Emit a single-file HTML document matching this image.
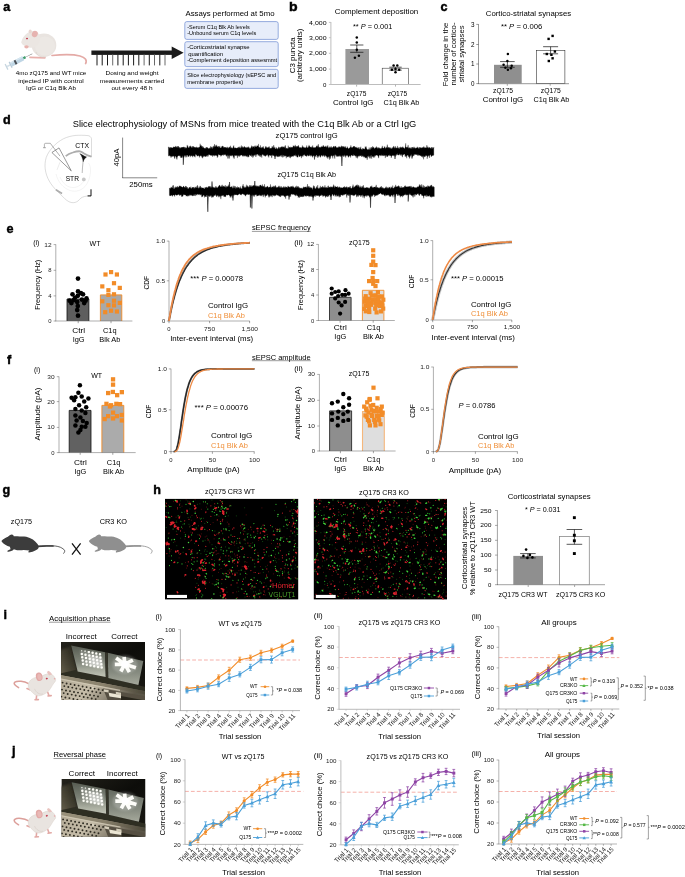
<!DOCTYPE html>
<html lang="en"><head><meta charset="utf-8"><title>Figure</title>
<style>html,body{margin:0;padding:0;background:#fff}svg{display:block}text{font-family:"Liberation Sans",sans-serif}</style></head>
<body>
<svg width="685" height="877" viewBox="0 0 685 877">
<rect width="685" height="877" fill="#fff"/>
<text x="3.3" y="10.5" font-size="12.6" font-weight="bold" fill="#000" stroke="#000" stroke-width="0.45">a</text>
<g>
<path d="M52 55.5 C62 54.5 72 54 80 56 C85 57.5 87.5 60 85.6 63.6" fill="none" stroke="#e4aaa6" stroke-width="1.7" stroke-linecap="round"/>
<path d="M30 57.3 L45 57.8" stroke="#e8b0ac" stroke-width="1.7" stroke-linecap="round"/>
<ellipse cx="44" cy="45.2" rx="12.3" ry="11.8" fill="#e9e4e0"/>
<ellipse cx="45" cy="46" rx="10" ry="9.5" fill="#ece8e4"/>
<path d="M21.2 42.6 C22 38 26 32.5 31 31.2 C36 30 40 33 40 39 C40 45 34 49 29 47.5 C25 46.5 22 45 21.2 42.6Z" fill="#ebe6e2"/>
<ellipse cx="34.8" cy="34" rx="2.9" ry="3.3" fill="#e6b3b0" transform="rotate(25 34.8 34)"/>
<ellipse cx="30.2" cy="31.4" rx="1.6" ry="2" fill="#e9d8d2"/>
<ellipse cx="27" cy="38.6" rx="1" ry="0.8" fill="#c0394b"/>
<ellipse cx="26.5" cy="46.8" rx="2.2" ry="1.6" fill="#e8b3ae"/>
<path d="M36 52 C37 56 41 57.5 46 57" fill="none" stroke="#d9d0ca" stroke-width="0.7"/>
<g transform="rotate(-27 17 61.5)">
<rect x="4.6" y="58.4" width="1.3" height="6.2" fill="#c6d5df"/>
<rect x="5.9" y="60.7" width="3.6" height="1.6" fill="#d3e0e8"/>
<rect x="9.2" y="58.3" width="1.3" height="6.4" fill="#b7cad8"/>
<rect x="10.5" y="59.3" width="13.6" height="4.4" fill="#bfd6e5" rx="0.6"/>
<rect x="10.5" y="59.3" width="13.6" height="1.3" fill="#d6e6f0" rx="0.6"/>
<rect x="14.4" y="59.3" width="1.9" height="4.4" fill="#4a4f55"/>
<rect x="24.1" y="60.3" width="2.5" height="2.4" fill="#3f9e6c"/>
<rect x="26.6" y="61.25" width="7.6" height="0.5" fill="#777"/>
</g>
</g>
<text x="51.0" y="75.1" font-size="5.6" text-anchor="middle" textLength="70.5" lengthAdjust="spacingAndGlyphs">4mo zQ175 and WT mice</text>
<text x="51.0" y="82.7" font-size="5.6" text-anchor="middle" textLength="65.5" lengthAdjust="spacingAndGlyphs">injected IP with control</text>
<text x="51.0" y="89.9" font-size="5.6" text-anchor="middle" textLength="50.0" lengthAdjust="spacingAndGlyphs">IgG or C1q Blk Ab</text>
<rect x="91.4" y="50.5" width="82.0" height="4.4" fill="#1a1a1a" />
<path d="M171.7 46.6 L183.6 52.8 L171.7 59.0Z" fill="#1a1a1a"/>
<rect x="96.5" y="54.5" width="1.0" height="10.9" fill="#1a1a1a" />
<rect x="101.7" y="54.5" width="1.0" height="10.9" fill="#1a1a1a" />
<rect x="107.0" y="54.5" width="1.0" height="10.9" fill="#1a1a1a" />
<rect x="112.2" y="54.5" width="1.0" height="10.9" fill="#6a6a6a" />
<rect x="117.4" y="54.5" width="1.0" height="10.9" fill="#1a1a1a" />
<rect x="122.7" y="54.5" width="1.0" height="10.9" fill="#1a1a1a" />
<rect x="127.9" y="54.5" width="1.0" height="10.9" fill="#1a1a1a" />
<rect x="133.1" y="54.5" width="1.0" height="10.9" fill="#1a1a1a" />
<rect x="138.3" y="54.5" width="1.0" height="10.9" fill="#1a1a1a" />
<rect x="143.6" y="54.5" width="1.0" height="10.9" fill="#6a6a6a" />
<rect x="148.8" y="54.5" width="1.0" height="10.9" fill="#1a1a1a" />
<rect x="154.0" y="54.5" width="1.0" height="10.9" fill="#6a6a6a" />
<rect x="159.3" y="54.5" width="1.0" height="10.9" fill="#1a1a1a" />
<rect x="164.5" y="54.5" width="1.0" height="10.9" fill="#6a6a6a" />
<text x="132.0" y="75.1" font-size="5.6" text-anchor="middle" textLength="53.0" lengthAdjust="spacingAndGlyphs">Dosing and weight</text>
<text x="132.0" y="82.7" font-size="5.6" text-anchor="middle" textLength="64.5" lengthAdjust="spacingAndGlyphs">measurements carried</text>
<text x="132.0" y="89.9" font-size="5.6" text-anchor="middle" textLength="41.0" lengthAdjust="spacingAndGlyphs">out every 48 h</text>
<text x="185.5" y="16.0" font-size="7.2" textLength="89.0" lengthAdjust="spacingAndGlyphs">Assays performed at 5mo</text>
<rect x="184.8" y="21.6" width="93.4" height="17.8" fill="#e7edfa" stroke="#7591d3" stroke-width="0.75" rx="2" />
<rect x="184.8" y="41.7" width="93.4" height="24.9" fill="#e7edfa" stroke="#7591d3" stroke-width="0.75" rx="2" />
<rect x="184.8" y="69.3" width="93.4" height="19.1" fill="#e7edfa" stroke="#7591d3" stroke-width="0.75" rx="2" />
<text x="187.2" y="28.5" font-size="4.6" textLength="62.5" lengthAdjust="spacingAndGlyphs">-Serum C1q Blk Ab levels</text>
<text x="187.2" y="35.0" font-size="4.6" textLength="69.0" lengthAdjust="spacingAndGlyphs">-Unbound serum C1q levels</text>
<text x="187.2" y="49.1" font-size="4.6" textLength="62.5" lengthAdjust="spacingAndGlyphs">-Corticostriatal synapse</text>
<text x="188.2" y="55.6" font-size="4.6" textLength="35.0" lengthAdjust="spacingAndGlyphs">quantification</text>
<text x="187.2" y="62.4" font-size="4.6" textLength="90.0" lengthAdjust="spacingAndGlyphs">-Complement deposition assesmmt</text>
<text x="187.2" y="77.0" font-size="4.6" textLength="89.0" lengthAdjust="spacingAndGlyphs">Slice electrophysiology (sEPSC and</text>
<text x="187.2" y="83.8" font-size="4.6" textLength="56.0" lengthAdjust="spacingAndGlyphs">membrane properties)</text>
<text x="289.0" y="10.5" font-size="12.6" font-weight="bold" fill="#000" stroke="#000" stroke-width="0.45" textLength="8.6" lengthAdjust="spacingAndGlyphs">b</text>
<text x="376.5" y="14.0" font-size="7" text-anchor="middle" textLength="83.5" lengthAdjust="spacingAndGlyphs">Complement deposition</text>
<text transform="translate(294.6 55.3) rotate(-90)" font-size="7" text-anchor="middle" textLength="36.0" lengthAdjust="spacingAndGlyphs">C3 puncta</text>
<text transform="translate(302.3 55.3) rotate(-90)" font-size="7" text-anchor="middle" textLength="53.5" lengthAdjust="spacingAndGlyphs">(arbitrary units)</text>
<rect x="345.4" y="49.0" width="23.6" height="35.6" fill="#9a9a9a" />
<rect x="382.2" y="68.2" width="26.1" height="16.4" fill="#fff" stroke="#333" stroke-width="0.55" />
<line x1="330.9" y1="22.0" x2="330.9" y2="85.0" stroke="#bdbdbd" stroke-width="1.0" />
<line x1="330.4" y1="84.5" x2="420.6" y2="84.5" stroke="#bdbdbd" stroke-width="1.0" />
<line x1="328.9" y1="22.4" x2="330.9" y2="22.4" stroke="#bdbdbd" stroke-width="0.9" />
<text x="326.5" y="24.5" font-size="6.1" text-anchor="end" textLength="17.4" lengthAdjust="spacingAndGlyphs">4,000</text>
<line x1="328.9" y1="37.7" x2="330.9" y2="37.7" stroke="#bdbdbd" stroke-width="0.9" />
<text x="326.5" y="39.8" font-size="6.1" text-anchor="end" textLength="17.4" lengthAdjust="spacingAndGlyphs">3,000</text>
<line x1="328.9" y1="53.3" x2="330.9" y2="53.3" stroke="#bdbdbd" stroke-width="0.9" />
<text x="326.5" y="55.4" font-size="6.1" text-anchor="end" textLength="17.4" lengthAdjust="spacingAndGlyphs">2,000</text>
<line x1="328.9" y1="69.1" x2="330.9" y2="69.1" stroke="#bdbdbd" stroke-width="0.9" />
<text x="326.5" y="71.2" font-size="6.1" text-anchor="end" textLength="17.4" lengthAdjust="spacingAndGlyphs">1,000</text>
<line x1="328.9" y1="84.5" x2="330.9" y2="84.5" stroke="#bdbdbd" stroke-width="0.9" />
<text x="326.5" y="86.6" font-size="6.1" text-anchor="end">0</text>
<line x1="356.6" y1="84.8" x2="356.6" y2="86.6" stroke="#666" stroke-width="0.5" />
<line x1="395.5" y1="84.8" x2="395.5" y2="86.6" stroke="#666" stroke-width="0.5" />
<line x1="356.8" y1="45.0" x2="356.8" y2="52.3" stroke="#111" stroke-width="0.7" />
<line x1="350.2" y1="45.0" x2="363.4" y2="45.0" stroke="#111" stroke-width="0.7" />
<line x1="350.2" y1="52.3" x2="363.4" y2="52.3" stroke="#111" stroke-width="0.7" />
<line x1="395.5" y1="67.2" x2="395.5" y2="70.2" stroke="#111" stroke-width="0.7" />
<line x1="389.3" y1="67.2" x2="401.7" y2="67.2" stroke="#111" stroke-width="0.7" />
<line x1="389.3" y1="70.2" x2="401.7" y2="70.2" stroke="#111" stroke-width="0.7" />
<circle cx="356.8" cy="37.6" r="1.25" fill="#000"/>
<circle cx="356.8" cy="42.4" r="1.25" fill="#000"/>
<circle cx="356.8" cy="49.7" r="1.25" fill="#000"/>
<circle cx="358.9" cy="55.8" r="1.25" fill="#000"/>
<circle cx="354.9" cy="57.7" r="1.25" fill="#000"/>
<circle cx="393.6" cy="65.5" r="1.25" fill="#000"/>
<circle cx="397.3" cy="65.5" r="1.25" fill="#000"/>
<circle cx="391.9" cy="69.7" r="1.25" fill="#000"/>
<circle cx="399.2" cy="69.7" r="1.25" fill="#000"/>
<circle cx="395.5" cy="69.1" r="1.25" fill="#000"/>
<circle cx="395.5" cy="72.3" r="1.25" fill="#000"/>
<text x="352.9" y="29.3" font-size="7" textLength="39.5" lengthAdjust="spacingAndGlyphs">** <tspan font-style="italic">P</tspan> = 0.001</text>
<text x="356.6" y="96.4" font-size="6.4" text-anchor="middle" textLength="19.5" lengthAdjust="spacingAndGlyphs">zQ175</text>
<text x="353.2" y="104.6" font-size="6.4" text-anchor="middle" textLength="40.6" lengthAdjust="spacingAndGlyphs">Control IgG</text>
<text x="397.4" y="96.4" font-size="6.4" text-anchor="middle" textLength="19.5" lengthAdjust="spacingAndGlyphs">zQ175</text>
<text x="401.4" y="104.6" font-size="6.4" text-anchor="middle" textLength="35.9" lengthAdjust="spacingAndGlyphs">C1q Blk Ab</text>
<text x="440.6" y="10.5" font-size="12.6" font-weight="bold" fill="#000" stroke="#000" stroke-width="0.45">c</text>
<text x="528.5" y="15.5" font-size="7" text-anchor="middle" textLength="85.5" lengthAdjust="spacingAndGlyphs">Cortico-striatal synapses</text>
<text transform="translate(447.6 54.6) rotate(-90)" font-size="6.6" text-anchor="middle" textLength="64.0" lengthAdjust="spacingAndGlyphs">Fold change in the</text>
<text transform="translate(456.1 54.0) rotate(-90)" font-size="6.6" text-anchor="middle" textLength="63.0" lengthAdjust="spacingAndGlyphs">number of cortico-</text>
<text transform="translate(464.2 54.0) rotate(-90)" font-size="6.6" text-anchor="middle" textLength="57.0" lengthAdjust="spacingAndGlyphs">striatal synapses</text>
<line x1="478.5" y1="24.2" x2="478.5" y2="83.9" stroke="#333" stroke-width="0.5" />
<line x1="478.3" y1="83.7" x2="569.0" y2="83.7" stroke="#333" stroke-width="0.5" />
<line x1="476.3" y1="24.4" x2="478.5" y2="24.4" stroke="#333" stroke-width="0.5" />
<text x="474.4" y="26.5" font-size="6.3" text-anchor="end">3</text>
<line x1="476.3" y1="44.5" x2="478.5" y2="44.5" stroke="#333" stroke-width="0.5" />
<text x="474.4" y="46.6" font-size="6.3" text-anchor="end">2</text>
<line x1="476.3" y1="64.0" x2="478.5" y2="64.0" stroke="#333" stroke-width="0.5" />
<text x="474.4" y="66.1" font-size="6.3" text-anchor="end">1</text>
<line x1="476.3" y1="83.6" x2="478.5" y2="83.6" stroke="#333" stroke-width="0.5" />
<text x="474.4" y="85.7" font-size="6.3" text-anchor="end">0</text>
<rect x="494.0" y="64.8" width="27.7" height="18.9" fill="#8f8f8f" />
<rect x="536.5" y="50.3" width="28.4" height="33.4" fill="#fff" stroke="#222" stroke-width="0.55" />
<line x1="507.3" y1="83.9" x2="507.3" y2="85.8" stroke="#555" stroke-width="0.5" />
<line x1="550.2" y1="83.9" x2="550.2" y2="85.8" stroke="#555" stroke-width="0.5" />
<line x1="507.4" y1="61.6" x2="507.4" y2="67.3" stroke="#111" stroke-width="0.7" />
<line x1="500.1" y1="61.6" x2="514.7" y2="61.6" stroke="#111" stroke-width="0.7" />
<line x1="500.1" y1="67.3" x2="514.7" y2="67.3" stroke="#111" stroke-width="0.7" />
<line x1="550.6" y1="46.7" x2="550.6" y2="53.8" stroke="#111" stroke-width="0.7" />
<line x1="543.1" y1="46.7" x2="558.1" y2="46.7" stroke="#111" stroke-width="0.7" />
<line x1="543.1" y1="53.8" x2="558.1" y2="53.8" stroke="#111" stroke-width="0.7" />
<circle cx="507.9" cy="54.0" r="1.25" fill="#000"/>
<circle cx="507.4" cy="61.0" r="1.25" fill="#000"/>
<circle cx="503.6" cy="64.8" r="1.25" fill="#000"/>
<circle cx="511.7" cy="65.8" r="1.25" fill="#000"/>
<circle cx="505.4" cy="67.8" r="1.25" fill="#000"/>
<circle cx="507.9" cy="69.8" r="1.25" fill="#000"/>
<circle cx="510.9" cy="68.3" r="1.25" fill="#000"/>
<rect x="551.4" y="34.7" width="2.4" height="2.4" fill="#000"/>
<rect x="547.4" y="37.7" width="2.4" height="2.4" fill="#000"/>
<rect x="553.7" y="50.3" width="2.4" height="2.4" fill="#000"/>
<rect x="545.6" y="52.8" width="2.4" height="2.4" fill="#000"/>
<rect x="550.2" y="53.6" width="2.4" height="2.4" fill="#000"/>
<rect x="551.4" y="57.1" width="2.4" height="2.4" fill="#000"/>
<rect x="547.6" y="59.8" width="2.4" height="2.4" fill="#000"/>
<text x="501.0" y="29.3" font-size="7" textLength="41.3" lengthAdjust="spacingAndGlyphs">** <tspan font-style="italic">P</tspan> = 0.006</text>
<text x="503.0" y="93.2" font-size="6.4" text-anchor="middle" textLength="20.0" lengthAdjust="spacingAndGlyphs">zQ175</text>
<text x="503.0" y="102.2" font-size="6.4" text-anchor="middle" textLength="40.5" lengthAdjust="spacingAndGlyphs">Control IgG</text>
<text x="550.8" y="93.2" font-size="6.4" text-anchor="middle" textLength="20.0" lengthAdjust="spacingAndGlyphs">zQ175</text>
<text x="551.4" y="102.2" font-size="6.4" text-anchor="middle" textLength="36.0" lengthAdjust="spacingAndGlyphs">C1q Blk Ab</text>
<text x="3.1" y="124.3" font-size="12.6" font-weight="bold" fill="#000" stroke="#000" stroke-width="0.45">d</text>
<text x="72.8" y="126.7" font-size="8.2" textLength="343.5" lengthAdjust="spacingAndGlyphs">Slice electrophysiology of MSNs from mice treated with the C1q Blk Ab or a Ctrl IgG</text>
<g fill="none" stroke="#a8a8a8" stroke-width="0.4">
<path d="M91.5 157 L91.5 138.7 C90.8 136.6 89.6 135.8 88 135.6 C84 135.2 79 135.2 75.9 135.4 C71.5 135.8 67 137 63.6 138.7 C59.5 140.8 56 143.5 53.4 146.4 C50 150 47.5 153.8 46.2 157.6 C45 161.5 44.8 165.2 45.2 168.9 C45.8 173.5 47.2 177.5 49.3 181.1 C51.5 185 54.5 188.5 57.5 191.4 C60 193.8 62.5 196.5 64.6 198.5 C66.8 200.6 69.2 202.2 71.8 202.6 C74.2 202.9 76.3 202.2 77.9 201.1 C79.2 200.1 79.8 198.8 81 198 C83 196.7 85.5 196.2 88.1 196 L91.5 196"/>
</g>
<g fill="none" stroke="#e4e4e4" stroke-width="0.4">
<path d="M60 162.2 L57 169.9" stroke="#cfcfcf"/>
<path d="M56 174 C58 182 63 188 70 190.5 C76 192.3 81 190.5 85 186.5 C88 183 90 178 90.5 172 C90.8 168 90 165 88.5 163"/>
<path d="M60 177 C63 184 68 188 74 187.5 C79 187 83 183.5 85 179"/>
</g>
<path d="M65.7 156.1 C68 154.2 70.4 153.2 72.8 152.5 C75.2 151.7 77.8 151.1 80 151.3 C81.8 151.6 82.8 152.8 84 153.5 C86.2 154.9 88.8 156 91.5 156.6" fill="none" stroke="#adadad" stroke-width="1.8"/>
<path d="M79.8 153.6 C82 154.6 84 156.3 86.6 156.9 C85 158 83.8 159.6 83.1 161.9 C82.8 159 81.8 155.8 79.8 153.6Z" fill="#111" stroke="#111" stroke-width="0.3"/>
<path d="M83.1 161.5 C82.6 165 82.4 169 82.2 173" fill="none" stroke="#555" stroke-width="0.4"/>
<path d="M91 189.3 L91 195.9 L87.6 195.9" fill="none" stroke="#111" stroke-width="1.0"/>
<circle cx="83.8" cy="179.4" r="1.9" fill="#c6c6c6"/>
<path d="M55.9 189.8 C58 191.2 60 192.4 62.1 193.4" fill="none" stroke="#adadad" stroke-width="1.7"/>
<path d="M51.9 152.5 L59 147.9 L71.3 170.9Z" fill="#fff" stroke="#333" stroke-width="0.5" stroke-linejoin="round"/>
<path d="M50.3 143.3 L60 156.1" fill="none" stroke="#333" stroke-width="0.4"/>
<path d="M50.3 143.3 L45.6 143.3 C44.8 143.3 44.4 143.7 44.4 144.5 L44.4 147.4" fill="none" stroke="#555" stroke-width="0.45"/>
<path d="M43.1 147.7 L45.8 147.7" fill="none" stroke="#777" stroke-width="0.7"/>
<text x="75.3" y="147.9" font-size="6.5" textLength="13.7" lengthAdjust="spacingAndGlyphs">CTX</text>
<text x="65.7" y="181.2" font-size="6.8" textLength="13.3" lengthAdjust="spacingAndGlyphs">STR</text>
<line x1="122.6" y1="137.6" x2="122.6" y2="178.0" stroke="#222" stroke-width="0.55" />
<line x1="122.4" y1="177.8" x2="157.2" y2="177.8" stroke="#222" stroke-width="0.55" />
<text transform="translate(118.8 157.6) rotate(-90)" font-size="6.6" text-anchor="middle" textLength="18.0" lengthAdjust="spacingAndGlyphs">40pA</text>
<text x="141.0" y="186.9" font-size="6.6" text-anchor="middle" textLength="23.5" lengthAdjust="spacingAndGlyphs">250ms</text>
<text x="275.6" y="138.1" font-size="6.6" textLength="62.0" lengthAdjust="spacingAndGlyphs">zQ175 control IgG</text>
<text x="277.4" y="176.9" font-size="6.6" textLength="58.6" lengthAdjust="spacingAndGlyphs">zQ175 C1q Blk Ab</text>
<path d="M168.4,147.1 168.7,146.8 169.1,148.3 169.4,148.3 169.7,147.2 170.1,147.7 170.4,148.4 170.7,147.0 171.0,148.2 171.4,147.3 171.7,148.2 172.0,147.8 172.4,148.1 172.7,147.8 173.0,147.5 173.4,147.2 173.7,146.7 174.0,146.9 174.3,146.9 174.7,147.0 175.0,147.8 175.3,147.1 175.7,145.9 176.0,146.9 176.3,147.5 176.7,146.9 177.0,146.3 177.3,148.2 177.6,146.2 178.0,147.5 178.3,146.1 178.6,146.5 179.0,147.9 179.3,148.6 179.6,147.1 180.0,147.9 180.3,147.6 180.6,148.1 180.9,148.4 181.3,147.1 181.6,147.6 181.9,148.1 182.3,147.0 182.6,148.1 182.9,147.1 183.3,147.6 183.6,146.8 183.9,147.3 184.2,147.3 184.6,147.2 184.9,148.7 185.2,147.0 185.6,148.8 185.9,148.1 186.2,148.2 186.6,147.9 186.9,147.1 187.2,144.9 187.5,147.2 187.9,145.8 188.2,147.4 188.5,147.8 188.9,147.8 189.2,147.4 189.5,146.9 189.9,145.9 190.2,147.0 190.5,145.7 190.8,146.4 191.2,148.1 191.5,147.7 191.8,146.6 192.2,148.3 192.5,146.1 192.8,147.3 193.2,146.8 193.5,146.2 193.8,147.6 194.1,147.3 194.5,147.2 194.8,147.2 195.1,147.9 195.5,147.1 195.8,148.0 196.1,147.5 196.5,146.7 196.8,148.1 197.1,147.9 197.4,147.4 197.8,147.6 198.1,148.3 198.4,148.0 198.8,147.0 199.1,147.6 199.4,147.0 199.8,147.3 200.1,143.7 200.4,146.1 200.7,146.1 201.1,145.0 201.4,147.0 201.7,146.0 202.1,147.5 202.4,147.7 202.7,146.0 203.1,147.2 203.4,147.0 203.7,147.9 204.1,148.3 204.4,147.9 204.7,148.2 205.0,148.9 205.4,148.2 205.7,148.0 206.0,147.6 206.4,147.1 206.7,147.8 207.0,148.8 207.4,147.3 207.7,148.0 208.0,148.1 208.3,148.7 208.7,148.8 209.0,148.0 209.3,147.8 209.7,148.7 210.0,148.6 210.3,148.2 210.7,146.2 211.0,148.9 211.3,146.8 211.6,148.5 212.0,147.1 212.3,148.7 212.6,148.5 213.0,146.3 213.3,146.1 213.6,147.3 214.0,147.5 214.3,145.4 214.6,144.1 214.9,147.3 215.3,147.1 215.6,145.5 215.9,145.8 216.3,146.6 216.6,144.8 216.9,146.6 217.3,146.4 217.6,146.9 217.9,146.7 218.2,146.5 218.6,146.0 218.9,147.9 219.2,147.2 219.6,147.1 219.9,145.9 220.2,147.5 220.6,147.9 220.9,147.9 221.2,147.6 221.5,147.4 221.9,146.2 222.2,146.5 222.5,145.8 222.9,146.6 223.2,146.3 223.5,147.4 223.9,147.4 224.2,147.0 224.5,147.2 224.8,147.8 225.2,147.0 225.5,147.7 225.8,147.4 226.2,148.2 226.5,147.6 226.8,148.0 227.2,146.7 227.5,148.2 227.8,148.3 228.1,147.3 228.5,148.4 228.8,148.1 229.1,147.5 229.5,147.2 229.8,147.0 230.1,147.2 230.5,145.7 230.8,148.4 231.1,147.8 231.4,148.5 231.8,147.6 232.1,147.6 232.4,148.6 232.8,148.2 233.1,147.8 233.4,146.2 233.8,145.5 234.1,148.1 234.4,148.6 234.8,147.6 235.1,148.2 235.4,147.7 235.7,148.1 236.1,148.0 236.4,148.1 236.7,148.6 237.1,148.0 237.4,148.2 237.7,147.5 238.1,148.4 238.4,147.2 238.7,148.0 239.0,146.7 239.4,148.0 239.7,148.2 240.0,146.5 240.4,148.5 240.7,148.0 241.0,147.8 241.4,145.4 241.7,147.4 242.0,147.4 242.3,147.8 242.7,146.3 243.0,147.6 243.3,147.1 243.7,147.8 244.0,147.7 244.3,146.2 244.7,147.1 245.0,147.3 245.3,148.1 245.6,147.4 246.0,147.2 246.3,147.9 246.6,148.1 247.0,146.8 247.3,147.1 247.6,148.0 248.0,147.7 248.3,147.0 248.6,146.6 248.9,148.1 249.3,147.6 249.6,148.5 249.9,148.6 250.3,148.4 250.6,147.9 250.9,147.4 251.3,146.9 251.6,145.6 251.9,147.4 252.2,146.2 252.6,147.3 252.9,148.0 253.2,146.3 253.6,146.8 253.9,147.0 254.2,147.9 254.6,145.7 254.9,147.1 255.2,146.7 255.5,147.3 255.9,145.5 256.2,147.0 256.5,146.9 256.9,146.2 257.2,145.6 257.5,146.3 257.9,145.8 258.2,147.0 258.5,143.9 258.8,147.3 259.2,147.4 259.5,147.0 259.8,147.4 260.2,147.9 260.5,145.3 260.8,148.1 261.2,148.2 261.5,147.9 261.8,147.2 262.1,147.8 262.5,147.2 262.8,147.7 263.1,146.2 263.5,147.6 263.8,148.3 264.1,148.9 264.5,148.7 264.8,148.7 265.1,148.1 265.4,146.3 265.8,147.3 266.1,147.7 266.4,146.6 266.8,148.1 267.1,148.0 267.4,147.4 267.8,147.8 268.1,148.0 268.4,147.2 268.8,147.0 269.1,146.4 269.4,147.0 269.7,148.8 270.1,148.0 270.4,148.1 270.7,149.0 271.1,148.5 271.4,148.0 271.7,148.2 272.1,146.1 272.4,147.2 272.7,147.6 273.0,147.5 273.4,148.0 273.7,145.1 274.0,146.3 274.4,147.7 274.7,147.6 275.0,148.4 275.4,148.9 275.7,148.9 276.0,147.2 276.3,147.8 276.7,148.8 277.0,148.4 277.3,148.5 277.7,149.5 278.0,148.4 278.3,148.3 278.7,146.7 279.0,147.6 279.3,149.2 279.6,147.2 280.0,148.7 280.3,147.3 280.6,147.7 281.0,147.1 281.3,146.5 281.6,147.1 282.0,147.6 282.3,147.3 282.6,146.9 282.9,146.3 283.3,146.9 283.6,147.0 283.9,147.6 284.3,147.7 284.6,146.4 284.9,147.5 285.3,145.2 285.6,146.9 285.9,148.8 286.2,148.3 286.6,147.9 286.9,148.4 287.2,148.7 287.6,148.2 287.9,148.3 288.2,145.6 288.6,148.7 288.9,148.1 289.2,147.1 289.5,147.9 289.9,147.0 290.2,146.8 290.5,147.7 290.9,147.8 291.2,147.8 291.5,147.2 291.9,147.0 292.2,146.9 292.5,147.6 292.8,147.7 293.2,145.5 293.5,145.9 293.8,146.6 294.2,145.9 294.5,147.4 294.8,146.6 295.2,144.8 295.5,147.4 295.8,146.1 296.1,147.4 296.5,146.3 296.8,146.8 297.1,146.3 297.5,147.0 297.8,145.9 298.1,145.6 298.5,145.6 298.8,146.4 299.1,148.0 299.4,147.4 299.8,147.5 300.1,147.9 300.4,147.3 300.8,148.0 301.1,147.4 301.4,148.6 301.8,147.5 302.1,146.9 302.4,145.4 302.8,147.2 303.1,147.5 303.4,146.7 303.7,147.9 304.1,146.9 304.4,147.9 304.7,147.9 305.1,147.7 305.4,148.3 305.7,147.7 306.1,147.0 306.4,147.9 306.7,145.4 307.0,147.4 307.4,147.5 307.7,148.1 308.0,147.8 308.4,146.3 308.7,147.9 309.0,144.9 309.4,147.0 309.7,146.1 310.0,147.1 310.3,147.3 310.7,147.3 311.0,146.8 311.3,146.8 311.7,147.7 312.0,147.6 312.3,147.5 312.7,145.4 313.0,146.9 313.3,148.0 313.6,147.6 314.0,148.1 314.3,147.2 314.6,148.1 315.0,147.8 315.3,147.5 315.6,147.4 316.0,147.0 316.3,146.8 316.6,145.8 316.9,145.9 317.3,147.0 317.6,145.5 317.9,147.8 318.3,144.1 318.6,146.4 318.9,147.8 319.3,147.2 319.6,147.2 319.9,147.3 320.2,147.4 320.6,147.4 320.9,146.8 321.2,146.9 321.6,147.3 321.9,145.9 322.2,146.4 322.6,147.1 322.9,147.0 323.2,145.1 323.5,146.2 323.9,146.5 324.2,147.1 324.5,147.0 324.9,146.5 325.2,146.8 325.5,146.9 325.9,145.7 326.2,146.6 326.5,147.4 326.8,147.3 327.2,146.2 327.5,147.5 327.8,145.2 328.2,147.3 328.5,148.5 328.8,147.4 329.2,147.7 329.5,147.8 329.8,146.5 330.1,147.4 330.5,147.6 330.8,147.5 331.1,146.2 331.5,147.6 331.8,147.7 332.1,147.9 332.5,147.1 332.8,148.4 333.1,147.1 333.4,146.4 333.8,146.1 334.1,147.6 334.4,147.3 334.8,146.3 335.1,146.3 335.4,146.4 335.8,145.9 336.1,148.1 336.4,147.5 336.8,147.4 337.1,147.4 337.4,148.0 337.7,147.5 338.1,147.5 338.4,146.5 338.7,147.7 339.1,146.9 339.4,146.4 339.7,147.3 340.1,147.2 340.4,147.6 340.7,147.2 341.0,146.3 341.4,145.7 341.7,146.7 342.0,147.5 342.4,147.0 342.7,146.0 343.0,147.3 343.4,146.3 343.7,146.7 344.0,147.6 344.3,147.6 344.7,146.4 345.0,147.8 345.3,147.8 345.7,146.3 346.0,148.0 346.3,148.0 346.7,148.4 347.0,147.6 347.3,146.6 347.6,147.7 348.0,148.2 348.3,148.8 348.6,148.7 349.0,148.4 349.3,147.8 349.6,148.2 350.0,147.5 350.3,146.9 350.6,147.7 350.9,145.3 351.3,147.8 351.6,147.7 351.9,147.2 352.3,147.6 352.6,147.4 352.9,147.5 353.3,146.3 353.6,146.5 353.9,146.6 354.2,146.0 354.6,146.5 354.9,147.4 355.2,147.3 355.6,147.0 355.9,147.7 356.2,148.1 356.6,147.7 356.9,146.8 357.2,148.0 357.5,148.2 357.9,148.3 358.2,148.8 358.5,148.1 358.9,147.1 359.2,147.5 359.5,149.3 359.9,149.2 360.2,148.8 360.5,148.1 360.8,146.7 361.2,149.9 361.5,148.9 361.8,149.2 362.2,149.8 362.5,148.1 362.8,149.8 363.2,148.7 363.5,148.6 363.8,149.0 364.1,149.0 364.5,148.9 364.8,149.8 365.1,146.6 365.5,148.0 365.8,146.9 366.1,146.4 366.5,148.4 366.8,148.6 367.1,149.7 367.4,149.7 367.8,149.6 368.1,149.0 368.4,149.8 368.8,150.0 369.1,147.5 369.4,149.7 369.8,149.4 370.1,149.4 370.4,149.5 370.8,147.5 371.1,148.6 371.4,147.0 371.7,148.7 372.1,148.2 372.4,147.8 372.7,146.2 373.1,147.5 373.4,147.4 373.7,147.0 374.1,148.8 374.4,148.6 374.7,148.4 375.0,147.7 375.4,147.7 375.7,148.0 376.0,148.3 376.4,146.5 376.7,146.9 377.0,148.2 377.4,148.3 377.7,148.5 378.0,147.1 378.3,148.0 378.7,147.9 379.0,148.9 379.3,147.7 379.7,147.9 380.0,149.2 380.3,148.1 380.7,149.3 381.0,148.7 381.3,148.8 381.6,147.7 382.0,147.4 382.3,145.8 382.6,148.0 383.0,147.9 383.3,148.3 383.6,147.9 384.0,148.3 384.3,146.4 384.6,148.0 384.9,146.7 385.3,148.7 385.6,148.3 385.9,147.7 386.3,147.4 386.6,148.1 386.9,146.8 387.3,144.6 387.6,147.7 387.9,147.8 388.2,147.2 388.6,147.3 388.9,148.2 389.2,148.1 389.6,147.3 389.9,148.4 390.2,148.5 390.6,147.5 390.9,148.8 391.2,148.3 391.5,148.9 391.9,148.6 392.2,147.3 392.5,148.0 392.9,148.4 393.2,147.4 393.5,146.2 393.9,146.4 394.2,148.3 394.5,148.2 394.8,147.3 395.2,146.1 395.5,148.6 395.8,147.5 396.2,148.2 396.5,148.3 396.8,147.8 397.2,148.2 397.5,145.9 397.8,147.9 398.1,148.5 398.5,148.3 398.8,147.4 399.1,148.5 399.5,148.7 399.8,147.2 400.1,147.7 400.5,146.7 400.8,148.0 401.1,148.0 401.5,147.6 401.8,147.2 402.1,147.3 402.4,147.9 402.8,146.5 403.1,147.9 403.4,147.6 403.8,147.7 404.1,148.4 404.4,148.5 404.8,148.6 405.1,147.1 405.4,147.2 405.7,143.3 406.1,147.5 406.4,147.0 406.7,147.4 407.1,147.5 407.4,147.2 407.7,147.2 408.1,144.9 408.4,148.0 408.7,148.4 409.0,147.4 409.4,148.0 409.7,147.7 410.0,148.7 410.4,147.6 410.7,148.7 411.0,148.4 411.4,148.8 411.7,147.2 412.0,148.3 412.3,147.0 412.7,147.4 413.0,149.2 413.3,147.6 413.7,148.3 414.0,146.7 414.3,148.3 414.7,147.6 415.0,148.7 415.3,148.5 415.6,148.0 416.0,147.7 416.3,147.7 416.6,147.9 417.0,148.3 417.3,146.7 417.6,148.0 418.0,147.5 418.3,148.9 418.6,148.6 418.9,147.6 419.3,148.9 419.6,147.0 419.9,147.7 420.3,147.9 420.6,147.3 420.9,148.3 421.3,148.1 421.6,148.3 421.9,147.4 422.2,148.1 422.6,147.7 422.9,147.2 423.2,148.0 423.6,147.0 423.9,146.4 424.2,147.4 424.6,147.5 424.9,148.3 425.2,148.1 425.5,147.8 425.9,147.5 426.2,147.7 426.5,148.2 426.9,145.1 427.2,147.4 427.5,147.9 427.9,146.6 428.2,148.5 428.5,147.5 428.8,148.3 429.2,147.3 429.5,147.4 429.8,147.8 430.2,148.1 430.5,148.7 430.8,148.0 431.2,147.1 431.5,147.4 431.8,148.6 432.1,149.1 432.5,147.2 432.8,148.5 433.1,147.8 433.5,148.6 433.8,147.0 L433.8,154.7 433.5,155.4 433.1,155.2 432.8,155.1 432.5,155.9 432.1,155.2 431.8,155.9 431.5,156.4 431.2,156.7 430.8,154.9 430.5,154.8 430.2,154.7 429.8,155.3 429.5,158.0 429.2,155.7 428.8,155.2 428.5,155.8 428.2,156.1 427.9,156.7 427.5,155.6 427.2,158.9 426.9,155.3 426.5,155.5 426.2,155.9 425.9,155.0 425.5,156.2 425.2,156.6 424.9,156.2 424.6,156.9 424.2,156.5 423.9,155.8 423.6,159.4 423.2,155.6 422.9,156.3 422.6,157.4 422.2,155.7 421.9,155.6 421.6,156.5 421.3,156.7 420.9,155.2 420.6,155.4 420.3,155.9 419.9,155.4 419.6,155.0 419.3,154.9 418.9,155.6 418.6,154.6 418.3,154.7 418.0,155.6 417.6,153.9 417.3,155.4 417.0,155.0 416.6,154.7 416.3,154.1 416.0,154.8 415.6,153.7 415.3,154.8 415.0,154.1 414.7,154.1 414.3,154.9 414.0,155.8 413.7,156.0 413.3,154.2 413.0,156.0 412.7,155.5 412.3,157.2 412.0,155.9 411.7,155.2 411.4,154.3 411.0,154.4 410.7,156.1 410.4,154.8 410.0,157.4 409.7,157.2 409.4,158.6 409.0,155.4 408.7,156.7 408.4,156.8 408.1,155.0 407.7,155.2 407.4,155.3 407.1,155.0 406.7,158.3 406.4,155.8 406.1,155.8 405.7,156.6 405.4,154.8 405.1,156.7 404.8,154.5 404.4,154.1 404.1,154.0 403.8,154.4 403.4,154.6 403.1,155.0 402.8,154.6 402.4,157.2 402.1,156.3 401.8,155.5 401.5,154.6 401.1,154.3 400.8,155.7 400.5,153.9 400.1,154.7 399.8,155.2 399.5,153.6 399.1,154.2 398.8,154.7 398.5,155.2 398.1,155.0 397.8,154.2 397.5,155.1 397.2,153.3 396.8,154.2 396.5,155.5 396.2,154.6 395.8,154.7 395.5,154.7 395.2,156.6 394.8,155.4 394.5,154.9 394.2,155.5 393.9,156.2 393.5,155.1 393.2,155.0 392.9,155.9 392.5,155.2 392.2,154.8 391.9,155.8 391.5,156.6 391.2,157.9 390.9,155.6 390.6,155.6 390.2,156.1 389.9,155.0 389.6,154.5 389.2,156.1 388.9,154.9 388.6,155.2 388.2,155.6 387.9,155.9 387.6,156.9 387.3,156.5 386.9,155.0 386.6,156.7 386.3,154.9 385.9,155.2 385.6,155.1 385.3,158.1 384.9,155.0 384.6,155.5 384.3,155.0 384.0,155.9 383.6,154.5 383.3,156.1 383.0,155.6 382.6,155.8 382.3,154.9 382.0,155.2 381.6,154.6 381.3,155.7 381.0,156.2 380.7,155.4 380.3,155.2 380.0,155.0 379.7,154.9 379.3,155.5 379.0,156.1 378.7,158.2 378.3,156.7 378.0,155.5 377.7,155.5 377.4,155.4 377.0,155.3 376.7,155.1 376.4,155.3 376.0,155.1 375.7,155.3 375.4,156.1 375.0,156.0 374.7,157.4 374.4,155.6 374.1,155.8 373.7,157.8 373.4,156.2 373.1,156.6 372.7,156.6 372.4,156.4 372.1,156.2 371.7,158.8 371.4,155.9 371.1,155.1 370.8,155.7 370.4,158.5 370.1,155.4 369.8,156.1 369.4,158.4 369.1,156.0 368.8,157.2 368.4,155.4 368.1,155.9 367.8,156.0 367.4,158.0 367.1,159.9 366.8,156.9 366.5,157.6 366.1,158.2 365.8,157.7 365.5,157.1 365.1,158.2 364.8,157.1 364.5,156.2 364.1,157.0 363.8,155.7 363.5,157.3 363.2,155.7 362.8,155.8 362.5,156.5 362.2,155.8 361.8,155.5 361.5,157.0 361.2,155.4 360.8,155.4 360.5,156.0 360.2,155.7 359.9,155.3 359.5,156.3 359.2,155.8 358.9,156.5 358.5,156.1 358.2,155.5 357.9,156.8 357.5,158.4 357.2,156.3 356.9,155.7 356.6,155.8 356.2,158.1 355.9,155.6 355.6,156.4 355.2,155.7 354.9,155.7 354.6,154.9 354.2,155.4 353.9,154.5 353.6,155.9 353.3,154.5 352.9,154.8 352.6,156.0 352.3,156.1 351.9,154.9 351.6,155.0 351.3,155.3 350.9,155.5 350.6,157.6 350.3,155.7 350.0,156.2 349.6,156.0 349.3,155.1 349.0,156.2 348.6,157.3 348.3,157.2 348.0,156.1 347.6,155.1 347.3,155.4 347.0,156.3 346.7,155.8 346.3,155.0 346.0,155.3 345.7,157.6 345.3,154.9 345.0,156.4 344.7,155.4 344.3,154.4 344.0,156.2 343.7,156.9 343.4,155.2 343.0,155.7 342.7,155.1 342.4,155.7 342.0,155.4 341.7,155.4 341.4,156.4 341.0,156.4 340.7,155.7 340.4,156.8 340.1,155.2 339.7,155.7 339.4,156.4 339.1,155.6 338.7,156.4 338.4,155.4 338.1,156.4 337.7,156.8 337.4,155.7 337.1,156.1 336.8,156.4 336.4,156.2 336.1,154.8 335.8,154.8 335.4,154.8 335.1,156.2 334.8,158.7 334.4,155.4 334.1,154.5 333.8,156.2 333.4,155.1 333.1,155.4 332.8,158.5 332.5,155.6 332.1,156.3 331.8,155.3 331.5,155.9 331.1,155.4 330.8,156.1 330.5,158.7 330.1,156.5 329.8,156.2 329.5,159.7 329.2,158.3 328.8,155.9 328.5,157.1 328.2,156.8 327.8,158.7 327.5,156.7 327.2,157.1 326.8,157.5 326.5,156.6 326.2,156.0 325.9,155.4 325.5,155.6 325.2,155.4 324.9,157.1 324.5,154.8 324.2,156.5 323.9,155.1 323.5,154.8 323.2,156.1 322.9,154.8 322.6,156.1 322.2,156.4 321.9,155.7 321.6,155.4 321.2,154.8 320.9,155.7 320.6,157.0 320.2,157.4 319.9,156.0 319.6,155.1 319.3,155.6 318.9,156.7 318.6,156.1 318.3,155.4 317.9,158.0 317.6,155.7 317.3,156.5 316.9,155.1 316.6,155.0 316.3,154.7 316.0,157.2 315.6,155.7 315.3,155.7 315.0,156.2 314.6,155.3 314.3,155.4 314.0,155.6 313.6,155.9 313.3,155.7 313.0,155.3 312.7,157.4 312.3,156.5 312.0,155.9 311.7,155.9 311.3,154.9 311.0,154.7 310.7,156.5 310.3,154.7 310.0,155.4 309.7,155.9 309.4,154.5 309.0,155.1 308.7,156.3 308.4,155.7 308.0,155.7 307.7,154.7 307.4,155.0 307.0,156.2 306.7,156.6 306.4,156.1 306.1,155.4 305.7,155.6 305.4,155.9 305.1,156.1 304.7,154.6 304.4,154.6 304.1,155.3 303.7,154.8 303.4,154.7 303.1,156.5 302.8,156.6 302.4,155.5 302.1,155.7 301.8,156.1 301.4,158.2 301.1,155.8 300.8,156.0 300.4,155.5 300.1,156.5 299.8,156.6 299.4,156.2 299.1,156.9 298.8,154.6 298.5,155.0 298.1,156.2 297.8,157.4 297.5,156.9 297.1,156.9 296.8,157.1 296.5,155.2 296.1,155.8 295.8,155.2 295.5,156.3 295.2,154.6 294.8,154.9 294.5,155.3 294.2,156.0 293.8,155.8 293.5,155.3 293.2,156.7 292.8,155.7 292.5,156.3 292.2,156.2 291.9,155.8 291.5,157.0 291.2,156.6 290.9,156.1 290.5,158.2 290.2,156.8 289.9,156.7 289.5,157.6 289.2,155.4 288.9,156.3 288.6,156.1 288.2,157.2 287.9,156.8 287.6,156.4 287.2,157.2 286.9,156.2 286.6,155.6 286.2,158.3 285.9,155.2 285.6,155.9 285.3,155.9 284.9,156.5 284.6,156.2 284.3,155.8 283.9,154.9 283.6,155.2 283.3,156.8 282.9,157.5 282.6,155.8 282.3,154.6 282.0,157.2 281.6,154.9 281.3,154.8 281.0,156.7 280.6,155.2 280.3,155.3 280.0,156.0 279.6,156.4 279.3,155.6 279.0,156.9 278.7,156.8 278.3,155.5 278.0,156.7 277.7,156.9 277.3,155.9 277.0,156.0 276.7,156.5 276.3,155.0 276.0,156.2 275.7,155.7 275.4,155.4 275.0,157.0 274.7,156.1 274.4,156.0 274.0,155.3 273.7,155.4 273.4,155.7 273.0,155.2 272.7,154.5 272.4,155.5 272.1,156.2 271.7,158.1 271.4,155.0 271.1,154.9 270.7,155.9 270.4,155.3 270.1,155.1 269.7,154.9 269.4,155.5 269.1,154.8 268.8,157.5 268.4,155.0 268.1,156.3 267.8,154.2 267.4,155.3 267.1,154.2 266.8,155.0 266.4,155.5 266.1,155.0 265.8,155.9 265.4,156.5 265.1,155.5 264.8,156.2 264.5,154.7 264.1,155.8 263.8,155.8 263.5,154.5 263.1,155.0 262.8,154.6 262.5,154.6 262.1,154.6 261.8,157.7 261.5,154.5 261.2,155.6 260.8,157.1 260.5,155.4 260.2,154.7 259.8,156.5 259.5,156.1 259.2,154.4 258.8,155.0 258.5,154.2 258.2,156.0 257.9,153.7 257.5,154.5 257.2,154.1 256.9,154.5 256.5,154.3 256.2,155.8 255.9,157.0 255.5,155.1 255.2,154.5 254.9,154.6 254.6,155.3 254.2,155.6 253.9,154.8 253.6,155.9 253.2,156.7 252.9,157.7 252.6,156.3 252.2,155.4 251.9,154.2 251.6,156.9 251.3,154.5 250.9,156.2 250.6,155.1 250.3,155.7 249.9,154.7 249.6,155.1 249.3,154.7 248.9,157.0 248.6,155.7 248.3,157.3 248.0,156.2 247.6,155.2 247.3,157.0 247.0,157.2 246.6,156.3 246.3,155.8 246.0,156.0 245.6,154.9 245.3,156.3 245.0,156.3 244.7,156.3 244.3,155.5 244.0,155.5 243.7,155.5 243.3,155.7 243.0,156.7 242.7,155.4 242.3,155.9 242.0,154.7 241.7,155.0 241.4,154.9 241.0,155.2 240.7,155.7 240.4,155.1 240.0,155.3 239.7,156.6 239.4,155.1 239.0,156.6 238.7,155.8 238.4,155.8 238.1,155.3 237.7,155.5 237.4,158.1 237.1,155.6 236.7,155.1 236.4,155.6 236.1,156.0 235.7,155.7 235.4,155.6 235.1,155.0 234.8,155.3 234.4,155.7 234.1,158.9 233.8,155.3 233.4,157.7 233.1,156.8 232.8,155.0 232.4,155.2 232.1,155.7 231.8,154.9 231.4,156.3 231.1,154.7 230.8,155.9 230.5,154.8 230.1,156.1 229.8,155.1 229.5,158.6 229.1,155.0 228.8,154.4 228.5,156.1 228.1,155.3 227.8,155.1 227.5,154.6 227.2,156.1 226.8,156.5 226.5,155.8 226.2,155.4 225.8,154.9 225.5,155.3 225.2,153.8 224.8,154.5 224.5,155.2 224.2,154.6 223.9,154.1 223.5,155.5 223.2,154.9 222.9,155.0 222.5,154.4 222.2,155.2 221.9,155.0 221.5,155.8 221.2,154.7 220.9,156.5 220.6,154.9 220.2,155.1 219.9,154.7 219.6,155.2 219.2,154.7 218.9,154.8 218.6,154.3 218.2,154.8 217.9,156.8 217.6,155.6 217.3,157.8 216.9,155.5 216.6,155.9 216.3,154.8 215.9,155.6 215.6,155.3 215.3,155.2 214.9,155.5 214.6,154.7 214.3,156.3 214.0,155.4 213.6,155.1 213.3,155.5 213.0,155.7 212.6,156.7 212.3,154.9 212.0,155.1 211.6,155.2 211.3,155.6 211.0,155.8 210.7,155.1 210.3,155.3 210.0,154.9 209.7,154.9 209.3,154.6 209.0,154.5 208.7,154.4 208.3,155.4 208.0,156.6 207.7,155.1 207.4,155.1 207.0,156.7 206.7,155.8 206.4,155.8 206.0,155.7 205.7,156.9 205.4,156.5 205.0,156.3 204.7,156.0 204.4,156.4 204.1,155.6 203.7,156.9 203.4,155.8 203.1,155.7 202.7,158.3 202.4,156.3 202.1,157.8 201.7,156.0 201.4,155.6 201.1,156.4 200.7,155.6 200.4,156.1 200.1,155.6 199.8,156.1 199.4,157.5 199.1,156.1 198.8,155.9 198.4,155.3 198.1,155.4 197.8,156.2 197.4,155.5 197.1,156.3 196.8,155.2 196.5,154.9 196.1,154.5 195.8,154.2 195.5,154.6 195.1,157.3 194.8,156.8 194.5,156.2 194.1,156.1 193.8,156.1 193.5,155.4 193.2,155.5 192.8,157.3 192.5,156.1 192.2,155.7 191.8,155.4 191.5,156.2 191.2,155.3 190.8,156.1 190.5,155.0 190.2,157.2 189.9,155.1 189.5,155.7 189.2,155.1 188.9,156.1 188.5,156.5 188.2,157.0 187.9,155.3 187.5,155.3 187.2,154.9 186.9,157.2 186.6,155.1 186.2,155.2 185.9,157.5 185.6,155.8 185.2,155.5 184.9,155.6 184.6,155.3 184.2,156.4 183.9,157.3 183.6,155.5 183.3,157.6 182.9,156.7 182.6,155.3 182.3,156.7 181.9,158.0 181.6,156.8 181.3,157.7 180.9,156.1 180.6,157.8 180.3,155.6 180.0,156.2 179.6,156.0 179.3,155.2 179.0,155.6 178.6,156.0 178.3,155.5 178.0,156.0 177.6,156.5 177.3,157.0 177.0,159.5 176.7,158.8 176.3,157.3 176.0,156.7 175.7,155.9 175.3,156.1 175.0,157.7 174.7,158.8 174.3,156.9 174.0,155.7 173.7,156.0 173.4,156.4 173.0,155.8 172.7,156.5 172.4,155.8 172.0,156.8 171.7,155.7 171.4,156.6 171.0,157.7 170.7,156.6 170.4,155.9 170.1,155.7 169.7,155.1 169.4,156.2 169.1,155.4 168.7,156.2 168.4,155.1Z" fill="#000" stroke="#000" stroke-width="0.25" stroke-linejoin="round"/>
<path d="M182.9 151.6 L183.3 164.8 L183.9 151.6Z" fill="#000" stroke="#000" stroke-width="0.45"/>
<path d="M341.4 151.6 L341.9 166.0 L342.4 151.6Z" fill="#000" stroke="#000" stroke-width="0.45"/>
<path d="M314.1 151.6 L314.5 159.5 L315.1 151.6Z" fill="#000" stroke="#000" stroke-width="0.45"/>
<path d="M227.6 151.6 L228.0 158.5 L228.6 151.6Z" fill="#000" stroke="#000" stroke-width="0.45"/>
<path d="M274.6 151.6 L275.0 159.0 L275.6 151.6Z" fill="#000" stroke="#000" stroke-width="0.45"/>
<path d="M394.6 151.6 L395.0 159.0 L395.6 151.6Z" fill="#000" stroke="#000" stroke-width="0.45"/>
<path d="M411.6 151.6 L412.0 158.5 L412.6 151.6Z" fill="#000" stroke="#000" stroke-width="0.45"/>
<path d="M169.4,188.3 169.7,188.1 170.1,188.3 170.4,188.2 170.7,188.6 171.1,186.8 171.4,188.1 171.7,187.6 172.0,188.1 172.4,187.9 172.7,185.7 173.0,186.1 173.4,185.2 173.7,188.5 174.0,189.0 174.4,188.8 174.7,187.5 175.0,187.9 175.3,186.6 175.7,188.0 176.0,188.1 176.3,186.8 176.7,187.6 177.0,187.7 177.3,186.0 177.7,187.4 178.0,187.2 178.3,187.6 178.6,186.9 179.0,186.8 179.3,185.7 179.6,186.1 180.0,186.2 180.3,186.3 180.6,185.8 181.0,187.2 181.3,186.4 181.6,187.1 182.0,187.0 182.3,187.6 182.6,187.3 182.9,187.0 183.3,186.5 183.6,186.1 183.9,186.3 184.3,187.7 184.6,186.9 184.9,187.6 185.3,187.8 185.6,186.0 185.9,186.0 186.2,186.5 186.6,186.8 186.9,188.3 187.2,188.4 187.6,187.0 187.9,188.8 188.2,188.5 188.6,188.7 188.9,188.3 189.2,187.2 189.5,187.5 189.9,187.3 190.2,188.0 190.5,188.6 190.9,186.6 191.2,188.5 191.5,188.4 191.9,188.3 192.2,187.6 192.5,187.7 192.9,187.0 193.2,188.7 193.5,187.0 193.8,187.3 194.2,187.5 194.5,188.0 194.8,188.7 195.2,186.7 195.5,188.4 195.8,187.2 196.2,187.9 196.5,187.7 196.8,186.3 197.1,186.1 197.5,185.2 197.8,188.0 198.1,187.7 198.5,188.3 198.8,188.4 199.1,186.4 199.5,188.0 199.8,188.3 200.1,185.8 200.4,186.3 200.8,188.2 201.1,187.2 201.4,188.5 201.8,187.7 202.1,187.7 202.4,188.0 202.8,188.1 203.1,188.1 203.4,187.8 203.8,188.6 204.1,188.8 204.4,189.0 204.7,188.5 205.1,187.0 205.4,188.2 205.7,188.0 206.1,187.3 206.4,188.5 206.7,186.8 207.1,188.1 207.4,187.4 207.7,187.8 208.0,187.7 208.4,186.5 208.7,186.2 209.0,187.3 209.4,186.0 209.7,186.8 210.0,187.6 210.4,186.2 210.7,187.6 211.0,188.0 211.3,187.4 211.7,188.0 212.0,186.5 212.3,187.4 212.7,187.3 213.0,187.8 213.3,188.1 213.7,186.8 214.0,187.2 214.3,187.4 214.7,188.1 215.0,188.2 215.3,187.9 215.6,186.3 216.0,187.8 216.3,186.5 216.6,187.7 217.0,188.3 217.3,188.1 217.6,187.4 218.0,187.2 218.3,186.4 218.6,186.3 218.9,186.6 219.3,185.1 219.6,185.3 219.9,185.6 220.3,187.2 220.6,186.6 220.9,186.8 221.3,185.4 221.6,186.9 221.9,186.9 222.2,184.7 222.6,186.9 222.9,186.8 223.2,185.7 223.6,186.4 223.9,186.4 224.2,187.2 224.6,186.4 224.9,185.9 225.2,185.1 225.6,187.4 225.9,187.3 226.2,187.4 226.5,185.9 226.9,187.2 227.2,186.7 227.5,187.1 227.9,185.7 228.2,186.6 228.5,186.4 228.9,184.5 229.2,187.3 229.5,186.9 229.8,187.3 230.2,187.0 230.5,187.6 230.8,187.0 231.2,187.2 231.5,186.8 231.8,186.3 232.2,187.4 232.5,188.4 232.8,188.1 233.1,185.7 233.5,188.3 233.8,188.0 234.1,185.8 234.5,188.1 234.8,188.0 235.1,186.1 235.5,187.6 235.8,188.7 236.1,188.6 236.5,187.0 236.8,187.9 237.1,188.2 237.4,186.4 237.8,188.3 238.1,187.6 238.4,187.8 238.8,187.1 239.1,188.8 239.4,187.5 239.8,188.8 240.1,188.4 240.4,186.4 240.7,188.5 241.1,187.9 241.4,188.5 241.7,188.9 242.1,189.1 242.4,185.8 242.7,186.8 243.1,184.1 243.4,188.1 243.7,185.9 244.0,187.8 244.4,188.1 244.7,186.7 245.0,188.3 245.4,186.8 245.7,187.9 246.0,187.6 246.4,184.7 246.7,188.0 247.0,186.1 247.4,185.6 247.7,186.4 248.0,187.2 248.3,187.4 248.7,186.5 249.0,187.0 249.3,187.2 249.7,185.0 250.0,186.5 250.3,186.8 250.7,186.1 251.0,185.0 251.3,186.9 251.6,186.8 252.0,185.7 252.3,185.7 252.6,186.9 253.0,185.8 253.3,186.0 253.6,185.0 254.0,186.0 254.3,186.6 254.6,186.3 254.9,185.2 255.3,186.4 255.6,185.7 255.9,186.2 256.3,185.9 256.6,187.2 256.9,185.4 257.3,186.8 257.6,186.4 257.9,185.8 258.3,187.3 258.6,186.5 258.9,185.7 259.2,187.2 259.6,185.5 259.9,185.4 260.2,185.3 260.6,185.2 260.9,184.8 261.2,186.1 261.6,185.9 261.9,186.6 262.2,185.9 262.5,184.4 262.9,187.3 263.2,186.1 263.5,186.7 263.9,186.5 264.2,186.9 264.5,184.1 264.9,188.0 265.2,186.7 265.5,187.4 265.8,187.4 266.2,187.1 266.5,187.4 266.8,186.8 267.2,186.2 267.5,186.0 267.8,187.1 268.2,187.2 268.5,187.4 268.8,187.5 269.2,187.1 269.5,187.6 269.8,186.8 270.1,187.5 270.5,184.3 270.8,187.3 271.1,187.5 271.5,186.7 271.8,188.3 272.1,186.9 272.5,186.9 272.8,187.3 273.1,185.8 273.4,187.0 273.8,187.5 274.1,185.8 274.4,187.7 274.8,186.5 275.1,187.8 275.4,185.3 275.8,186.3 276.1,186.8 276.4,187.5 276.7,188.1 277.1,187.1 277.4,187.4 277.7,187.6 278.1,187.2 278.4,185.8 278.7,187.3 279.1,187.2 279.4,187.9 279.7,185.8 280.1,188.0 280.4,188.0 280.7,186.6 281.0,187.9 281.4,186.3 281.7,188.2 282.0,187.6 282.4,187.9 282.7,187.8 283.0,186.8 283.4,186.5 283.7,187.4 284.0,188.2 284.3,187.2 284.7,187.8 285.0,186.2 285.3,187.0 285.7,187.6 286.0,187.6 286.3,187.0 286.7,187.5 287.0,186.7 287.3,188.0 287.6,188.1 288.0,185.8 288.3,186.9 288.6,186.4 289.0,187.2 289.3,187.4 289.6,187.0 290.0,186.8 290.3,187.8 290.6,186.8 291.0,186.2 291.3,187.1 291.6,186.8 291.9,186.3 292.3,187.3 292.6,187.2 292.9,185.7 293.3,186.7 293.6,187.0 293.9,187.6 294.3,188.1 294.6,188.3 294.9,187.3 295.2,187.9 295.6,186.4 295.9,187.0 296.2,188.1 296.6,185.7 296.9,188.3 297.2,187.4 297.6,186.3 297.9,187.0 298.2,186.8 298.5,186.4 298.9,188.3 299.2,188.5 299.5,187.4 299.9,188.1 300.2,188.5 300.5,187.8 300.9,188.6 301.2,188.2 301.5,187.8 301.9,188.8 302.2,188.8 302.5,188.4 302.8,188.3 303.2,187.2 303.5,188.3 303.8,186.6 304.2,187.6 304.5,187.5 304.8,187.1 305.2,186.9 305.5,187.0 305.8,187.6 306.1,186.6 306.5,187.6 306.8,187.7 307.1,187.9 307.5,184.0 307.8,186.8 308.1,187.7 308.5,186.7 308.8,186.3 309.1,186.0 309.4,187.7 309.8,187.6 310.1,188.6 310.4,186.9 310.8,188.0 311.1,188.3 311.4,187.9 311.8,187.4 312.1,189.1 312.4,189.9 312.7,188.3 313.1,188.3 313.4,185.8 313.7,185.6 314.1,189.1 314.4,186.1 314.7,187.6 315.1,188.6 315.4,188.6 315.7,188.7 316.1,188.6 316.4,186.7 316.7,186.6 317.0,187.9 317.4,188.2 317.7,185.0 318.0,187.4 318.4,188.3 318.7,188.7 319.0,188.9 319.4,188.1 319.7,187.6 320.0,188.2 320.3,185.8 320.7,188.8 321.0,187.4 321.3,187.3 321.7,187.3 322.0,187.5 322.3,187.4 322.7,185.9 323.0,186.5 323.3,187.5 323.6,187.3 324.0,187.8 324.3,187.6 324.6,187.4 325.0,185.2 325.3,187.9 325.6,187.3 326.0,188.3 326.3,188.1 326.6,186.9 327.0,188.0 327.3,187.9 327.6,187.8 327.9,185.9 328.3,185.7 328.6,187.1 328.9,187.9 329.3,186.9 329.6,187.0 329.9,187.5 330.3,187.5 330.6,187.1 330.9,186.4 331.2,187.6 331.6,187.1 331.9,186.8 332.2,186.7 332.6,187.3 332.9,187.8 333.2,186.5 333.6,184.6 333.9,186.0 334.2,187.7 334.5,187.7 334.9,185.8 335.2,185.9 335.5,187.1 335.9,186.9 336.2,187.1 336.5,187.0 336.9,187.0 337.2,186.6 337.5,186.4 337.9,187.7 338.2,187.5 338.5,187.4 338.8,188.1 339.2,186.5 339.5,188.2 339.8,187.1 340.2,187.7 340.5,187.4 340.8,188.2 341.2,188.0 341.5,187.6 341.8,187.7 342.1,188.1 342.5,188.1 342.8,187.6 343.1,187.3 343.5,187.2 343.8,187.3 344.1,187.4 344.5,186.3 344.8,187.5 345.1,187.6 345.4,187.4 345.8,187.2 346.1,188.1 346.4,186.9 346.8,186.5 347.1,187.6 347.4,188.9 347.8,186.9 348.1,187.6 348.4,187.6 348.8,187.3 349.1,187.2 349.4,187.6 349.7,187.5 350.1,186.0 350.4,187.2 350.7,188.3 351.1,188.2 351.4,188.1 351.7,188.5 352.1,188.2 352.4,186.3 352.7,187.5 353.0,184.5 353.4,186.7 353.7,187.7 354.0,187.8 354.4,186.7 354.7,187.0 355.0,186.6 355.4,186.2 355.7,185.6 356.0,186.0 356.3,185.4 356.7,184.8 357.0,186.5 357.3,184.6 357.7,187.0 358.0,185.9 358.3,184.9 358.7,185.8 359.0,187.5 359.3,187.4 359.7,187.3 360.0,185.5 360.3,187.5 360.6,186.7 361.0,188.1 361.3,187.9 361.6,187.2 362.0,186.1 362.3,186.5 362.6,188.1 363.0,186.2 363.3,185.1 363.6,187.7 363.9,187.7 364.3,187.6 364.6,188.4 364.9,188.1 365.3,188.0 365.6,187.7 365.9,188.1 366.3,187.6 366.6,188.3 366.9,187.1 367.2,188.1 367.6,187.8 367.9,187.4 368.2,187.7 368.6,187.9 368.9,188.4 369.2,188.4 369.6,187.9 369.9,187.6 370.2,187.3 370.6,186.3 370.9,187.1 371.2,186.6 371.5,187.6 371.9,185.6 372.2,187.7 372.5,187.9 372.9,187.0 373.2,186.9 373.5,188.0 373.9,187.4 374.2,187.0 374.5,187.0 374.8,187.1 375.2,187.7 375.5,186.8 375.8,186.6 376.2,184.8 376.5,187.4 376.8,187.4 377.2,187.5 377.5,187.5 377.8,187.2 378.1,188.2 378.5,187.8 378.8,188.2 379.1,187.5 379.5,188.5 379.8,188.1 380.1,187.1 380.5,186.8 380.8,187.9 381.1,188.1 381.5,186.0 381.8,188.6 382.1,187.2 382.4,187.8 382.8,188.4 383.1,187.6 383.4,188.7 383.8,188.2 384.1,188.8 384.4,188.7 384.8,188.1 385.1,188.2 385.4,187.8 385.7,187.6 386.1,186.5 386.4,187.3 386.7,188.1 387.1,188.7 387.4,188.1 387.7,187.3 388.1,188.6 388.4,188.1 388.7,188.2 389.0,186.8 389.4,187.4 389.7,187.5 390.0,187.5 390.4,188.7 390.7,188.4 391.0,186.6 391.4,187.7 391.7,187.5 392.0,187.9 392.4,188.3 392.7,185.4 393.0,187.9 393.3,188.3 393.7,188.3 394.0,187.8 394.3,186.6 394.7,188.2 395.0,187.1 395.3,187.2 395.7,184.8 396.0,186.8 396.3,186.4 396.6,187.1 397.0,187.0 397.3,186.5 397.6,186.8 398.0,186.0 398.3,186.3 398.6,185.4 399.0,187.0 399.3,187.4 399.6,187.8 399.9,186.0 400.3,187.8 400.6,187.8 400.9,188.1 401.3,187.9 401.6,186.2 401.9,188.0 402.3,187.7 402.6,187.4 402.9,187.2 403.3,187.2 403.6,187.5 403.9,187.2 404.2,187.5 404.6,186.1 404.9,186.1 405.2,185.5 405.6,186.9 405.9,186.5 406.2,186.8 406.6,187.0 406.9,186.7 407.2,186.8 407.5,186.7 407.9,187.2 408.2,186.3 408.5,186.8 408.9,187.1 409.2,186.9 409.5,186.0 409.9,186.7 410.2,185.9 410.5,187.4 410.8,187.3 411.2,185.9 411.5,187.9 411.8,187.3 412.2,187.1 412.5,187.5 412.8,187.8 413.2,186.4 413.5,187.3 413.8,187.1 414.2,187.8 414.5,187.2 414.8,187.8 415.1,188.1 415.5,187.6 415.8,187.5 416.1,188.0 416.5,188.0 416.8,187.0 417.1,186.7 417.5,186.9 417.8,187.5 418.1,186.4 418.4,187.2 418.8,186.8 419.1,185.6 419.4,184.4 419.8,186.2 420.1,184.7 420.4,185.8 420.8,186.7 421.1,187.2 421.4,187.1 421.7,184.2 422.1,186.8 422.4,187.7 422.7,187.7 423.1,184.9 423.4,186.3 423.7,187.7 424.1,188.1 424.4,185.9 424.7,188.0 425.1,187.0 425.4,186.8 425.7,187.7 426.0,186.8 426.4,186.6 426.7,187.0 427.0,187.2 427.4,187.4 427.7,185.6 428.0,186.0 428.4,186.9 428.7,185.7 429.0,186.8 429.3,186.6 429.7,186.9 430.0,186.0 430.3,185.6 430.7,186.7 431.0,185.2 431.3,185.6 431.7,184.8 432.0,187.5 432.3,186.3 432.6,186.5 433.0,187.4 433.3,186.8 433.6,186.3 434.0,187.6 434.3,187.2 L434.3,195.7 434.0,196.9 433.6,195.7 433.3,196.2 433.0,197.0 432.6,196.7 432.3,195.9 432.0,196.3 431.7,197.5 431.3,196.1 431.0,196.9 430.7,196.1 430.3,197.2 430.0,195.6 429.7,195.5 429.3,195.4 429.0,196.6 428.7,195.9 428.4,196.0 428.0,195.7 427.7,196.0 427.4,195.1 427.0,196.9 426.7,194.7 426.4,194.7 426.0,196.7 425.7,195.1 425.4,195.3 425.1,195.9 424.7,195.4 424.4,194.9 424.1,195.9 423.7,198.4 423.4,196.1 423.1,196.0 422.7,195.0 422.4,195.9 422.1,195.3 421.7,195.5 421.4,193.9 421.1,194.4 420.8,193.7 420.4,193.9 420.1,193.9 419.8,194.4 419.4,195.8 419.1,195.5 418.8,193.3 418.4,194.8 418.1,193.6 417.8,193.9 417.5,193.9 417.1,193.6 416.8,193.9 416.5,195.0 416.1,195.1 415.8,194.3 415.5,193.8 415.1,195.6 414.8,196.7 414.5,194.4 414.2,194.3 413.8,194.9 413.5,194.5 413.2,197.6 412.8,194.7 412.5,196.6 412.2,195.0 411.8,195.6 411.5,194.9 411.2,195.4 410.8,194.4 410.5,195.0 410.2,193.6 409.9,195.1 409.5,193.7 409.2,193.8 408.9,193.5 408.5,194.9 408.2,194.3 407.9,195.2 407.5,194.2 407.2,194.7 406.9,195.1 406.6,194.3 406.2,195.4 405.9,193.6 405.6,195.0 405.2,194.6 404.9,194.4 404.6,195.2 404.2,194.5 403.9,195.3 403.6,195.8 403.3,195.7 402.9,195.3 402.6,197.2 402.3,195.4 401.9,195.4 401.6,196.2 401.3,196.0 400.9,195.9 400.6,195.6 400.3,197.3 399.9,195.8 399.6,194.5 399.3,195.4 399.0,195.0 398.6,193.8 398.3,195.7 398.0,193.5 397.6,195.9 397.3,195.0 397.0,194.3 396.6,193.8 396.3,194.0 396.0,194.5 395.7,195.7 395.3,194.3 395.0,196.9 394.7,194.8 394.3,193.7 394.0,195.3 393.7,194.8 393.3,194.1 393.0,197.3 392.7,195.4 392.4,195.5 392.0,195.6 391.7,195.0 391.4,194.8 391.0,195.8 390.7,196.9 390.4,195.4 390.0,196.3 389.7,195.2 389.4,196.7 389.0,194.7 388.7,195.2 388.4,194.6 388.1,195.4 387.7,195.3 387.4,194.4 387.1,194.9 386.7,195.2 386.4,195.5 386.1,194.9 385.7,194.6 385.4,194.7 385.1,196.3 384.8,194.9 384.4,195.7 384.1,194.9 383.8,193.6 383.4,194.8 383.1,194.4 382.8,194.6 382.4,193.7 382.1,195.0 381.8,194.1 381.5,193.9 381.1,193.8 380.8,193.0 380.5,192.9 380.1,193.6 379.8,193.9 379.5,193.7 379.1,194.0 378.8,193.8 378.5,194.8 378.1,194.3 377.8,195.1 377.5,194.5 377.2,195.4 376.8,194.9 376.5,195.3 376.2,195.4 375.8,195.4 375.5,196.2 375.2,195.2 374.8,194.7 374.5,197.0 374.2,195.0 373.9,194.8 373.5,194.7 373.2,194.6 372.9,195.1 372.5,196.4 372.2,196.0 371.9,196.1 371.5,195.1 371.2,196.9 370.9,195.1 370.6,195.5 370.2,195.2 369.9,197.0 369.6,197.4 369.2,196.2 368.9,195.0 368.6,195.8 368.2,195.5 367.9,195.1 367.6,195.8 367.2,195.1 366.9,196.8 366.6,196.1 366.3,195.3 365.9,195.6 365.6,195.2 365.3,196.2 364.9,196.0 364.6,196.1 364.3,198.3 363.9,195.3 363.6,196.3 363.3,195.1 363.0,197.7 362.6,195.4 362.3,194.7 362.0,194.8 361.6,195.6 361.3,194.9 361.0,196.9 360.6,196.2 360.3,194.9 360.0,194.9 359.7,195.0 359.3,195.5 359.0,194.7 358.7,194.7 358.3,196.7 358.0,195.3 357.7,194.8 357.3,196.4 357.0,195.2 356.7,197.2 356.3,195.1 356.0,194.3 355.7,194.2 355.4,194.5 355.0,195.1 354.7,195.4 354.4,195.3 354.0,195.6 353.7,195.8 353.4,195.1 353.0,195.6 352.7,194.5 352.4,195.3 352.1,195.0 351.7,195.0 351.4,195.1 351.1,194.4 350.7,194.3 350.4,195.2 350.1,194.4 349.7,194.2 349.4,194.8 349.1,196.1 348.8,195.8 348.4,195.1 348.1,194.2 347.8,194.6 347.4,195.4 347.1,194.4 346.8,197.7 346.4,194.6 346.1,193.5 345.8,194.0 345.4,193.9 345.1,194.6 344.8,194.6 344.5,194.4 344.1,194.6 343.8,195.4 343.5,194.6 343.1,194.4 342.8,194.9 342.5,195.7 342.1,194.7 341.8,195.1 341.5,194.9 341.2,194.8 340.8,194.7 340.5,197.0 340.2,195.6 339.8,196.6 339.5,195.1 339.2,197.4 338.8,195.9 338.5,196.2 338.2,194.6 337.9,195.8 337.5,196.4 337.2,195.7 336.9,194.9 336.5,194.4 336.2,196.7 335.9,195.0 335.5,195.2 335.2,196.4 334.9,194.8 334.5,194.6 334.2,194.2 333.9,196.3 333.6,195.2 333.2,195.6 332.9,194.6 332.6,193.9 332.2,194.5 331.9,194.3 331.6,196.1 331.2,194.7 330.9,196.2 330.6,194.4 330.3,196.9 329.9,195.0 329.6,194.8 329.3,195.1 328.9,195.5 328.6,196.5 328.3,195.3 327.9,196.8 327.6,196.9 327.3,195.4 327.0,195.6 326.6,196.5 326.3,196.2 326.0,196.0 325.6,197.6 325.3,197.0 325.0,195.3 324.6,195.5 324.3,195.9 324.0,196.1 323.6,195.9 323.3,194.9 323.0,196.9 322.7,194.8 322.3,195.2 322.0,195.8 321.7,194.9 321.3,194.5 321.0,195.7 320.7,195.4 320.3,195.4 320.0,195.8 319.7,195.7 319.4,197.1 319.0,195.8 318.7,195.8 318.4,195.2 318.0,195.5 317.7,194.9 317.4,196.0 317.0,195.5 316.7,195.5 316.4,195.4 316.1,195.2 315.7,196.8 315.4,194.9 315.1,195.0 314.7,195.7 314.4,196.4 314.1,195.5 313.7,196.7 313.4,197.8 313.1,195.7 312.7,196.4 312.4,197.2 312.1,196.0 311.8,196.4 311.4,196.4 311.1,195.2 310.8,196.9 310.4,195.4 310.1,195.9 309.8,196.0 309.4,195.9 309.1,197.2 308.8,196.3 308.5,196.1 308.1,195.5 307.8,195.6 307.5,195.9 307.1,195.9 306.8,195.2 306.5,195.9 306.1,196.6 305.8,195.9 305.5,196.2 305.2,195.7 304.8,194.9 304.5,195.3 304.2,196.3 303.8,195.7 303.5,196.9 303.2,196.3 302.8,196.8 302.5,197.0 302.2,195.6 301.9,196.9 301.5,196.3 301.2,196.4 300.9,197.0 300.5,197.0 300.2,195.8 299.9,195.4 299.5,197.5 299.2,197.6 298.9,196.9 298.5,196.2 298.2,197.7 297.9,195.5 297.6,195.5 297.2,196.1 296.9,195.9 296.6,195.0 296.2,194.5 295.9,194.8 295.6,196.2 295.2,195.1 294.9,194.5 294.6,195.3 294.3,194.8 293.9,193.9 293.6,194.6 293.3,194.1 292.9,193.8 292.6,194.7 292.3,194.1 291.9,194.5 291.6,194.1 291.3,194.1 291.0,193.8 290.6,196.9 290.3,194.4 290.0,195.8 289.6,194.6 289.3,197.2 289.0,196.2 288.6,194.9 288.3,195.9 288.0,194.7 287.6,195.7 287.3,195.1 287.0,196.1 286.7,196.0 286.3,195.4 286.0,195.0 285.7,198.8 285.3,196.2 285.0,195.7 284.7,197.2 284.3,196.0 284.0,196.1 283.7,196.1 283.4,195.1 283.0,195.6 282.7,195.6 282.4,195.0 282.0,195.7 281.7,195.8 281.4,195.0 281.0,195.6 280.7,196.9 280.4,197.0 280.1,195.1 279.7,196.4 279.4,195.7 279.1,196.4 278.7,195.4 278.4,195.6 278.1,195.2 277.7,194.9 277.4,195.2 277.1,195.5 276.7,194.6 276.4,194.7 276.1,194.8 275.8,195.5 275.4,195.0 275.1,196.1 274.8,195.4 274.4,195.0 274.1,196.3 273.8,195.8 273.4,194.9 273.1,195.3 272.8,194.8 272.5,195.1 272.1,197.2 271.8,196.2 271.5,195.3 271.1,195.7 270.8,196.6 270.5,195.5 270.1,195.2 269.8,195.9 269.5,197.3 269.2,195.2 268.8,197.4 268.5,194.5 268.2,195.8 267.8,194.2 267.5,194.4 267.2,194.5 266.8,195.7 266.5,195.4 266.2,195.4 265.8,195.8 265.5,195.8 265.2,197.5 264.9,194.3 264.5,194.6 264.2,195.7 263.9,194.6 263.5,195.2 263.2,197.1 262.9,195.4 262.5,195.2 262.2,194.4 261.9,194.8 261.6,195.2 261.2,196.3 260.9,195.3 260.6,195.0 260.2,196.1 259.9,194.6 259.6,195.0 259.2,195.4 258.9,195.0 258.6,195.7 258.3,194.9 257.9,195.8 257.6,195.7 257.3,195.7 256.9,196.3 256.6,195.2 256.3,194.3 255.9,195.2 255.6,194.6 255.3,194.7 254.9,194.5 254.6,196.7 254.3,195.3 254.0,194.9 253.6,196.5 253.3,194.8 253.0,195.0 252.6,195.4 252.3,194.5 252.0,194.5 251.6,196.1 251.3,194.4 251.0,194.9 250.7,195.0 250.3,194.5 250.0,194.6 249.7,194.6 249.3,194.2 249.0,194.2 248.7,194.7 248.3,194.5 248.0,194.6 247.7,193.8 247.4,193.9 247.0,195.0 246.7,194.2 246.4,194.4 246.0,194.4 245.7,196.3 245.4,195.5 245.0,195.7 244.7,194.0 244.4,195.0 244.0,194.3 243.7,194.0 243.4,194.6 243.1,193.8 242.7,194.0 242.4,193.7 242.1,193.7 241.7,194.2 241.4,195.2 241.1,194.0 240.7,194.8 240.4,194.6 240.1,194.7 239.8,193.7 239.4,193.8 239.1,194.1 238.8,194.7 238.4,193.9 238.1,194.6 237.8,194.9 237.4,195.3 237.1,195.1 236.8,194.4 236.5,194.7 236.1,195.0 235.8,194.4 235.5,194.8 235.1,194.9 234.8,194.6 234.5,194.5 234.1,195.4 233.8,194.7 233.5,194.8 233.1,195.4 232.8,195.1 232.5,195.7 232.2,198.3 231.8,195.4 231.5,195.6 231.2,196.6 230.8,196.6 230.5,196.1 230.2,197.7 229.8,195.5 229.5,195.6 229.2,195.4 228.9,195.0 228.5,194.4 228.2,195.0 227.9,194.9 227.5,195.0 227.2,195.4 226.9,195.1 226.5,194.8 226.2,194.9 225.9,195.7 225.6,197.1 225.2,196.2 224.9,196.9 224.6,196.3 224.2,196.3 223.9,196.8 223.6,195.6 223.2,195.3 222.9,195.1 222.6,196.1 222.2,194.9 221.9,195.4 221.6,195.9 221.3,195.3 220.9,199.2 220.6,196.5 220.3,195.4 219.9,197.3 219.6,195.6 219.3,196.2 218.9,195.4 218.6,195.9 218.3,197.3 218.0,195.5 217.6,195.7 217.3,195.5 217.0,195.2 216.6,197.0 216.3,195.7 216.0,195.6 215.6,194.6 215.3,194.6 215.0,196.0 214.7,195.0 214.3,195.5 214.0,195.2 213.7,196.0 213.3,197.3 213.0,195.5 212.7,197.1 212.3,196.9 212.0,197.5 211.7,197.4 211.3,195.7 211.0,195.2 210.7,195.5 210.4,196.2 210.0,196.6 209.7,195.8 209.4,196.7 209.0,195.3 208.7,196.3 208.4,195.6 208.0,195.7 207.7,195.6 207.4,194.8 207.1,194.8 206.7,194.9 206.4,197.0 206.1,195.2 205.7,196.8 205.4,196.2 205.1,196.7 204.7,195.5 204.4,197.6 204.1,195.2 203.8,194.8 203.4,195.4 203.1,195.5 202.8,196.5 202.4,196.5 202.1,196.4 201.8,197.2 201.4,194.5 201.1,194.5 200.8,194.3 200.4,194.9 200.1,195.3 199.8,194.2 199.5,194.6 199.1,194.3 198.8,194.1 198.5,194.5 198.1,195.1 197.8,194.3 197.5,194.2 197.1,193.8 196.8,195.3 196.5,194.9 196.2,194.3 195.8,194.2 195.5,196.1 195.2,194.2 194.8,194.2 194.5,194.9 194.2,196.0 193.8,194.2 193.5,195.7 193.2,195.4 192.9,196.1 192.5,195.8 192.2,195.5 191.9,195.0 191.5,194.8 191.2,195.7 190.9,194.9 190.5,195.2 190.2,194.5 189.9,195.7 189.5,194.8 189.2,194.8 188.9,196.3 188.6,195.1 188.2,195.7 187.9,196.3 187.6,195.1 187.2,196.3 186.9,195.9 186.6,195.6 186.2,196.3 185.9,195.5 185.6,194.7 185.3,195.0 184.9,195.0 184.6,194.5 184.3,194.9 183.9,194.5 183.6,194.4 183.3,194.9 182.9,196.2 182.6,195.9 182.3,196.7 182.0,195.4 181.6,196.8 181.3,195.1 181.0,194.6 180.6,195.2 180.3,194.8 180.0,195.4 179.6,195.5 179.3,194.7 179.0,194.6 178.6,194.1 178.3,194.8 178.0,195.0 177.7,194.5 177.3,195.2 177.0,195.2 176.7,195.1 176.3,195.2 176.0,195.2 175.7,194.7 175.3,194.6 175.0,194.7 174.7,196.6 174.4,195.5 174.0,195.2 173.7,194.9 173.4,195.1 173.0,194.7 172.7,195.7 172.4,196.4 172.0,195.5 171.7,194.8 171.4,195.4 171.1,195.0 170.7,195.8 170.4,196.1 170.1,195.7 169.7,195.7 169.4,194.9Z" fill="#000" stroke="#000" stroke-width="0.25" stroke-linejoin="round"/>
<path d="M207.4 191.3 L207.8 211.8 L208.4 191.3Z" fill="#000" stroke="#000" stroke-width="0.45"/>
<path d="M250.0 191.3 L250.4 207.5 L251.0 191.3Z" fill="#000" stroke="#000" stroke-width="0.45"/>
<path d="M251.5 191.3 L251.9 208.5 L252.5 191.3Z" fill="#000" stroke="#000" stroke-width="0.45"/>
<path d="M232.6 191.3 L233.0 200.5 L233.6 191.3Z" fill="#000" stroke="#000" stroke-width="0.45"/>
<path d="M349.6 191.3 L350.0 202.5 L350.6 191.3Z" fill="#000" stroke="#000" stroke-width="0.45"/>
<path d="M370.1 191.3 L370.5 207.7 L371.1 191.3Z" fill="#000" stroke="#000" stroke-width="0.45"/>
<path d="M394.6 191.3 L395.0 203.0 L395.6 191.3Z" fill="#000" stroke="#000" stroke-width="0.45"/>
<path d="M407.8 191.3 L408.2 201.5 L408.8 191.3Z" fill="#000" stroke="#000" stroke-width="0.45"/>
<path d="M330.6 191.3 L331.0 200.0 L331.6 191.3Z" fill="#000" stroke="#000" stroke-width="0.45"/>
<path d="M312.6 191.3 L313.0 200.5 L313.6 191.3Z" fill="#000" stroke="#000" stroke-width="0.45"/>
<path d="M288.6 191.3 L289.0 199.5 L289.6 191.3Z" fill="#000" stroke="#000" stroke-width="0.45"/>
<path d="M211.6 191.3 L212.0 181.5 L212.6 191.3Z" fill="#000" stroke="#000" stroke-width="0.45"/>
<path d="M229.1 191.3 L229.5 182.0 L230.1 191.3Z" fill="#000" stroke="#000" stroke-width="0.45"/>
<path d="M254.4 191.3 L254.8 181.0 L255.4 191.3Z" fill="#000" stroke="#000" stroke-width="0.45"/>
<text x="6.5" y="233.0" font-size="12.6" font-weight="bold" fill="#000" stroke="#000" stroke-width="0.45">e</text>
<text x="251.9" y="230.2" font-size="6.5" textLength="58.8" lengthAdjust="spacingAndGlyphs">sEPSC frequency</text>
<line x1="251.9" y1="231.4" x2="310.7" y2="231.4" stroke="#222" stroke-width="0.45" />
<text x="33.2" y="245.0" font-size="7">(i)</text>
<text x="95.0" y="245.8" font-size="7" text-anchor="middle">WT</text>
<text transform="translate(40.4 284.8) rotate(-90)" font-size="6.4" text-anchor="middle" textLength="50.0" lengthAdjust="spacingAndGlyphs">Frequency (Hz)</text>
<rect x="67.0" y="299.0" width="21.9" height="22.0" fill="#5e5e5e" />
<path d="M67.0 321.0V299.0H88.9V321.0" fill="none" stroke="#111" stroke-width="0.8"/>
<rect x="100.4" y="294.9" width="21.4" height="26.1" fill="#a9a9a9" />
<path d="M100.4 321.0V294.9H121.8V321.0" fill="none" stroke="#f28c28" stroke-width="0.9"/>
<line x1="55.8" y1="244.4" x2="55.8" y2="321.2" stroke="#5e5e5e" stroke-width="0.5" />
<line x1="55.5" y1="321.0" x2="132.4" y2="321.0" stroke="#5e5e5e" stroke-width="0.5" />
<line x1="53.6" y1="244.6" x2="55.8" y2="244.6" stroke="#5e5e5e" stroke-width="0.5" />
<text x="51.6" y="246.6" font-size="5.9" text-anchor="end" fill="#222" textLength="7.3" lengthAdjust="spacingAndGlyphs">12</text>
<line x1="53.6" y1="270.3" x2="55.8" y2="270.3" stroke="#5e5e5e" stroke-width="0.5" />
<text x="51.6" y="272.3" font-size="5.9" text-anchor="end" fill="#222">8</text>
<line x1="53.6" y1="295.9" x2="55.8" y2="295.9" stroke="#5e5e5e" stroke-width="0.5" />
<text x="51.6" y="297.9" font-size="5.9" text-anchor="end" fill="#222">4</text>
<line x1="53.6" y1="321.0" x2="55.8" y2="321.0" stroke="#5e5e5e" stroke-width="0.5" />
<text x="51.6" y="323.0" font-size="5.9" text-anchor="end" fill="#222">0</text>
<line x1="78.2" y1="321.0" x2="78.2" y2="323.2" stroke="#555" stroke-width="0.55" />
<line x1="111.0" y1="321.0" x2="111.0" y2="323.2" stroke="#555" stroke-width="0.55" />
<circle cx="78.0" cy="278.6" r="2.35" fill="#000"/>
<circle cx="78.0" cy="291.4" r="2.35" fill="#000"/>
<circle cx="72.5" cy="294.3" r="2.35" fill="#000"/>
<circle cx="83.0" cy="294.3" r="2.35" fill="#000"/>
<circle cx="77.8" cy="295.8" r="2.35" fill="#000"/>
<circle cx="80.9" cy="293.2" r="2.35" fill="#000"/>
<circle cx="69.6" cy="300.7" r="2.35" fill="#000"/>
<circle cx="73.7" cy="300.2" r="2.35" fill="#000"/>
<circle cx="81.9" cy="299.6" r="2.35" fill="#000"/>
<circle cx="86.5" cy="298.4" r="2.35" fill="#000"/>
<circle cx="71.4" cy="303.1" r="2.35" fill="#000"/>
<circle cx="77.2" cy="301.9" r="2.35" fill="#000"/>
<circle cx="84.2" cy="303.1" r="2.35" fill="#000"/>
<circle cx="77.8" cy="306.0" r="2.35" fill="#000"/>
<circle cx="77.2" cy="310.1" r="2.35" fill="#000"/>
<circle cx="78.0" cy="315.7" r="2.35" fill="#000"/>
<circle cx="75.1" cy="297.5" r="2.35" fill="#000"/>
<circle cx="85.6" cy="300.7" r="2.35" fill="#000"/>
<rect x="103.4" y="272.4" width="4.2" height="4.2" fill="#f28c28"/>
<rect x="109.0" y="270.0" width="4.2" height="4.2" fill="#f28c28"/>
<rect x="114.8" y="272.4" width="4.2" height="4.2" fill="#f28c28"/>
<rect x="111.9" y="281.1" width="4.2" height="4.2" fill="#f28c28"/>
<rect x="100.2" y="284.3" width="4.2" height="4.2" fill="#f28c28"/>
<rect x="117.7" y="285.8" width="4.2" height="4.2" fill="#f28c28"/>
<rect x="106.3" y="288.1" width="4.2" height="4.2" fill="#f28c28"/>
<rect x="106.3" y="292.8" width="4.2" height="4.2" fill="#f28c28"/>
<rect x="111.9" y="292.2" width="4.2" height="4.2" fill="#f28c28"/>
<rect x="100.2" y="299.2" width="4.2" height="4.2" fill="#f28c28"/>
<rect x="111.9" y="298.6" width="4.2" height="4.2" fill="#f28c28"/>
<rect x="117.7" y="300.8" width="4.2" height="4.2" fill="#f28c28"/>
<rect x="106.3" y="303.1" width="4.2" height="4.2" fill="#f28c28"/>
<rect x="111.9" y="303.3" width="4.2" height="4.2" fill="#f28c28"/>
<rect x="109.0" y="308.6" width="4.2" height="4.2" fill="#f28c28"/>
<rect x="103.1" y="310.1" width="4.2" height="4.2" fill="#f28c28"/>
<rect x="114.8" y="309.4" width="4.2" height="4.2" fill="#f28c28"/>
<text x="78.6" y="333.1" font-size="7.4" text-anchor="middle" textLength="12.9" lengthAdjust="spacingAndGlyphs">Ctrl</text>
<text x="78.6" y="341.5" font-size="7.4" text-anchor="middle">IgG</text>
<text x="109.8" y="333.1" font-size="7.4" text-anchor="middle">C1q</text>
<text x="109.8" y="341.5" font-size="7.4" text-anchor="middle">Blk Ab</text>
<line x1="169.0" y1="240.9" x2="169.0" y2="321.2" stroke="#5e5e5e" stroke-width="0.5" />
<line x1="168.8" y1="321.0" x2="249.8" y2="321.0" stroke="#5e5e5e" stroke-width="0.5" />
<line x1="166.8" y1="241.1" x2="169.0" y2="241.1" stroke="#5e5e5e" stroke-width="0.5" />
<text x="165.2" y="243.1" font-size="5.9" text-anchor="end" fill="#222" textLength="9.2" lengthAdjust="spacingAndGlyphs">1.0</text>
<line x1="166.8" y1="280.8" x2="169.0" y2="280.8" stroke="#5e5e5e" stroke-width="0.5" />
<text x="165.2" y="282.8" font-size="5.9" text-anchor="end" fill="#222" textLength="9.2" lengthAdjust="spacingAndGlyphs">0.5</text>
<line x1="166.8" y1="321.0" x2="169.0" y2="321.0" stroke="#5e5e5e" stroke-width="0.5" />
<text x="165.2" y="323.0" font-size="5.9" text-anchor="end" fill="#222">0</text>
<line x1="169.0" y1="321.0" x2="169.0" y2="323.2" stroke="#555" stroke-width="0.55" />
<line x1="209.6" y1="321.0" x2="209.6" y2="323.2" stroke="#555" stroke-width="0.55" />
<line x1="249.6" y1="321.0" x2="249.6" y2="323.2" stroke="#555" stroke-width="0.55" />
<path d="M169.0,321.0 169.0,320.8 169.1,320.4 169.2,319.8 169.3,319.1 169.5,318.3 169.7,317.4 169.9,316.4 170.1,315.3 170.3,314.2 170.5,313.0 170.8,311.8 171.0,310.5 171.3,309.2 171.6,307.8 171.9,306.5 172.2,305.1 172.5,303.7 172.9,302.2 173.2,300.8 173.6,299.3 174.0,297.9 174.4,296.4 174.7,295.0 175.2,293.6 175.6,292.1 176.0,290.7 176.4,289.3 176.9,287.9 177.3,286.5 177.8,285.1 178.3,283.8 178.7,282.5 179.2,281.2 179.7,279.9 180.3,278.7 180.8,277.4 181.3,276.2 181.8,275.1 182.4,273.9 182.9,272.8 183.5,271.7 184.1,270.7 184.6,269.6 185.2,268.6 185.8,267.6 186.4,266.7 187.0,265.8 187.7,264.9 188.3,264.0 188.9,263.2 189.6,262.4 190.2,261.6 190.9,260.8 191.5,260.1 192.2,259.4 192.9,258.7 193.6,258.0 194.2,257.4 194.9,256.8 195.7,256.2 196.4,255.6 197.1,255.1 197.8,254.5 198.6,254.0 199.3,253.6 200.0,253.1 200.8,252.6 201.6,252.2 202.3,251.8 203.1,251.4 203.9,251.0 204.7,250.6 205.5,250.3 206.3,249.9 207.1,249.6 207.9,249.3 208.7,249.0 209.6,248.7 210.4,248.4 211.2,248.1 212.1,247.9 212.9,247.6 213.8,247.4 214.7,247.2 215.5,246.9 216.4,246.7 217.3,246.5 218.2,246.3 219.1,246.1 220.0,246.0 220.9,245.8 221.8,245.6 222.7,245.5 223.7,245.3 224.6,245.2 225.5,245.0 226.5,244.9 227.4,244.8 228.4,244.6 229.4,244.5 230.3,244.4 231.3,244.3 232.3,244.2 233.3,244.1 234.3,244.0 235.3,243.9 236.3,243.8 237.3,243.7 238.3,243.6 239.3,243.5 240.3,243.4 241.4,243.3 242.4,243.3 243.4,243.2 244.5,243.1 245.5,243.1 246.6,243.0 247.7,242.9 248.7,242.9 249.8,242.8" fill="none" stroke="#777" stroke-width="2.0" stroke-linejoin="round"/>
<path d="M169.0,321.0 169.0,320.8 169.1,320.4 169.2,319.8 169.3,319.1 169.5,318.3 169.7,317.4 169.9,316.5 170.1,315.4 170.3,314.3 170.5,313.2 170.8,312.0 171.0,310.7 171.3,309.4 171.6,308.1 171.9,306.8 172.2,305.4 172.5,304.0 172.9,302.6 173.2,301.2 173.6,299.8 174.0,298.3 174.4,296.9 174.7,295.5 175.2,294.0 175.6,292.6 176.0,291.2 176.4,289.8 176.9,288.4 177.3,287.1 177.8,285.7 178.3,284.4 178.7,283.1 179.2,281.8 179.7,280.5 180.3,279.3 180.8,278.0 181.3,276.8 181.8,275.7 182.4,274.5 182.9,273.4 183.5,272.3 184.1,271.2 184.6,270.2 185.2,269.2 185.8,268.2 186.4,267.3 187.0,266.3 187.7,265.4 188.3,264.6 188.9,263.7 189.6,262.9 190.2,262.1 190.9,261.3 191.5,260.6 192.2,259.9 192.9,259.2 193.6,258.5 194.2,257.8 194.9,257.2 195.7,256.6 196.4,256.0 197.1,255.5 197.8,254.9 198.6,254.4 199.3,253.9 200.0,253.4 200.8,253.0 201.6,252.5 202.3,252.1 203.1,251.7 203.9,251.3 204.7,250.9 205.5,250.5 206.3,250.2 207.1,249.8 207.9,249.5 208.7,249.2 209.6,248.9 210.4,248.6 211.2,248.3 212.1,248.0 212.9,247.8 213.8,247.5 214.7,247.3 215.5,247.1 216.4,246.9 217.3,246.7 218.2,246.5 219.1,246.3 220.0,246.1 220.9,245.9 221.8,245.7 222.7,245.6 223.7,245.4 224.6,245.2 225.5,245.1 226.5,245.0 227.4,244.8 228.4,244.7 229.4,244.6 230.3,244.4 231.3,244.3 232.3,244.2 233.3,244.1 234.3,244.0 235.3,243.9 236.3,243.8 237.3,243.7 238.3,243.6 239.3,243.5 240.3,243.5 241.4,243.4 242.4,243.3 243.4,243.2 244.5,243.2 245.5,243.1 246.6,243.0 247.7,242.9 248.7,242.9 249.8,242.8" fill="none" stroke="#2a2a2a" stroke-width="1.1" stroke-linejoin="round"/>
<path d="M169.0,321.0 169.0,320.7 169.1,320.2 169.2,319.6 169.3,318.7 169.5,317.8 169.7,316.7 169.9,315.6 170.1,314.3 170.3,313.0 170.5,311.7 170.8,310.3 171.0,308.8 171.3,307.3 171.6,305.8 171.9,304.2 172.2,302.6 172.5,301.1 172.9,299.5 173.2,297.9 173.6,296.3 174.0,294.7 174.4,293.1 174.7,291.5 175.2,290.0 175.6,288.4 176.0,286.9 176.4,285.4 176.9,283.9 177.3,282.5 177.8,281.1 178.3,279.7 178.7,278.3 179.2,277.0 179.7,275.7 180.3,274.5 180.8,273.3 181.3,272.1 181.8,270.9 182.4,269.8 182.9,268.7 183.5,267.7 184.1,266.7 184.6,265.7 185.2,264.7 185.8,263.8 186.4,262.9 187.0,262.1 187.7,261.3 188.3,260.5 188.9,259.7 189.6,259.0 190.2,258.3 190.9,257.6 191.5,257.0 192.2,256.4 192.9,255.8 193.6,255.2 194.2,254.7 194.9,254.2 195.7,253.7 196.4,253.2 197.1,252.7 197.8,252.3 198.6,251.9 199.3,251.5 200.0,251.1 200.8,250.7 201.6,250.3 202.3,250.0 203.1,249.7 203.9,249.4 204.7,249.1 205.5,248.8 206.3,248.5 207.1,248.3 207.9,248.0 208.7,247.8 209.6,247.5 210.4,247.3 211.2,247.1 212.1,246.9 212.9,246.7 213.8,246.5 214.7,246.3 215.5,246.2 216.4,246.0 217.3,245.8 218.2,245.7 219.1,245.5 220.0,245.4 220.9,245.2 221.8,245.1 222.7,245.0 223.7,244.9 224.6,244.7 225.5,244.6 226.5,244.5 227.4,244.4 228.4,244.3 229.4,244.2 230.3,244.1 231.3,244.0 232.3,243.9 233.3,243.8 234.3,243.7 235.3,243.7 236.3,243.6 237.3,243.5 238.3,243.4 239.3,243.4 240.3,243.3 241.4,243.2 242.4,243.2 243.4,243.1 244.5,243.0 245.5,243.0 246.6,242.9 247.7,242.9 248.7,242.8 249.8,242.7" fill="none" stroke="#ec8a48" stroke-width="1.8" stroke-linejoin="round"/>
<text transform="translate(149.2 282.8) rotate(-90)" font-size="6.4" text-anchor="middle" textLength="13.5" lengthAdjust="spacingAndGlyphs">CDF</text>
<text x="169.0" y="330.6" font-size="5.9" text-anchor="middle" fill="#222">0</text>
<text x="209.6" y="330.6" font-size="5.9" text-anchor="middle" fill="#222" textLength="11.0" lengthAdjust="spacingAndGlyphs">750</text>
<text x="249.8" y="330.6" font-size="5.9" text-anchor="middle" fill="#222" textLength="16.5" lengthAdjust="spacingAndGlyphs">1,500</text>
<text x="211.7" y="340.8" font-size="6.6" text-anchor="middle" textLength="83.0" lengthAdjust="spacingAndGlyphs">Inter-event interval (ms)</text>
<text x="190.3" y="280.9" font-size="6.4" textLength="52.7" lengthAdjust="spacingAndGlyphs">*** <tspan font-style="italic">P</tspan> = 0.00078</text>
<text x="207.9" y="308.4" font-size="7" textLength="40.2" lengthAdjust="spacingAndGlyphs">Control IgG</text>
<text x="207.9" y="318.2" font-size="7" fill="#f0903a" textLength="36.9" lengthAdjust="spacingAndGlyphs">C1q Blk Ab</text>
<text x="294.3" y="244.6" font-size="7" textLength="8.6" lengthAdjust="spacingAndGlyphs">(ii)</text>
<text x="359.4" y="245.0" font-size="7" text-anchor="middle" textLength="20.6" lengthAdjust="spacingAndGlyphs">zQ175</text>
<text transform="translate(302.8 285.0) rotate(-90)" font-size="6.4" text-anchor="middle" textLength="50.0" lengthAdjust="spacingAndGlyphs">Frequency (Hz)</text>
<rect x="329.5" y="297.3" width="21.6" height="23.2" fill="#8e8e8e" />
<path d="M329.5 320.5V297.3H351.1V320.5" fill="none" stroke="#2a2a2a" stroke-width="0.9"/>
<rect x="362.4" y="290.3" width="21.5" height="30.2" fill="#dedede" />
<path d="M362.4 320.5V290.3H383.9V320.5" fill="none" stroke="#f28c28" stroke-width="0.9"/>
<line x1="318.4" y1="244.2" x2="318.4" y2="320.8" stroke="#5e5e5e" stroke-width="0.5" />
<line x1="318.1" y1="320.5" x2="394.8" y2="320.5" stroke="#5e5e5e" stroke-width="0.5" />
<line x1="316.2" y1="244.4" x2="318.4" y2="244.4" stroke="#5e5e5e" stroke-width="0.5" />
<text x="314.2" y="246.4" font-size="5.9" text-anchor="end" fill="#222" textLength="7.3" lengthAdjust="spacingAndGlyphs">12</text>
<line x1="316.2" y1="269.5" x2="318.4" y2="269.5" stroke="#5e5e5e" stroke-width="0.5" />
<text x="314.2" y="271.5" font-size="5.9" text-anchor="end" fill="#222">8</text>
<line x1="316.2" y1="295.0" x2="318.4" y2="295.0" stroke="#5e5e5e" stroke-width="0.5" />
<text x="314.2" y="297.0" font-size="5.9" text-anchor="end" fill="#222">4</text>
<line x1="316.2" y1="320.5" x2="318.4" y2="320.5" stroke="#5e5e5e" stroke-width="0.5" />
<text x="314.2" y="322.5" font-size="5.9" text-anchor="end" fill="#222">0</text>
<line x1="340.1" y1="320.5" x2="340.1" y2="322.7" stroke="#555" stroke-width="0.55" />
<line x1="373.2" y1="320.5" x2="373.2" y2="322.7" stroke="#555" stroke-width="0.55" />
<circle cx="331.7" cy="288.5" r="2.1" fill="#000"/>
<circle cx="345.5" cy="290.2" r="2.1" fill="#000"/>
<circle cx="335.2" cy="292.0" r="2.1" fill="#000"/>
<circle cx="338.7" cy="291.4" r="2.1" fill="#000"/>
<circle cx="331.7" cy="293.7" r="2.1" fill="#000"/>
<circle cx="348.6" cy="293.7" r="2.1" fill="#000"/>
<circle cx="342.2" cy="294.9" r="2.1" fill="#000"/>
<circle cx="345.1" cy="294.9" r="2.1" fill="#000"/>
<circle cx="338.1" cy="296.1" r="2.1" fill="#000"/>
<circle cx="335.2" cy="298.4" r="2.1" fill="#000"/>
<circle cx="338.7" cy="302.5" r="2.1" fill="#000"/>
<circle cx="345.1" cy="301.9" r="2.1" fill="#000"/>
<circle cx="341.6" cy="305.4" r="2.1" fill="#000"/>
<circle cx="340.1" cy="313.6" r="2.1" fill="#000"/>
<rect x="371.1" y="248.2" width="4.2" height="4.2" fill="#f28c28"/>
<rect x="371.1" y="253.7" width="4.2" height="4.2" fill="#f28c28"/>
<rect x="371.1" y="259.5" width="4.2" height="4.2" fill="#f28c28"/>
<rect x="369.3" y="262.8" width="4.2" height="4.2" fill="#f28c28"/>
<rect x="373.4" y="263.0" width="4.2" height="4.2" fill="#f28c28"/>
<rect x="371.1" y="270.0" width="4.2" height="4.2" fill="#f28c28"/>
<rect x="370.5" y="275.9" width="4.2" height="4.2" fill="#f28c28"/>
<rect x="367.0" y="279.0" width="4.2" height="4.2" fill="#f28c28"/>
<rect x="375.1" y="279.0" width="4.2" height="4.2" fill="#f28c28"/>
<rect x="371.1" y="278.8" width="4.2" height="4.2" fill="#f28c28"/>
<rect x="371.1" y="281.7" width="4.2" height="4.2" fill="#f28c28"/>
<rect x="373.4" y="284.0" width="4.2" height="4.2" fill="#f28c28"/>
<rect x="368.5" y="291.1" width="4.2" height="4.2" fill="#f28c28"/>
<rect x="375.8" y="290.0" width="4.2" height="4.2" fill="#f28c28"/>
<rect x="363.6" y="294.1" width="4.2" height="4.2" fill="#f28c28"/>
<rect x="369.8" y="293.5" width="4.2" height="4.2" fill="#f28c28"/>
<rect x="373.5" y="293.2" width="4.2" height="4.2" fill="#f28c28"/>
<rect x="376.5" y="294.4" width="4.2" height="4.2" fill="#f28c28"/>
<rect x="379.8" y="294.3" width="4.2" height="4.2" fill="#f28c28"/>
<rect x="363.1" y="296.5" width="4.2" height="4.2" fill="#f28c28"/>
<rect x="367.0" y="296.6" width="4.2" height="4.2" fill="#f28c28"/>
<rect x="370.7" y="297.5" width="4.2" height="4.2" fill="#f28c28"/>
<rect x="374.1" y="297.1" width="4.2" height="4.2" fill="#f28c28"/>
<rect x="376.4" y="297.6" width="4.2" height="4.2" fill="#f28c28"/>
<rect x="381.2" y="297.6" width="4.2" height="4.2" fill="#f28c28"/>
<rect x="362.6" y="299.7" width="4.2" height="4.2" fill="#f28c28"/>
<rect x="365.7" y="299.9" width="4.2" height="4.2" fill="#f28c28"/>
<rect x="369.1" y="300.4" width="4.2" height="4.2" fill="#f28c28"/>
<rect x="373.1" y="300.6" width="4.2" height="4.2" fill="#f28c28"/>
<rect x="376.6" y="300.1" width="4.2" height="4.2" fill="#f28c28"/>
<rect x="379.7" y="300.8" width="4.2" height="4.2" fill="#f28c28"/>
<rect x="363.3" y="303.8" width="4.2" height="4.2" fill="#f28c28"/>
<rect x="366.9" y="303.1" width="4.2" height="4.2" fill="#f28c28"/>
<rect x="369.1" y="302.7" width="4.2" height="4.2" fill="#f28c28"/>
<rect x="374.1" y="302.9" width="4.2" height="4.2" fill="#f28c28"/>
<rect x="377.6" y="303.9" width="4.2" height="4.2" fill="#f28c28"/>
<rect x="380.2" y="303.4" width="4.2" height="4.2" fill="#f28c28"/>
<rect x="362.2" y="306.8" width="4.2" height="4.2" fill="#f28c28"/>
<rect x="367.0" y="305.8" width="4.2" height="4.2" fill="#f28c28"/>
<rect x="373.1" y="306.6" width="4.2" height="4.2" fill="#f28c28"/>
<rect x="381.1" y="306.5" width="4.2" height="4.2" fill="#f28c28"/>
<rect x="363.7" y="309.2" width="4.2" height="4.2" fill="#f28c28"/>
<rect x="367.2" y="309.9" width="4.2" height="4.2" fill="#f28c28"/>
<rect x="374.5" y="310.3" width="4.2" height="4.2" fill="#f28c28"/>
<rect x="378.8" y="309.3" width="4.2" height="4.2" fill="#f28c28"/>
<text x="340.3" y="329.8" font-size="7.4" text-anchor="middle" textLength="12.9" lengthAdjust="spacingAndGlyphs">Ctrl</text>
<text x="340.3" y="338.7" font-size="7.4" text-anchor="middle">IgG</text>
<text x="373.5" y="329.8" font-size="7.4" text-anchor="middle">C1q</text>
<text x="373.5" y="338.7" font-size="7.4" text-anchor="middle">Blk Ab</text>
<line x1="432.7" y1="240.4" x2="432.7" y2="320.2" stroke="#5e5e5e" stroke-width="0.5" />
<line x1="432.4" y1="320.0" x2="512.0" y2="320.0" stroke="#5e5e5e" stroke-width="0.5" />
<line x1="430.5" y1="240.6" x2="432.7" y2="240.6" stroke="#5e5e5e" stroke-width="0.5" />
<text x="428.8" y="242.6" font-size="5.9" text-anchor="end" fill="#222" textLength="9.2" lengthAdjust="spacingAndGlyphs">1.0</text>
<line x1="430.5" y1="279.8" x2="432.7" y2="279.8" stroke="#5e5e5e" stroke-width="0.5" />
<text x="428.8" y="281.8" font-size="5.9" text-anchor="end" fill="#222" textLength="9.2" lengthAdjust="spacingAndGlyphs">0.5</text>
<line x1="430.5" y1="320.0" x2="432.7" y2="320.0" stroke="#5e5e5e" stroke-width="0.5" />
<text x="428.8" y="322.0" font-size="5.9" text-anchor="end" fill="#222">0</text>
<line x1="432.7" y1="320.0" x2="432.7" y2="322.2" stroke="#555" stroke-width="0.55" />
<line x1="472.4" y1="320.0" x2="472.4" y2="322.2" stroke="#555" stroke-width="0.55" />
<line x1="511.8" y1="320.0" x2="511.8" y2="322.2" stroke="#555" stroke-width="0.55" />
<path d="M432.7,320.0 432.7,319.8 432.8,319.4 432.9,318.8 433.0,318.2 433.2,317.4 433.4,316.6 433.5,315.6 433.7,314.6 434.0,313.6 434.2,312.4 434.4,311.3 434.7,310.0 435.0,308.8 435.2,307.5 435.5,306.2 435.9,304.9 436.2,303.5 436.5,302.1 436.9,300.7 437.2,299.3 437.6,297.9 438.0,296.5 438.3,295.1 438.7,293.7 439.1,292.3 439.6,291.0 440.0,289.6 440.4,288.2 440.9,286.9 441.3,285.5 441.8,284.2 442.3,282.9 442.8,281.6 443.2,280.4 443.7,279.1 444.3,277.9 444.8,276.7 445.3,275.5 445.8,274.4 446.4,273.3 446.9,272.2 447.5,271.1 448.1,270.1 448.6,269.0 449.2,268.0 449.8,267.1 450.4,266.1 451.0,265.2 451.6,264.3 452.2,263.5 452.9,262.6 453.5,261.8 454.1,261.1 454.8,260.3 455.5,259.6 456.1,258.8 456.8,258.2 457.5,257.5 458.2,256.9 458.9,256.2 459.6,255.6 460.3,255.1 461.0,254.5 461.7,254.0 462.4,253.4 463.2,252.9 463.9,252.5 464.7,252.0 465.4,251.6 466.2,251.1 466.9,250.7 467.7,250.3 468.5,249.9 469.3,249.6 470.1,249.2 470.9,248.9 471.7,248.6 472.5,248.3 473.3,248.0 474.2,247.7 475.0,247.4 475.8,247.1 476.7,246.9 477.5,246.6 478.4,246.4 479.2,246.2 480.1,246.0 481.0,245.7 481.9,245.5 482.7,245.4 483.6,245.2 484.5,245.0 485.4,244.8 486.4,244.7 487.3,244.5 488.2,244.4 489.1,244.2 490.1,244.1 491.0,244.0 491.9,243.8 492.9,243.7 493.8,243.6 494.8,243.5 495.8,243.4 496.7,243.3 497.7,243.2 498.7,243.1 499.7,243.0 500.7,242.9 501.7,242.8 502.7,242.7 503.7,242.6 504.7,242.6 505.8,242.5 506.8,242.4 507.8,242.4 508.9,242.3 509.9,242.2 510.9,242.2 512.0,242.1" fill="none" stroke="#c4c4c4" stroke-width="3.2" stroke-linejoin="round"/>
<path d="M432.7,320.0 432.7,319.8 432.8,319.4 432.9,318.8 433.0,318.2 433.2,317.4 433.4,316.6 433.5,315.6 433.7,314.6 434.0,313.6 434.2,312.4 434.4,311.3 434.7,310.0 435.0,308.8 435.2,307.5 435.5,306.2 435.9,304.9 436.2,303.5 436.5,302.1 436.9,300.7 437.2,299.3 437.6,297.9 438.0,296.5 438.3,295.1 438.7,293.7 439.1,292.3 439.6,291.0 440.0,289.6 440.4,288.2 440.9,286.9 441.3,285.5 441.8,284.2 442.3,282.9 442.8,281.6 443.2,280.4 443.7,279.1 444.3,277.9 444.8,276.7 445.3,275.5 445.8,274.4 446.4,273.3 446.9,272.2 447.5,271.1 448.1,270.1 448.6,269.0 449.2,268.0 449.8,267.1 450.4,266.1 451.0,265.2 451.6,264.3 452.2,263.5 452.9,262.6 453.5,261.8 454.1,261.1 454.8,260.3 455.5,259.6 456.1,258.8 456.8,258.2 457.5,257.5 458.2,256.9 458.9,256.2 459.6,255.6 460.3,255.1 461.0,254.5 461.7,254.0 462.4,253.4 463.2,252.9 463.9,252.5 464.7,252.0 465.4,251.6 466.2,251.1 466.9,250.7 467.7,250.3 468.5,249.9 469.3,249.6 470.1,249.2 470.9,248.9 471.7,248.6 472.5,248.3 473.3,248.0 474.2,247.7 475.0,247.4 475.8,247.1 476.7,246.9 477.5,246.6 478.4,246.4 479.2,246.2 480.1,246.0 481.0,245.7 481.9,245.5 482.7,245.4 483.6,245.2 484.5,245.0 485.4,244.8 486.4,244.7 487.3,244.5 488.2,244.4 489.1,244.2 490.1,244.1 491.0,244.0 491.9,243.8 492.9,243.7 493.8,243.6 494.8,243.5 495.8,243.4 496.7,243.3 497.7,243.2 498.7,243.1 499.7,243.0 500.7,242.9 501.7,242.8 502.7,242.7 503.7,242.6 504.7,242.6 505.8,242.5 506.8,242.4 507.8,242.4 508.9,242.3 509.9,242.2 510.9,242.2 512.0,242.1" fill="none" stroke="#333" stroke-width="1.2" stroke-linejoin="round"/>
<path d="M432.7,320.0 432.7,319.7 432.8,319.2 432.9,318.5 433.0,317.6 433.2,316.6 433.4,315.5 433.5,314.3 433.7,313.0 434.0,311.6 434.2,310.2 434.4,308.7 434.7,307.1 435.0,305.6 435.2,304.0 435.5,302.3 435.9,300.7 436.2,299.1 436.5,297.4 436.9,295.7 437.2,294.1 437.6,292.4 438.0,290.8 438.3,289.2 438.7,287.6 439.1,286.0 439.6,284.5 440.0,282.9 440.4,281.4 440.9,280.0 441.3,278.5 441.8,277.1 442.3,275.8 442.8,274.5 443.2,273.2 443.7,271.9 444.3,270.7 444.8,269.5 445.3,268.4 445.8,267.3 446.4,266.2 446.9,265.1 447.5,264.2 448.1,263.2 448.6,262.3 449.2,261.4 449.8,260.5 450.4,259.7 451.0,258.9 451.6,258.1 452.2,257.4 452.9,256.7 453.5,256.1 454.1,255.4 454.8,254.8 455.5,254.2 456.1,253.7 456.8,253.1 457.5,252.6 458.2,252.1 458.9,251.7 459.6,251.2 460.3,250.8 461.0,250.4 461.7,250.0 462.4,249.6 463.2,249.3 463.9,248.9 464.7,248.6 465.4,248.3 466.2,248.0 466.9,247.7 467.7,247.4 468.5,247.2 469.3,246.9 470.1,246.7 470.9,246.5 471.7,246.3 472.5,246.0 473.3,245.8 474.2,245.7 475.0,245.5 475.8,245.3 476.7,245.1 477.5,245.0 478.4,244.8 479.2,244.7 480.1,244.5 481.0,244.4 481.9,244.3 482.7,244.1 483.6,244.0 484.5,243.9 485.4,243.8 486.4,243.7 487.3,243.6 488.2,243.5 489.1,243.4 490.1,243.3 491.0,243.2 491.9,243.1 492.9,243.0 493.8,242.9 494.8,242.9 495.8,242.8 496.7,242.7 497.7,242.6 498.7,242.6 499.7,242.5 500.7,242.4 501.7,242.4 502.7,242.3 503.7,242.3 504.7,242.2 505.8,242.2 506.8,242.1 507.8,242.1 508.9,242.0 509.9,242.0 510.9,241.9 512.0,241.9" fill="none" stroke="#ee8a45" stroke-width="1.6" stroke-linejoin="round"/>
<text transform="translate(414.2 281.6) rotate(-90)" font-size="6.4" text-anchor="middle" textLength="13.5" lengthAdjust="spacingAndGlyphs">CDF</text>
<text x="432.7" y="329.2" font-size="5.9" text-anchor="middle" fill="#222">0</text>
<text x="472.4" y="329.2" font-size="5.9" text-anchor="middle" fill="#222" textLength="11.0" lengthAdjust="spacingAndGlyphs">750</text>
<text x="512.0" y="329.2" font-size="5.9" text-anchor="middle" fill="#222" textLength="16.5" lengthAdjust="spacingAndGlyphs">1,500</text>
<text x="473.2" y="340.4" font-size="6.6" text-anchor="middle" textLength="83.5" lengthAdjust="spacingAndGlyphs">Inter-event interval (ms)</text>
<text x="451.0" y="280.9" font-size="6.4" textLength="52.5" lengthAdjust="spacingAndGlyphs">*** <tspan font-style="italic">P</tspan> = 0.00015</text>
<text x="470.9" y="306.8" font-size="7" textLength="40.4" lengthAdjust="spacingAndGlyphs">Control IgG</text>
<text x="470.9" y="316.2" font-size="7" fill="#f0903a" textLength="37.1" lengthAdjust="spacingAndGlyphs">C1q Blk Ab</text>
<text x="7.0" y="363.6" font-size="12.6" font-weight="bold" fill="#000" stroke="#000" stroke-width="0.45">f</text>
<text x="251.9" y="359.6" font-size="6.5" textLength="58.8" lengthAdjust="spacingAndGlyphs">sEPSC amplitude</text>
<line x1="251.9" y1="360.7" x2="310.7" y2="360.7" stroke="#222" stroke-width="0.45" />
<text x="34.0" y="371.8" font-size="7">(i)</text>
<text x="96.7" y="378.2" font-size="7" text-anchor="middle">WT</text>
<text transform="translate(40.4 414.0) rotate(-90)" font-size="6.4" text-anchor="middle" textLength="53.0" lengthAdjust="spacingAndGlyphs">Amplitude (pA)</text>
<rect x="69.2" y="410.4" width="21.8" height="42.2" fill="#616161" />
<path d="M69.2 452.6V410.4H91.0V452.6" fill="none" stroke="#111" stroke-width="0.8"/>
<rect x="101.9" y="405.4" width="21.9" height="47.2" fill="#ababab" />
<path d="M101.9 452.6V405.4H123.8V452.6" fill="none" stroke="#f28c28" stroke-width="0.9"/>
<line x1="59.0" y1="376.5" x2="59.0" y2="452.9" stroke="#5e5e5e" stroke-width="0.5" />
<line x1="58.8" y1="452.6" x2="135.7" y2="452.6" stroke="#5e5e5e" stroke-width="0.5" />
<line x1="56.8" y1="376.7" x2="59.0" y2="376.7" stroke="#5e5e5e" stroke-width="0.5" />
<text x="54.6" y="378.7" font-size="5.9" text-anchor="end" fill="#222" textLength="7.3" lengthAdjust="spacingAndGlyphs">30</text>
<line x1="56.8" y1="401.6" x2="59.0" y2="401.6" stroke="#5e5e5e" stroke-width="0.5" />
<text x="54.6" y="403.6" font-size="5.9" text-anchor="end" fill="#222" textLength="7.3" lengthAdjust="spacingAndGlyphs">20</text>
<line x1="56.8" y1="427.4" x2="59.0" y2="427.4" stroke="#5e5e5e" stroke-width="0.5" />
<text x="54.6" y="429.4" font-size="5.9" text-anchor="end" fill="#222" textLength="7.3" lengthAdjust="spacingAndGlyphs">10</text>
<line x1="56.8" y1="452.6" x2="59.0" y2="452.6" stroke="#5e5e5e" stroke-width="0.5" />
<text x="54.6" y="454.6" font-size="5.9" text-anchor="end" fill="#222">0</text>
<line x1="80.2" y1="452.6" x2="80.2" y2="454.8" stroke="#555" stroke-width="0.55" />
<line x1="112.8" y1="452.6" x2="112.8" y2="454.8" stroke="#555" stroke-width="0.55" />
<circle cx="79.9" cy="385.2" r="2.25" fill="#000"/>
<circle cx="78.4" cy="392.8" r="2.25" fill="#000"/>
<circle cx="71.6" cy="397.8" r="2.25" fill="#000"/>
<circle cx="75.4" cy="397.3" r="2.25" fill="#000"/>
<circle cx="81.7" cy="396.5" r="2.25" fill="#000"/>
<circle cx="88.4" cy="398.5" r="2.25" fill="#000"/>
<circle cx="74.1" cy="400.3" r="2.25" fill="#000"/>
<circle cx="84.2" cy="401.6" r="2.25" fill="#000"/>
<circle cx="79.1" cy="405.3" r="2.25" fill="#000"/>
<circle cx="86.2" cy="407.3" r="2.25" fill="#000"/>
<circle cx="75.4" cy="409.1" r="2.25" fill="#000"/>
<circle cx="81.7" cy="410.4" r="2.25" fill="#000"/>
<circle cx="85.4" cy="412.9" r="2.25" fill="#000"/>
<circle cx="75.4" cy="415.4" r="2.25" fill="#000"/>
<circle cx="80.4" cy="417.4" r="2.25" fill="#000"/>
<circle cx="76.6" cy="420.4" r="2.25" fill="#000"/>
<circle cx="82.9" cy="420.9" r="2.25" fill="#000"/>
<circle cx="86.7" cy="422.9" r="2.25" fill="#000"/>
<circle cx="75.4" cy="425.4" r="2.25" fill="#000"/>
<circle cx="81.7" cy="426.7" r="2.25" fill="#000"/>
<circle cx="85.4" cy="426.7" r="2.25" fill="#000"/>
<circle cx="80.4" cy="429.9" r="2.25" fill="#000"/>
<circle cx="78.4" cy="432.5" r="2.25" fill="#000"/>
<rect x="110.9" y="377.2" width="4.3" height="4.3" fill="#f28c28"/>
<rect x="110.9" y="382.5" width="4.3" height="4.3" fill="#f28c28"/>
<rect x="106.0" y="390.9" width="4.3" height="4.3" fill="#f28c28"/>
<rect x="110.7" y="389.8" width="4.3" height="4.3" fill="#f28c28"/>
<rect x="115.0" y="393.0" width="4.3" height="4.3" fill="#f28c28"/>
<rect x="119.7" y="390.0" width="4.3" height="4.3" fill="#f28c28"/>
<rect x="104.3" y="401.7" width="4.3" height="4.3" fill="#f28c28"/>
<rect x="108.9" y="403.1" width="4.3" height="4.3" fill="#f28c28"/>
<rect x="114.2" y="401.7" width="4.3" height="4.3" fill="#f28c28"/>
<rect x="117.9" y="402.0" width="4.3" height="4.3" fill="#f28c28"/>
<rect x="107.8" y="404.3" width="4.3" height="4.3" fill="#f28c28"/>
<rect x="110.9" y="410.5" width="4.3" height="4.3" fill="#f28c28"/>
<rect x="106.0" y="414.0" width="4.3" height="4.3" fill="#f28c28"/>
<rect x="114.8" y="414.0" width="4.3" height="4.3" fill="#f28c28"/>
<rect x="119.7" y="412.8" width="4.3" height="4.3" fill="#f28c28"/>
<rect x="102.5" y="416.9" width="4.3" height="4.3" fill="#f28c28"/>
<rect x="110.9" y="416.3" width="4.3" height="4.3" fill="#f28c28"/>
<rect x="119.7" y="418.3" width="4.3" height="4.3" fill="#f28c28"/>
<text x="80.4" y="464.9" font-size="7.4" text-anchor="middle" textLength="12.9" lengthAdjust="spacingAndGlyphs">Ctrl</text>
<text x="80.4" y="473.5" font-size="7.4" text-anchor="middle">IgG</text>
<text x="113.6" y="464.9" font-size="7.4" text-anchor="middle">C1q</text>
<text x="113.6" y="473.5" font-size="7.4" text-anchor="middle">Blk Ab</text>
<line x1="171.0" y1="368.7" x2="171.0" y2="451.9" stroke="#5e5e5e" stroke-width="0.5" />
<line x1="170.8" y1="451.6" x2="254.4" y2="451.6" stroke="#5e5e5e" stroke-width="0.5" />
<line x1="168.8" y1="368.9" x2="171.0" y2="368.9" stroke="#5e5e5e" stroke-width="0.5" />
<text x="167.0" y="370.9" font-size="5.9" text-anchor="end" fill="#222" textLength="9.2" lengthAdjust="spacingAndGlyphs">1.0</text>
<line x1="168.8" y1="409.8" x2="171.0" y2="409.8" stroke="#5e5e5e" stroke-width="0.5" />
<text x="167.0" y="411.8" font-size="5.9" text-anchor="end" fill="#222" textLength="9.2" lengthAdjust="spacingAndGlyphs">0.5</text>
<line x1="168.8" y1="451.6" x2="171.0" y2="451.6" stroke="#5e5e5e" stroke-width="0.5" />
<text x="167.0" y="453.6" font-size="5.9" text-anchor="end" fill="#222">0</text>
<line x1="171.0" y1="451.6" x2="171.0" y2="453.8" stroke="#555" stroke-width="0.55" />
<line x1="212.4" y1="451.6" x2="212.4" y2="453.8" stroke="#555" stroke-width="0.55" />
<line x1="254.2" y1="451.6" x2="254.2" y2="453.8" stroke="#555" stroke-width="0.55" />
<path d="M173.7,451.6 173.7,451.6 173.8,451.6 173.9,451.6 174.0,451.6 174.2,451.5 174.3,451.5 174.5,451.5 174.7,451.4 174.9,451.3 175.2,451.1 175.4,450.9 175.7,450.6 176.0,450.2 176.3,449.7 176.6,449.0 176.9,448.2 177.2,447.1 177.5,445.8 177.9,444.3 178.3,442.6 178.6,440.6 179.0,438.4 179.4,436.0 179.8,433.3 180.2,430.5 180.7,427.6 181.1,424.5 181.5,421.4 182.0,418.2 182.5,415.0 182.9,411.9 183.4,408.8 183.9,405.7 184.4,402.8 184.9,400.0 185.4,397.3 186.0,394.7 186.5,392.3 187.0,390.1 187.6,388.0 188.2,386.1 188.7,384.3 189.3,382.6 189.9,381.1 190.5,379.8 191.1,378.6 191.7,377.5 192.3,376.5 192.9,375.6 193.6,374.8 194.2,374.1 194.9,373.4 195.5,372.9 196.2,372.4 196.8,371.9 197.5,371.5 198.2,371.2 198.9,370.9 199.6,370.6 200.3,370.4 201.0,370.2 201.7,370.0 202.5,369.9 203.2,369.8 203.9,369.6 204.7,369.5 205.4,369.4 206.2,369.4 207.0,369.3 207.7,369.3 208.5,369.2 209.3,369.2 210.1,369.1 210.9,369.1 211.7,369.1 212.5,369.0 213.4,369.0 214.2,369.0 215.0,369.0 215.9,369.0 216.7,369.0 217.6,369.0 218.4,368.9 219.3,368.9 220.2,368.9 221.0,368.9 221.9,368.9 222.8,368.9 223.7,368.9 224.6,368.9 225.5,368.9 226.4,368.9 227.4,368.9 228.3,368.9 229.2,368.9 230.2,368.9 231.1,368.9 232.1,368.9 233.0,368.9 234.0,368.9 234.9,368.9 235.9,368.9 236.9,368.9 237.9,368.9 238.9,368.9 239.9,368.9 240.9,368.9 241.9,368.9 242.9,368.9 243.9,368.9 244.9,368.9 246.0,368.9 247.0,368.9 248.0,368.9 249.1,368.9 250.1,368.9 251.2,368.9 252.3,368.9 253.3,368.9 254.4,368.9" fill="none" stroke="#666" stroke-width="1.9" stroke-linejoin="round"/>
<path d="M173.7,451.6 173.7,451.6 173.8,451.6 173.9,451.6 174.0,451.6 174.2,451.5 174.3,451.5 174.5,451.5 174.7,451.4 174.9,451.3 175.2,451.1 175.4,450.9 175.7,450.6 176.0,450.2 176.3,449.7 176.6,449.0 176.9,448.2 177.2,447.1 177.5,445.8 177.9,444.3 178.3,442.6 178.6,440.6 179.0,438.4 179.4,436.0 179.8,433.3 180.2,430.5 180.7,427.6 181.1,424.5 181.5,421.4 182.0,418.2 182.5,415.0 182.9,411.9 183.4,408.8 183.9,405.7 184.4,402.8 184.9,400.0 185.4,397.3 186.0,394.7 186.5,392.3 187.0,390.1 187.6,388.0 188.2,386.1 188.7,384.3 189.3,382.6 189.9,381.1 190.5,379.8 191.1,378.6 191.7,377.5 192.3,376.5 192.9,375.6 193.6,374.8 194.2,374.1 194.9,373.4 195.5,372.9 196.2,372.4 196.8,371.9 197.5,371.5 198.2,371.2 198.9,370.9 199.6,370.6 200.3,370.4 201.0,370.2 201.7,370.0 202.5,369.9 203.2,369.8 203.9,369.6 204.7,369.5 205.4,369.4 206.2,369.4 207.0,369.3 207.7,369.3 208.5,369.2 209.3,369.2 210.1,369.1 210.9,369.1 211.7,369.1 212.5,369.0 213.4,369.0 214.2,369.0 215.0,369.0 215.9,369.0 216.7,369.0 217.6,369.0 218.4,368.9 219.3,368.9 220.2,368.9 221.0,368.9 221.9,368.9 222.8,368.9 223.7,368.9 224.6,368.9 225.5,368.9 226.4,368.9 227.4,368.9 228.3,368.9 229.2,368.9 230.2,368.9 231.1,368.9 232.1,368.9 233.0,368.9 234.0,368.9 234.9,368.9 235.9,368.9 236.9,368.9 237.9,368.9 238.9,368.9 239.9,368.9 240.9,368.9 241.9,368.9 242.9,368.9 243.9,368.9 244.9,368.9 246.0,368.9 247.0,368.9 248.0,368.9 249.1,368.9 250.1,368.9 251.2,368.9 252.3,368.9 253.3,368.9 254.4,368.9" fill="none" stroke="#222" stroke-width="1.1" stroke-linejoin="round"/>
<path d="M174.5,451.6 174.5,451.6 174.6,451.6 174.7,451.6 174.8,451.6 175.0,451.5 175.2,451.5 175.4,451.5 175.6,451.4 175.8,451.3 176.0,451.2 176.2,451.1 176.5,450.9 176.8,450.6 177.1,450.2 177.4,449.7 177.7,449.1 178.0,448.4 178.3,447.5 178.7,446.4 179.0,445.1 179.4,443.6 179.8,442.0 180.2,440.1 180.6,438.0 181.0,435.8 181.4,433.4 181.8,430.8 182.3,428.1 182.7,425.3 183.2,422.4 183.7,419.4 184.1,416.5 184.6,413.5 185.1,410.6 185.6,407.7 186.1,404.8 186.7,402.1 187.2,399.5 187.7,397.0 188.3,394.6 188.8,392.3 189.4,390.2 190.0,388.2 190.5,386.3 191.1,384.6 191.7,383.0 192.3,381.6 192.9,380.3 193.6,379.0 194.2,377.9 194.8,376.9 195.5,376.0 196.1,375.2 196.8,374.5 197.4,373.8 198.1,373.3 198.8,372.7 199.5,372.3 200.2,371.9 200.9,371.5 201.6,371.2 202.3,370.9 203.0,370.6 203.7,370.4 204.5,370.2 205.2,370.0 205.9,369.9 206.7,369.8 207.5,369.7 208.2,369.6 209.0,369.5 209.8,369.4 210.6,369.3 211.4,369.3 212.2,369.2 213.0,369.2 213.8,369.1 214.6,369.1 215.4,369.1 216.3,369.1 217.1,369.0 217.9,369.0 218.8,369.0 219.7,369.0 220.5,369.0 221.4,369.0 222.3,369.0 223.1,368.9 224.0,368.9 224.9,368.9 225.8,368.9 226.7,368.9 227.6,368.9 228.6,368.9 229.5,368.9 230.4,368.9 231.3,368.9 232.3,368.9 233.2,368.9 234.2,368.9 235.1,368.9 236.1,368.9 237.1,368.9 238.0,368.9 239.0,368.9 240.0,368.9 241.0,368.9 242.0,368.9 243.0,368.9 244.0,368.9 245.0,368.9 246.0,368.9 247.1,368.9 248.1,368.9 249.1,368.9 250.2,368.9 251.2,368.9 252.3,368.9 253.3,368.9 254.4,368.9" fill="none" stroke="#ee8a45" stroke-width="1.3" stroke-linejoin="round"/>
<text transform="translate(151.0 411.6) rotate(-90)" font-size="6.4" text-anchor="middle" textLength="13.5" lengthAdjust="spacingAndGlyphs">CDF</text>
<text x="171.0" y="462.2" font-size="5.9" text-anchor="middle" fill="#222">0</text>
<text x="212.4" y="462.2" font-size="5.9" text-anchor="middle" fill="#222" textLength="7.3" lengthAdjust="spacingAndGlyphs">50</text>
<text x="254.4" y="462.2" font-size="5.9" text-anchor="middle" fill="#222" textLength="11.0" lengthAdjust="spacingAndGlyphs">100</text>
<text x="213.4" y="472.2" font-size="6.6" text-anchor="middle" textLength="52.5" lengthAdjust="spacingAndGlyphs">Amplitude (pA)</text>
<text x="194.6" y="410.1" font-size="6.4" textLength="53.4" lengthAdjust="spacingAndGlyphs">*** <tspan font-style="italic">P</tspan> = 0.00076</text>
<text x="211.0" y="438.4" font-size="7" textLength="41.4" lengthAdjust="spacingAndGlyphs">Control IgG</text>
<text x="211.0" y="448.0" font-size="7" fill="#f0903a" textLength="37.0" lengthAdjust="spacingAndGlyphs">C1q Blk Ab</text>
<text x="294.3" y="370.6" font-size="7" textLength="8.6" lengthAdjust="spacingAndGlyphs">(ii)</text>
<text x="359.0" y="376.4" font-size="7" text-anchor="middle" textLength="20.6" lengthAdjust="spacingAndGlyphs">zQ175</text>
<text transform="translate(299.8 412.9) rotate(-90)" font-size="6.4" text-anchor="middle" textLength="53.0" lengthAdjust="spacingAndGlyphs">Amplitude (pA)</text>
<rect x="329.6" y="410.9" width="22.0" height="40.1" fill="#8e8e8e" />
<path d="M329.6 451.0V410.9H351.6V451.0" fill="none" stroke="#2a2a2a" stroke-width="0.9"/>
<rect x="362.5" y="411.6" width="21.8" height="39.4" fill="#dedede" />
<path d="M362.5 451.0V411.6H384.3V451.0" fill="none" stroke="#f5b77c" stroke-width="1.1"/>
<line x1="319.4" y1="374.2" x2="319.4" y2="451.2" stroke="#5e5e5e" stroke-width="0.5" />
<line x1="319.1" y1="451.0" x2="395.6" y2="451.0" stroke="#5e5e5e" stroke-width="0.5" />
<line x1="317.2" y1="374.4" x2="319.4" y2="374.4" stroke="#5e5e5e" stroke-width="0.5" />
<text x="315.0" y="376.4" font-size="5.9" text-anchor="end" fill="#222" textLength="7.3" lengthAdjust="spacingAndGlyphs">30</text>
<line x1="317.2" y1="400.3" x2="319.4" y2="400.3" stroke="#5e5e5e" stroke-width="0.5" />
<text x="315.0" y="402.3" font-size="5.9" text-anchor="end" fill="#222" textLength="7.3" lengthAdjust="spacingAndGlyphs">20</text>
<line x1="317.2" y1="426.0" x2="319.4" y2="426.0" stroke="#5e5e5e" stroke-width="0.5" />
<text x="315.0" y="428.0" font-size="5.9" text-anchor="end" fill="#222" textLength="7.3" lengthAdjust="spacingAndGlyphs">10</text>
<line x1="317.2" y1="451.0" x2="319.4" y2="451.0" stroke="#5e5e5e" stroke-width="0.5" />
<text x="315.0" y="453.0" font-size="5.9" text-anchor="end" fill="#222">0</text>
<line x1="340.4" y1="451.0" x2="340.4" y2="453.2" stroke="#555" stroke-width="0.55" />
<line x1="373.4" y1="451.0" x2="373.4" y2="453.2" stroke="#555" stroke-width="0.55" />
<circle cx="343.3" cy="394.0" r="2.2" fill="#000"/>
<circle cx="349.1" cy="398.3" r="2.2" fill="#000"/>
<circle cx="337.8" cy="401.6" r="2.2" fill="#000"/>
<circle cx="332.0" cy="403.3" r="2.2" fill="#000"/>
<circle cx="349.1" cy="404.8" r="2.2" fill="#000"/>
<circle cx="343.3" cy="407.3" r="2.2" fill="#000"/>
<circle cx="338.3" cy="411.6" r="2.2" fill="#000"/>
<circle cx="347.8" cy="411.6" r="2.2" fill="#000"/>
<circle cx="332.0" cy="413.4" r="2.2" fill="#000"/>
<circle cx="343.3" cy="414.1" r="2.2" fill="#000"/>
<circle cx="337.8" cy="417.9" r="2.2" fill="#000"/>
<circle cx="332.0" cy="419.9" r="2.2" fill="#000"/>
<circle cx="343.3" cy="420.9" r="2.2" fill="#000"/>
<circle cx="348.3" cy="419.9" r="2.2" fill="#000"/>
<circle cx="337.8" cy="425.4" r="2.2" fill="#000"/>
<rect x="371.4" y="385.6" width="4.2" height="4.2" fill="#f28c28"/>
<rect x="367.6" y="396.9" width="4.2" height="4.2" fill="#f28c28"/>
<rect x="375.4" y="396.2" width="4.2" height="4.2" fill="#f28c28"/>
<rect x="365.1" y="400.2" width="4.2" height="4.2" fill="#f28c28"/>
<rect x="362.1" y="404.5" width="4.2" height="4.2" fill="#f28c28"/>
<rect x="368.4" y="403.7" width="4.2" height="4.2" fill="#f28c28"/>
<rect x="374.6" y="405.7" width="4.2" height="4.2" fill="#f28c28"/>
<rect x="379.7" y="404.5" width="4.2" height="4.2" fill="#f28c28"/>
<rect x="364.6" y="408.3" width="4.2" height="4.2" fill="#f28c28"/>
<rect x="371.4" y="408.8" width="4.2" height="4.2" fill="#f28c28"/>
<rect x="377.1" y="409.5" width="4.2" height="4.2" fill="#f28c28"/>
<rect x="363.3" y="413.3" width="4.2" height="4.2" fill="#f28c28"/>
<rect x="369.6" y="412.8" width="4.2" height="4.2" fill="#f28c28"/>
<rect x="374.6" y="413.8" width="4.2" height="4.2" fill="#f28c28"/>
<rect x="379.7" y="412.8" width="4.2" height="4.2" fill="#f28c28"/>
<rect x="365.8" y="417.8" width="4.2" height="4.2" fill="#f28c28"/>
<rect x="372.1" y="417.8" width="4.2" height="4.2" fill="#f28c28"/>
<rect x="377.1" y="418.3" width="4.2" height="4.2" fill="#f28c28"/>
<rect x="367.8" y="423.3" width="4.2" height="4.2" fill="#f28c28"/>
<rect x="373.4" y="423.3" width="4.2" height="4.2" fill="#f28c28"/>
<rect x="378.4" y="422.1" width="4.2" height="4.2" fill="#f28c28"/>
<rect x="367.5" y="397.7" width="4.2" height="4.2" fill="#f28c28"/>
<rect x="364.0" y="406.5" width="4.2" height="4.2" fill="#f28c28"/>
<rect x="369.3" y="407.6" width="4.2" height="4.2" fill="#f28c28"/>
<rect x="374.0" y="409.4" width="4.2" height="4.2" fill="#f28c28"/>
<rect x="378.6" y="407.0" width="4.2" height="4.2" fill="#f28c28"/>
<rect x="364.6" y="414.6" width="4.2" height="4.2" fill="#f28c28"/>
<rect x="369.9" y="414.0" width="4.2" height="4.2" fill="#f28c28"/>
<rect x="376.3" y="414.0" width="4.2" height="4.2" fill="#f28c28"/>
<rect x="380.4" y="410.5" width="4.2" height="4.2" fill="#f28c28"/>
<rect x="367.0" y="419.3" width="4.2" height="4.2" fill="#f28c28"/>
<rect x="372.8" y="419.9" width="4.2" height="4.2" fill="#f28c28"/>
<rect x="376.3" y="417.0" width="4.2" height="4.2" fill="#f28c28"/>
<rect x="371.1" y="402.9" width="4.2" height="4.2" fill="#f28c28"/>
<rect x="366.4" y="410.5" width="4.2" height="4.2" fill="#f28c28"/>
<text x="340.3" y="461.9" font-size="7.4" text-anchor="middle" textLength="12.9" lengthAdjust="spacingAndGlyphs">Ctrl</text>
<text x="340.3" y="470.7" font-size="7.4" text-anchor="middle">IgG</text>
<text x="373.5" y="461.9" font-size="7.4" text-anchor="middle">C1q</text>
<text x="373.5" y="470.7" font-size="7.4" text-anchor="middle">Blk Ab</text>
<line x1="433.4" y1="366.8" x2="433.4" y2="451.9" stroke="#5e5e5e" stroke-width="0.5" />
<line x1="433.1" y1="451.6" x2="517.6" y2="451.6" stroke="#5e5e5e" stroke-width="0.5" />
<line x1="431.2" y1="367.0" x2="433.4" y2="367.0" stroke="#5e5e5e" stroke-width="0.5" />
<text x="429.4" y="369.0" font-size="5.9" text-anchor="end" fill="#222" textLength="9.2" lengthAdjust="spacingAndGlyphs">1.0</text>
<line x1="431.2" y1="409.3" x2="433.4" y2="409.3" stroke="#5e5e5e" stroke-width="0.5" />
<text x="429.4" y="411.3" font-size="5.9" text-anchor="end" fill="#222" textLength="9.2" lengthAdjust="spacingAndGlyphs">0.5</text>
<line x1="431.2" y1="451.6" x2="433.4" y2="451.6" stroke="#5e5e5e" stroke-width="0.5" />
<text x="429.4" y="453.6" font-size="5.9" text-anchor="end" fill="#222">0</text>
<line x1="433.4" y1="451.6" x2="433.4" y2="453.8" stroke="#555" stroke-width="0.55" />
<line x1="475.4" y1="451.6" x2="475.4" y2="453.8" stroke="#555" stroke-width="0.55" />
<line x1="517.4" y1="451.6" x2="517.4" y2="453.8" stroke="#555" stroke-width="0.55" />
<path d="M435.9,451.6 436.0,451.6 436.0,451.6 436.1,451.5 436.3,451.5 436.4,451.5 436.6,451.4 436.8,451.3 437.0,451.2 437.2,451.0 437.5,450.8 437.7,450.4 438.0,450.0 438.3,449.4 438.6,448.6 438.9,447.7 439.2,446.5 439.5,445.1 439.9,443.5 440.2,441.7 440.6,439.6 440.9,437.3 441.3,434.8 441.7,432.1 442.1,429.3 442.6,426.3 443.0,423.2 443.4,420.1 443.9,416.9 444.3,413.8 444.8,410.6 445.3,407.6 445.8,404.6 446.3,401.7 446.8,398.9 447.3,396.2 447.8,393.7 448.4,391.3 448.9,389.1 449.4,387.0 450.0,385.1 450.6,383.3 451.2,381.6 451.7,380.1 452.3,378.8 452.9,377.5 453.5,376.4 454.2,375.3 454.8,374.4 455.4,373.6 456.1,372.8 456.7,372.2 457.4,371.6 458.0,371.0 458.7,370.6 459.4,370.1 460.1,369.8 460.7,369.4 461.4,369.1 462.2,368.9 462.9,368.6 463.6,368.4 464.3,368.3 465.1,368.1 465.8,368.0 466.5,367.8 467.3,367.7 468.1,367.6 468.8,367.6 469.6,367.5 470.4,367.4 471.2,367.4 472.0,367.3 472.8,367.3 473.6,367.2 474.4,367.2 475.3,367.2 476.1,367.2 476.9,367.1 477.8,367.1 478.6,367.1 479.5,367.1 480.3,367.1 481.2,367.1 482.1,367.1 483.0,367.1 483.9,367.0 484.7,367.0 485.7,367.0 486.6,367.0 487.5,367.0 488.4,367.0 489.3,367.0 490.2,367.0 491.2,367.0 492.1,367.0 493.1,367.0 494.0,367.0 495.0,367.0 496.0,367.0 496.9,367.0 497.9,367.0 498.9,367.0 499.9,367.0 500.9,367.0 501.9,367.0 502.9,367.0 503.9,367.0 504.9,367.0 506.0,367.0 507.0,367.0 508.0,367.0 509.1,367.0 510.1,367.0 511.2,367.0 512.2,367.0 513.3,367.0 514.4,367.0 515.4,367.0 516.5,367.0 517.6,367.0" fill="none" stroke="#a5a5a5" stroke-width="2.4" stroke-linejoin="round"/>
<path d="M435.9,451.6 436.0,451.6 436.0,451.6 436.1,451.5 436.3,451.5 436.4,451.5 436.6,451.4 436.8,451.3 437.0,451.2 437.2,451.0 437.5,450.8 437.7,450.4 438.0,450.0 438.3,449.4 438.6,448.6 438.9,447.7 439.2,446.5 439.5,445.1 439.9,443.5 440.2,441.7 440.6,439.6 440.9,437.3 441.3,434.8 441.7,432.1 442.1,429.3 442.6,426.3 443.0,423.2 443.4,420.1 443.9,416.9 444.3,413.8 444.8,410.6 445.3,407.6 445.8,404.6 446.3,401.7 446.8,398.9 447.3,396.2 447.8,393.7 448.4,391.3 448.9,389.1 449.4,387.0 450.0,385.1 450.6,383.3 451.2,381.6 451.7,380.1 452.3,378.8 452.9,377.5 453.5,376.4 454.2,375.3 454.8,374.4 455.4,373.6 456.1,372.8 456.7,372.2 457.4,371.6 458.0,371.0 458.7,370.6 459.4,370.1 460.1,369.8 460.7,369.4 461.4,369.1 462.2,368.9 462.9,368.6 463.6,368.4 464.3,368.3 465.1,368.1 465.8,368.0 466.5,367.8 467.3,367.7 468.1,367.6 468.8,367.6 469.6,367.5 470.4,367.4 471.2,367.4 472.0,367.3 472.8,367.3 473.6,367.2 474.4,367.2 475.3,367.2 476.1,367.2 476.9,367.1 477.8,367.1 478.6,367.1 479.5,367.1 480.3,367.1 481.2,367.1 482.1,367.1 483.0,367.1 483.9,367.0 484.7,367.0 485.7,367.0 486.6,367.0 487.5,367.0 488.4,367.0 489.3,367.0 490.2,367.0 491.2,367.0 492.1,367.0 493.1,367.0 494.0,367.0 495.0,367.0 496.0,367.0 496.9,367.0 497.9,367.0 498.9,367.0 499.9,367.0 500.9,367.0 501.9,367.0 502.9,367.0 503.9,367.0 504.9,367.0 506.0,367.0 507.0,367.0 508.0,367.0 509.1,367.0 510.1,367.0 511.2,367.0 512.2,367.0 513.3,367.0 514.4,367.0 515.4,367.0 516.5,367.0 517.6,367.0" fill="none" stroke="#333" stroke-width="1.1" stroke-linejoin="round"/>
<path d="M435.9,451.6 436.0,451.6 436.0,451.6 436.1,451.6 436.3,451.5 436.4,451.5 436.6,451.4 436.8,451.4 437.0,451.2 437.2,451.1 437.5,450.8 437.7,450.5 438.0,450.0 438.3,449.4 438.6,448.6 438.9,447.6 439.2,446.4 439.5,444.9 439.9,443.2 440.2,441.2 440.6,438.9 440.9,436.4 441.3,433.7 441.7,430.8 442.1,427.7 442.6,424.5 443.0,421.2 443.4,417.8 443.9,414.4 444.3,411.1 444.8,407.8 445.3,404.6 445.8,401.5 446.3,398.5 446.8,395.7 447.3,393.0 447.8,390.5 448.4,388.2 448.9,386.0 449.4,384.0 450.0,382.2 450.6,380.5 451.2,379.0 451.7,377.6 452.3,376.4 452.9,375.3 453.5,374.3 454.2,373.4 454.8,372.6 455.4,371.9 456.1,371.3 456.7,370.7 457.4,370.3 458.0,369.8 458.7,369.5 459.4,369.1 460.1,368.9 460.7,368.6 461.4,368.4 462.2,368.2 462.9,368.0 463.6,367.9 464.3,367.8 465.1,367.7 465.8,367.6 466.5,367.5 467.3,367.4 468.1,367.4 468.8,367.3 469.6,367.3 470.4,367.2 471.2,367.2 472.0,367.2 472.8,367.1 473.6,367.1 474.4,367.1 475.3,367.1 476.1,367.1 476.9,367.1 477.8,367.1 478.6,367.0 479.5,367.0 480.3,367.0 481.2,367.0 482.1,367.0 483.0,367.0 483.9,367.0 484.7,367.0 485.7,367.0 486.6,367.0 487.5,367.0 488.4,367.0 489.3,367.0 490.2,367.0 491.2,367.0 492.1,367.0 493.1,367.0 494.0,367.0 495.0,367.0 496.0,367.0 496.9,367.0 497.9,367.0 498.9,367.0 499.9,367.0 500.9,367.0 501.9,367.0 502.9,367.0 503.9,367.0 504.9,367.0 506.0,367.0 507.0,367.0 508.0,367.0 509.1,367.0 510.1,367.0 511.2,367.0 512.2,367.0 513.3,367.0 514.4,367.0 515.4,367.0 516.5,367.0 517.6,367.0" fill="none" stroke="#ee8a45" stroke-width="1.25" stroke-linejoin="round"/>
<text transform="translate(414.8 410.9) rotate(-90)" font-size="6.4" text-anchor="middle" textLength="13.5" lengthAdjust="spacingAndGlyphs">CDF</text>
<text x="433.4" y="462.2" font-size="5.9" text-anchor="middle" fill="#222">0</text>
<text x="475.4" y="462.2" font-size="5.9" text-anchor="middle" fill="#222" textLength="7.3" lengthAdjust="spacingAndGlyphs">50</text>
<text x="517.6" y="462.2" font-size="5.9" text-anchor="middle" fill="#222" textLength="11.0" lengthAdjust="spacingAndGlyphs">100</text>
<text x="474.9" y="472.9" font-size="6.6" text-anchor="middle" textLength="52.5" lengthAdjust="spacingAndGlyphs">Amplitude (pA)</text>
<text x="458.5" y="407.6" font-size="6.4" textLength="37.0" lengthAdjust="spacingAndGlyphs"><tspan font-style="italic">P</tspan> = 0.0786</text>
<text x="477.9" y="438.6" font-size="7" textLength="40.7" lengthAdjust="spacingAndGlyphs">Control IgG</text>
<text x="477.9" y="448.2" font-size="7" fill="#f0903a" textLength="36.4" lengthAdjust="spacingAndGlyphs">C1q Blk Ab</text>
<text x="2.5" y="493.5" font-size="12.6" font-weight="bold" fill="#000" stroke="#000" stroke-width="0.45">g</text>
<text x="10.8" y="524.3" font-size="6.7" textLength="21.2" lengthAdjust="spacingAndGlyphs">zQ175</text>
<text x="99.7" y="524.3" font-size="6.7" textLength="27.3" lengthAdjust="spacingAndGlyphs">CR3 KO</text>
<g transform="translate(0 0)" fill="#3c3c3c" stroke="none">
<path d="M1.6 540.8 C3.2 539 5.6 537.6 7.9 536.8 C9 535.6 10.4 534.5 11.8 534.4 C13 534.4 13.6 535.3 13.8 536.3 C15.8 536.2 17.8 536.4 19.7 536.5 C22 536.3 24.2 536.4 26.3 536.8 C28.8 537.4 31 538.3 32.9 539.5 C34.8 540.8 36.3 542.4 37.5 544.1 C38.2 545 38.6 545.9 38.8 546.7 C38.7 547.8 38.2 548.6 37.5 549.3 C36.8 550 35.8 550.4 34.8 550.7 C33.4 551.4 31.8 552 30.2 552.3 C29.4 552.5 28.5 552.4 28.3 551.9 C28.4 551.3 29 550.9 29.6 550.6 C27.6 550.4 25.7 550.2 23.7 550.1 C21.5 550.3 19.3 550.4 17.1 550.2 C16 550 14.8 549.7 13.8 549.3 C13.5 549.8 13 550.3 12.5 550.6 C11.3 551.2 9.9 551.7 8.5 551.8 C7.7 551.8 7.2 551.5 7.2 551 C8.2 550.2 9.4 549.7 10.5 549.2 C10.4 548.3 10.2 547.5 9.9 546.7 C8.3 546.3 6.7 545.6 5.3 544.7 C4 544 2.8 543.2 2 542.1 C1.7 541.7 1.5 541.2 1.6 540.8Z"/>
<path d="M37.5 546.2 C42 545.6 50 545.5 55.2 546 C58 546.4 60.2 547 61.8 548 C63.4 549 64.5 549.8 64.7 550.8 C64.8 551.8 64.2 552.6 63.7 553.3" fill="none" stroke="#3c3c3c" stroke-width="0.85" stroke-linecap="round"/>
<path d="M37.5 546.4 C42 545.9 48 545.8 53 546.1" fill="none" stroke="#3c3c3c" stroke-width="1.5" stroke-linecap="round"/>
</g>
<g transform="translate(87.4 0)" fill="#8f8f8f" stroke="none">
<path d="M1.6 540.8 C3.2 539 5.6 537.6 7.9 536.8 C9 535.6 10.4 534.5 11.8 534.4 C13 534.4 13.6 535.3 13.8 536.3 C15.8 536.2 17.8 536.4 19.7 536.5 C22 536.3 24.2 536.4 26.3 536.8 C28.8 537.4 31 538.3 32.9 539.5 C34.8 540.8 36.3 542.4 37.5 544.1 C38.2 545 38.6 545.9 38.8 546.7 C38.7 547.8 38.2 548.6 37.5 549.3 C36.8 550 35.8 550.4 34.8 550.7 C33.4 551.4 31.8 552 30.2 552.3 C29.4 552.5 28.5 552.4 28.3 551.9 C28.4 551.3 29 550.9 29.6 550.6 C27.6 550.4 25.7 550.2 23.7 550.1 C21.5 550.3 19.3 550.4 17.1 550.2 C16 550 14.8 549.7 13.8 549.3 C13.5 549.8 13 550.3 12.5 550.6 C11.3 551.2 9.9 551.7 8.5 551.8 C7.7 551.8 7.2 551.5 7.2 551 C8.2 550.2 9.4 549.7 10.5 549.2 C10.4 548.3 10.2 547.5 9.9 546.7 C8.3 546.3 6.7 545.6 5.3 544.7 C4 544 2.8 543.2 2 542.1 C1.7 541.7 1.5 541.2 1.6 540.8Z"/>
<path d="M37.5 546.2 C42 545.6 50 545.5 55.2 546 C58 546.4 60.2 547 61.8 548 C63.4 549 64.5 549.8 64.7 550.8 C64.8 551.8 64.2 552.6 63.7 553.3" fill="none" stroke="#8f8f8f" stroke-width="0.85" stroke-linecap="round"/>
<path d="M37.5 546.4 C42 545.9 48 545.8 53 546.1" fill="none" stroke="#8f8f8f" stroke-width="1.5" stroke-linecap="round"/>
</g>
<path d="M72.0 543.3 L80.6 554.6 M80.6 543.3 L72.0 554.6" stroke="#111" stroke-width="1.25" fill="none"/>
<text x="153.3" y="494.3" font-size="12.6" font-weight="bold" fill="#000" stroke="#000" stroke-width="0.45">h</text>
<text x="230.0" y="494.3" font-size="6.9" text-anchor="middle" textLength="50.2" lengthAdjust="spacingAndGlyphs">zQ175 CR3 WT</text>
<text x="384.0" y="494.9" font-size="6.9" text-anchor="middle" textLength="49.8" lengthAdjust="spacingAndGlyphs">zQ175 CR3 KO</text>
<clipPath id="cf1"><rect x="165.0" y="498.9" width="133.2" height="100.5"/></clipPath>
<rect x="165.0" y="498.9" width="133.2" height="100.5" fill="#000" />
<g clip-path="url(#cf1)">
<path d="M197.0 553.6h0M245.3 561.7h0M196.5 598.5h0M276.1 546.8h0M185.4 562.6h0M234.7 573.2h0M205.3 502.5h0M228.0 570.9h0M259.9 591.0h0M271.4 543.6h0M248.3 529.4h0M216.5 534.3h0M242.7 589.4h0M241.3 527.8h0M278.4 597.9h0M271.3 540.2h0M204.4 575.9h0M171.3 560.5h0M260.5 532.3h0M295.1 549.7h0M206.4 507.1h0M169.6 519.0h0M246.2 514.9h0M280.2 530.6h0M284.0 537.0h0M234.3 563.5h0M239.4 561.1h0M232.5 542.3h0M196.9 529.4h0M234.4 554.0h0M220.4 557.1h0M246.9 562.3h0M248.4 545.8h0M212.1 569.7h0M168.4 505.4h0M292.8 524.4h0M243.9 531.2h0M206.8 536.1h0M205.2 536.9h0M169.1 556.0h0M206.5 521.5h0M197.1 518.0h0M209.6 582.3h0M251.5 587.4h0M195.2 511.4h0M189.8 527.1h0M250.4 579.6h0M182.6 528.4h0M201.3 533.9h0M221.0 540.1h0M186.1 499.9h0M291.1 591.7h0M264.1 582.7h0M234.1 528.2h0M195.6 506.2h0M203.4 580.0h0M285.0 568.4h0M205.1 565.4h0M220.2 592.8h0M210.6 524.5h0M228.6 577.2h0M191.6 552.6h0M272.1 581.3h0M248.6 585.2h0M201.4 526.1h0M221.4 546.5h0M165.7 504.9h0M182.0 506.2h0M207.3 530.7h0M251.0 557.8h0M190.8 532.1h0M238.9 570.6h0M176.1 517.2h0M245.4 577.3h0M271.4 561.4h0M214.7 548.8h0M221.1 568.5h0M197.9 552.7h0M175.0 541.7h0M284.2 578.1h0M226.9 511.7h0M253.1 587.7h0M253.8 572.4h0M179.1 557.9h0M184.5 576.4h0M177.6 509.3h0M189.2 501.7h0M233.1 570.6h0M264.5 592.4h0M208.4 555.5h0M197.5 517.3h0M246.9 574.4h0M214.1 538.9h0M220.8 507.7h0M294.1 540.5h0M186.7 568.1h0M254.6 550.9h0M250.5 588.7h0M233.9 543.5h0M190.1 526.0h0M242.9 530.7h0M256.9 594.3h0M258.7 540.5h0M242.8 526.0h0M168.6 547.1h0M188.3 535.3h0M228.9 559.0h0M229.1 571.1h0M218.4 572.4h0M227.3 522.2h0M260.4 566.6h0M199.7 518.0h0M279.0 588.9h0M279.9 530.6h0M261.9 507.9h0M275.7 528.4h0M242.2 566.6h0M209.8 542.8h0M193.3 557.6h0M217.2 553.6h0M201.8 565.6h0M282.8 589.8h0M289.9 536.6h0M265.6 528.8h0M252.0 579.6h0M265.2 595.1h0M212.1 570.9h0M184.2 532.4h0M244.5 554.6h0M226.0 530.5h0M237.3 573.0h0M200.6 537.5h0M171.1 549.6h0M267.1 534.6h0M218.8 553.3h0M212.2 583.7h0M201.3 509.3h0M268.5 571.8h0M190.5 540.9h0M273.3 573.9h0M184.9 539.0h0M235.2 556.0h0M198.6 577.2h0M216.2 554.4h0M249.3 596.6h0M205.1 585.0h0M245.0 571.7h0M267.4 565.3h0M234.7 545.2h0M250.9 543.6h0M292.3 588.2h0M270.3 561.4h0M213.1 522.6h0M236.7 591.9h0M280.6 568.5h0M279.0 559.2h0M260.1 573.0h0M223.3 574.7h0M179.9 503.6h0M192.0 515.4h0M257.9 552.9h0M251.3 529.7h0M265.6 539.3h0M284.4 571.0h0M214.5 552.1h0M195.1 499.7h0M191.3 520.2h0M218.9 516.1h0M180.1 516.1h0M173.4 501.6h0" stroke="#6e0e13" stroke-width="0.9" stroke-linecap="round" fill="none" opacity="1"/>
<path d="M219.4 569.4h0M218.8 538.9h0M293.1 521.2h0M228.2 515.8h0M211.3 511.7h0M261.7 526.8h0M227.0 592.2h0M198.5 525.8h0M248.7 533.7h0M255.7 595.8h0M166.0 502.4h0M188.0 503.0h0M252.0 589.0h0M294.2 546.8h0M286.8 592.9h0M205.8 559.8h0M177.1 528.6h0M180.7 538.2h0M255.4 591.8h0M263.3 572.4h0M238.7 591.3h0M220.3 522.2h0M229.0 526.2h0M260.8 559.7h0M216.6 547.9h0M265.8 566.8h0M196.9 583.3h0M284.1 572.3h0M214.4 506.6h0M291.8 509.8h0M180.1 507.4h0M197.3 504.3h0M250.7 557.7h0M195.9 595.6h0M239.9 541.2h0M245.4 577.9h0M190.4 517.1h0M274.6 510.6h0M293.3 519.2h0M176.8 545.7h0M275.2 560.6h0M266.2 586.1h0M245.2 543.7h0M275.9 558.5h0M192.7 553.0h0M229.6 506.5h0M262.7 541.5h0M297.1 532.8h0M176.6 521.1h0M288.6 571.7h0M295.9 560.3h0M236.3 541.1h0M267.8 539.9h0M287.2 528.5h0M189.9 508.9h0M204.4 551.1h0M222.7 533.7h0M264.2 528.0h0M205.1 540.3h0M214.8 515.5h0M226.7 551.7h0M213.1 584.2h0M226.7 587.6h0M204.8 523.5h0M166.8 512.5h0M236.3 515.9h0M295.0 577.6h0M170.1 517.8h0M222.7 533.1h0M198.2 579.2h0M199.9 503.8h0M248.5 566.6h0M265.7 578.0h0M275.4 554.3h0M187.8 501.1h0M253.5 591.8h0M245.2 540.6h0M188.1 517.6h0M296.7 553.8h0M212.0 544.7h0M225.3 594.8h0M207.1 551.3h0M238.2 547.9h0M259.3 590.1h0M253.9 536.3h0M216.2 581.8h0M201.3 593.9h0M207.5 538.5h0M182.9 524.3h0M176.0 522.3h0M176.0 551.8h0M276.3 562.2h0M166.2 527.5h0M174.7 526.0h0M200.9 553.7h0M196.7 594.7h0M285.2 517.1h0M254.7 563.8h0M216.1 510.1h0M296.0 527.3h0M184.7 512.0h0M286.5 507.1h0M198.0 534.7h0M229.6 569.4h0M168.3 533.8h0M268.9 556.0h0M236.6 543.4h0M288.8 583.8h0M292.9 583.0h0M200.7 519.5h0M294.8 540.1h0M180.6 500.8h0M234.9 575.6h0M236.9 543.3h0M244.9 531.6h0M214.9 531.1h0M245.0 597.0h0M279.5 582.5h0M294.6 526.2h0M231.7 572.3h0M250.8 527.5h0M225.4 546.9h0M223.9 560.9h0M221.7 583.7h0M295.2 535.9h0M238.0 587.3h0M280.2 570.2h0M205.2 549.7h0M214.8 564.2h0M214.5 560.6h0M176.3 531.3h0M169.4 553.0h0M236.1 572.8h0M215.5 546.7h0M203.4 518.3h0M244.7 507.8h0M211.9 500.1h0M189.8 526.7h0M233.1 542.4h0M252.7 542.8h0M294.9 568.2h0M223.9 574.4h0M174.2 500.3h0M221.3 588.4h0M209.3 541.1h0M177.2 563.2h0M289.1 551.5h0M176.8 522.5h0M278.8 553.0h0M295.3 565.2h0M192.3 529.1h0M183.1 552.3h0M212.4 575.9h0M278.9 572.8h0M173.4 542.5h0M274.3 592.7h0M286.3 538.9h0M190.2 503.2h0M216.3 584.1h0M173.0 539.3h0M189.0 524.3h0M257.3 533.3h0M194.6 543.4h0M198.0 569.0h0M254.2 560.0h0M264.8 538.6h0M244.5 561.9h0M230.3 557.0h0M284.3 567.6h0M297.1 547.5h0" stroke="#186a18" stroke-width="0.8" stroke-linecap="round" fill="none" opacity="1"/>
<path d="M260.3 533.1h0M278.0 546.9h0M279.6 543.8h0M242.5 581.4h0M205.5 588.2h0M237.1 597.7h0M264.4 528.4h0M255.2 572.5h0M228.8 555.8h0M257.7 555.4h0M180.0 554.5h0M191.4 540.0h0M179.6 504.9h0M192.1 549.7h0M178.8 552.9h0M280.3 550.7h0M174.2 526.9h0M290.0 511.1h0M228.5 542.6h0M292.7 517.9h0M295.8 578.1h0M294.3 531.9h0M187.3 565.8h0M232.8 536.5h0M264.0 549.6h0M222.0 579.4h0M237.4 557.7h0M171.7 516.3h0M214.7 503.7h0M264.1 591.0h0M229.6 572.9h0M237.4 565.9h0M186.8 513.0h0M282.4 513.1h0M225.8 598.3h0M200.3 569.1h0M202.7 568.9h0M169.8 551.0h0M293.9 509.5h0M216.9 579.5h0M253.7 531.9h0M225.3 579.0h0M195.9 540.8h0M207.2 556.4h0M244.5 528.3h0M169.0 533.1h0M240.7 525.8h0M245.0 565.3h0M234.5 541.8h0M247.9 543.0h0M297.6 516.1h0M297.6 511.5h0M228.9 524.0h0M220.3 500.6h0M285.2 504.2h0M205.8 546.4h0M205.8 512.6h0M177.2 595.3h0M293.0 518.5h0M264.0 552.2h0M232.7 562.1h0M254.6 550.4h0M166.3 506.2h0M287.9 541.4h0M239.6 538.3h0M263.1 525.1h0M199.4 535.0h0M263.8 594.6h0M192.3 532.9h0M197.2 557.6h0M197.4 517.5h0M189.1 549.3h0M282.3 555.6h0M222.5 503.4h0M264.8 535.6h0M201.5 521.2h0M191.5 559.7h0M228.7 537.1h0M222.7 519.3h0M250.9 570.6h0M259.8 596.9h0M268.2 588.9h0M244.1 593.6h0M184.7 520.8h0M221.3 530.8h0M288.2 524.7h0M291.0 530.9h0M294.5 527.4h0M289.5 522.2h0M209.5 529.6h0M237.2 555.1h0M232.6 529.1h0M289.0 574.3h0M174.9 524.3h0M286.4 554.9h0M222.0 505.0h0M200.6 528.1h0M218.2 533.7h0M243.9 524.4h0M210.9 516.3h0M180.5 530.9h0M219.3 532.7h0M229.8 576.9h0M267.0 547.4h0M216.1 550.7h0M215.1 535.4h0M166.9 553.6h0M231.0 544.3h0M270.6 525.3h0M237.0 582.9h0M281.4 596.9h0M215.6 510.0h0M225.2 573.4h0M297.6 566.7h0M177.5 507.9h0M202.6 565.3h0M193.4 570.6h0M233.0 592.7h0M258.7 573.4h0M266.8 568.9h0M190.9 552.8h0M194.2 557.8h0M277.5 543.7h0M271.2 584.9h0M196.5 515.8h0M223.4 538.2h0M257.8 531.0h0M266.8 576.7h0M244.1 539.7h0M222.4 520.9h0M211.9 559.2h0M290.7 564.1h0M252.8 559.3h0M231.0 551.4h0M204.9 583.9h0M229.6 543.5h0M192.3 525.5h0M239.7 556.8h0M189.0 519.3h0M225.7 555.7h0M252.7 580.3h0M165.7 543.1h0M204.3 561.6h0M231.1 584.9h0M210.9 505.8h0M213.6 552.8h0M166.4 503.2h0M197.0 570.1h0M297.3 513.5h0M198.4 585.2h0M247.2 596.4h0M205.9 511.7h0M217.9 586.7h0M256.3 583.5h0M200.6 536.1h0M254.1 586.9h0M288.3 568.6h0M232.6 573.9h0M214.4 534.8h0M195.7 587.3h0M251.3 547.7h0M240.9 546.6h0M282.4 557.8h0M217.3 519.9h0M274.7 534.9h0M285.1 565.3h0M239.6 542.7h0M233.8 527.8h0M282.5 574.9h0M234.7 536.5h0M224.8 564.0h0M295.4 510.5h0M290.5 564.8h0M247.9 557.5h0M199.6 592.1h0M228.0 574.5h0M266.5 575.0h0M230.0 505.3h0M282.8 561.5h0M273.2 534.8h0M218.5 507.1h0M174.9 524.6h0M180.7 553.5h0M243.5 534.0h0M274.6 557.0h0M208.1 539.9h0M294.0 499.6h0M195.3 578.3h0M294.7 544.7h0M220.4 521.5h0M258.5 555.2h0M177.0 534.3h0M250.7 527.0h0M274.2 534.6h0M188.3 561.8h0M281.2 568.8h0M221.8 501.8h0M198.5 545.3h0M293.8 556.8h0M292.2 526.0h0" stroke="#cf1e28" stroke-width="1.15" stroke-linecap="round" fill="none" opacity="1"/>
<path d="M219.5 559.3l0.5 0.1M196.5 541.1l-0.6 0.3M177.2 591.8l0.5 0.8M293.7 523.0l-0.1 0.8M257.9 528.5l-0.8 0.1M174.5 525.2l0.1 1.3M202.7 570.0l0.4 0.4M249.0 584.4l-0.7 0.4M260.0 537.6l-1.2 0.4M186.1 553.8l0.3 0.7M263.3 531.3l1.3 0.4M237.7 561.9l0.1 0.8M199.4 567.9l0.6 0.3M254.3 595.4l-0.5 0.2M292.6 560.5l-0.2 1.1M235.1 574.3l-0.1 1.0M191.3 550.9l0.2 0.6M226.8 565.1l-1.2 0.7M270.6 580.2l-0.1 0.7M258.5 561.8l-0.6 0.2M165.8 516.6l0.9 0.6M214.7 569.6l-0.9 0.5M218.1 543.0l1.4 0.5M295.7 552.5l0.7 0.4M205.6 570.2l-1.3 0.0M263.8 586.9l-0.3 0.3M293.3 560.1l-0.8 0.4M226.9 509.0l1.3 0.0M276.3 570.2l-0.4 0.1M187.0 510.2l0.2 1.4M231.0 570.1l0.4 0.6M263.0 557.5l-0.7 0.6M190.3 503.6l-1.3 0.0M234.2 560.3l-1.1 0.5M288.4 577.4l0.9 0.7M179.4 517.1l-0.2 0.9M188.8 536.5l-0.2 0.7M212.1 564.4l1.1 0.8M270.3 561.9l0.2 0.5M206.4 563.1l-1.0 0.1M243.1 548.2l-0.4 0.7M170.2 524.5l0.7 0.3M174.7 562.1l-0.6 0.4M277.8 529.5l-0.7 0.2M185.7 574.8l-0.6 0.2" stroke="#dc222c" stroke-width="1.5" stroke-linecap="round" fill="none"/>
<path d="M223.6 513.4l0.1 0.9M222.8 510.7l-0.2 0.9M223.5 512.5l-0.7 0.8M223.8 511.8l-0.6 0.7M193.9 529.0l-0.1 0.5M193.5 528.9l-0.9 0.0M195.0 529.5l-1.1 0.2M192.5 528.7l0.1 0.6M296.7 511.7l-0.4 0.1M298.0 509.7l1.2 0.4M298.6 511.1l-0.6 1.3M297.5 510.7l-0.6 1.1M167.1 542.2l-0.1 0.9M167.3 544.2l-0.9 0.5M167.9 543.7l1.0 0.7M202.1 529.1l-1.1 0.3M202.6 527.4l-0.7 0.3M177.0 500.9l0.2 1.1M176.1 501.0l0.5 0.6M177.9 550.8l-0.3 0.1M175.7 551.2l0.1 0.8M202.4 559.8l-1.1 0.6M200.7 561.7l0.2 1.3M201.8 560.6l-0.6 0.4M201.2 562.4l-0.4 0.8M172.2 522.3l-1.3 0.3M171.8 524.1l-0.6 0.1M173.9 522.6l-0.7 0.5M172.9 522.1l-0.5 0.9M198.4 589.4l-0.4 0.1M198.4 589.0l0.8 0.1M200.3 590.9l-0.6 0.9M195.8 507.9l-1.0 0.9M194.6 505.7l0.2 0.3M224.5 594.4l-1.0 0.2M224.3 596.1l-0.8 1.0M225.3 594.8l-0.1 0.7M194.0 523.9l-0.3 0.2M194.9 522.9l-0.3 0.7M194.4 522.8l0.4 0.4M194.3 523.3l0.6 0.3M245.8 568.6l0.9 0.2M246.1 566.6l-0.8 0.8M245.6 566.4l-1.1 0.2M246.7 568.3l-0.1 0.7M167.5 543.2l-0.5 0.0M169.1 544.0l-0.3 0.6M167.9 543.6l-1.2 0.3M168.4 543.7l-0.6 0.4M214.7 508.2l1.1 0.0M215.9 507.7l0.6 0.1M199.3 575.1l0.4 0.5M198.7 575.0l-1.0 0.1M204.5 583.1l0.2 0.5M205.0 581.3l-0.8 1.1M202.7 581.4l-0.1 0.4M203.0 582.7l0.0 0.6M175.9 526.3l-1.3 0.5M177.6 527.5l-0.2 1.1M177.7 528.3l0.7 1.0M178.1 527.5l0.5 0.0M223.7 589.4l-0.3 0.7M222.5 589.2l0.4 0.6M221.3 588.8l0.8 0.0M223.3 590.9l-0.2 0.7" stroke="#de232d" stroke-width="1.6" stroke-linecap="round" fill="none"/>
<path d="M217.7 503.2h0M241.6 588.9h0M245.7 573.4h0M292.9 587.2h0M283.8 526.2h0M245.0 539.0h0M291.0 565.6h0M254.5 544.8h0M219.2 538.4h0M291.6 501.6h0M292.9 513.3h0M295.5 558.0h0M182.0 563.9h0M273.3 560.6h0M237.7 538.5h0M264.5 525.2h0M297.4 528.9h0M230.5 552.0h0M245.3 591.3h0M197.1 561.1h0M277.7 516.2h0M202.7 595.0h0M289.9 597.5h0M260.9 593.0h0M240.5 532.8h0M247.5 536.9h0M218.2 580.0h0M187.6 513.6h0M196.5 597.9h0M295.4 543.5h0M205.0 559.0h0M226.1 575.9h0M218.4 541.9h0M232.2 551.8h0M192.2 557.6h0M219.0 532.2h0M273.2 550.6h0M283.6 541.4h0M207.5 522.2h0M250.7 535.1h0M186.0 504.3h0M199.4 590.5h0M194.1 561.8h0M278.0 571.4h0M206.1 578.5h0M168.3 538.1h0M232.4 567.4h0M212.5 555.6h0M214.3 565.9h0M251.2 537.2h0M285.3 503.3h0M262.8 569.4h0M297.4 506.8h0M296.8 528.6h0M266.0 529.9h0M244.8 527.6h0M271.4 596.1h0M260.1 581.7h0M243.5 528.9h0M292.1 515.6h0M279.6 539.7h0M292.7 533.1h0M220.4 595.8h0M266.5 551.9h0M244.7 528.4h0M278.6 553.0h0M288.7 542.0h0M275.5 568.6h0M168.4 512.9h0M223.2 553.6h0M297.3 534.5h0M226.4 573.6h0M177.9 562.6h0M201.3 568.1h0M178.2 515.8h0M207.8 509.1h0M191.4 569.1h0M273.5 540.5h0M236.3 598.5h0M171.5 555.8h0M253.9 523.6h0M254.1 577.8h0M254.8 597.8h0M243.4 579.0h0M240.3 574.0h0M232.5 560.9h0M277.7 529.5h0M214.3 512.5h0M240.1 543.0h0M222.2 501.8h0M238.6 559.6h0M243.1 584.3h0M255.0 587.0h0M232.2 558.7h0M250.6 583.5h0M232.9 580.2h0M221.0 549.7h0M199.6 550.4h0M286.9 538.8h0M180.9 521.2h0M169.4 506.6h0M255.3 549.7h0M224.1 508.2h0M170.9 506.5h0M169.7 517.2h0M212.8 568.3h0M218.4 507.3h0M211.9 552.4h0M231.6 541.9h0M224.3 564.6h0M212.7 554.9h0M280.0 545.1h0M204.8 529.2h0M282.5 573.4h0M222.6 507.9h0M224.7 508.8h0M225.7 579.5h0M203.4 501.8h0M255.5 536.2h0M295.4 502.3h0M209.3 562.9h0M277.1 531.3h0M252.5 547.3h0M192.8 564.4h0M287.3 519.7h0M226.5 512.9h0M264.8 554.8h0M289.3 558.8h0M293.6 550.0h0M295.2 523.5h0M258.1 559.1h0M222.9 573.4h0M222.4 561.3h0M254.5 546.1h0M229.0 548.1h0M190.6 554.5h0M267.2 577.6h0M286.7 524.3h0M219.6 511.0h0M261.7 539.0h0M294.2 499.6h0M191.6 534.9h0M165.6 506.0h0M272.3 526.7h0M231.0 535.0h0M273.4 531.0h0M275.3 566.4h0M205.3 568.3h0M256.9 594.1h0M214.4 563.8h0M279.6 575.7h0M181.9 512.2h0M220.3 511.5h0M285.7 564.1h0M287.6 564.9h0M292.6 561.4h0M254.9 566.8h0M276.0 504.3h0M169.5 565.6h0M258.6 555.9h0M207.3 503.7h0M205.5 501.8h0M203.0 541.0h0M277.7 575.5h0M212.3 511.6h0M293.8 500.0h0M297.3 566.9h0M225.4 516.2h0M290.8 578.8h0M171.7 539.8h0M173.1 529.0h0M221.1 509.1h0M203.3 566.3h0M184.3 523.8h0M199.5 538.6h0M181.6 527.1h0M218.2 583.8h0M230.8 505.7h0M206.1 554.6h0M221.2 547.5h0M265.8 578.6h0M254.7 553.3h0M191.7 563.5h0M234.9 559.4h0M282.4 571.7h0M267.5 536.8h0M219.2 560.0h0M225.2 540.0h0M282.0 537.8h0M223.4 550.9h0M275.5 548.4h0M241.5 549.5h0M289.9 541.9h0M287.2 525.5h0M201.8 596.8h0M242.3 547.0h0M297.1 578.8h0M228.5 561.3h0M191.9 553.7h0M214.7 585.0h0M206.6 573.9h0M279.5 531.5h0M223.7 528.9h0M219.3 564.8h0M241.2 570.1h0M206.1 573.4h0M247.3 534.0h0M196.2 528.0h0M213.4 509.3h0M226.3 529.8h0M291.7 569.0h0M197.2 553.0h0M244.1 525.3h0M261.6 583.0h0M212.4 530.6h0M238.3 580.1h0M218.5 587.3h0M257.4 580.4h0M185.4 534.7h0M171.5 560.4h0M226.8 550.2h0M205.8 582.9h0M249.9 545.9h0M288.2 572.8h0M201.1 518.2h0M229.1 530.6h0M185.4 536.4h0M252.7 560.2h0M277.7 598.6h0M279.9 529.1h0" stroke="#31c631" stroke-width="1.15" stroke-linecap="round" fill="none" opacity="1"/>
<path d="M229.4 561.4h0M211.6 598.9h0M271.4 555.5h0M286.5 560.1h0M252.1 586.1h0M279.8 531.2h0M220.7 523.8h0M294.4 546.4h0M278.0 514.5h0M224.0 539.7h0M242.3 524.2h0M225.8 507.8h0M175.6 500.6h0M213.9 593.9h0M258.9 593.7h0M254.0 596.4h0M221.8 506.6h0M212.8 548.8h0M288.7 553.9h0M223.0 597.7h0M193.3 501.5h0M205.3 576.7h0M292.3 587.2h0M238.7 551.1h0M231.5 570.9h0M251.2 579.5h0M270.4 586.5h0M195.2 513.3h0M261.0 528.6h0M271.2 555.5h0M246.8 594.1h0M264.0 537.5h0M296.5 520.6h0M188.5 542.5h0M276.8 571.3h0M210.0 553.2h0M280.7 538.1h0M183.4 547.4h0M228.6 577.1h0M216.8 514.7h0M289.8 541.8h0M285.8 520.1h0M168.8 517.2h0M254.3 537.8h0M280.5 540.1h0M216.1 584.5h0M277.1 539.0h0M218.3 583.0h0M226.9 576.8h0M190.3 504.3h0M174.4 539.6h0M169.3 548.7h0M225.9 529.0h0M244.0 557.1h0M203.1 562.7h0" stroke="#4bd941" stroke-width="1.5" stroke-linecap="round" fill="none" opacity="1"/>
</g>
<rect x="167.0" y="594.9" width="20.0" height="3.1" fill="#fff" />
<text x="295.2" y="587.9" font-size="6.8" text-anchor="end" fill="#e3242e" textLength="23.3" lengthAdjust="spacingAndGlyphs">Homer</text>
<text x="295.2" y="597.2" font-size="6.8" text-anchor="end" fill="#4a9a2a" textLength="26.6" lengthAdjust="spacingAndGlyphs">VGLUT1</text>
<clipPath id="cf2"><rect x="313.8" y="498.9" width="133.2" height="100.5"/></clipPath>
<rect x="313.8" y="498.9" width="133.2" height="100.5" fill="#000" />
<g clip-path="url(#cf2)">
<path d="M344.3 595.1h0M331.0 569.5h0M325.6 524.0h0M446.4 520.2h0M399.2 545.1h0M374.2 548.7h0M339.7 582.0h0M326.1 522.7h0M316.9 525.9h0M368.2 589.2h0M364.4 510.7h0M348.5 598.1h0M322.6 561.1h0M364.2 565.2h0M359.0 568.2h0M380.1 564.0h0M433.5 557.3h0M333.1 505.8h0M439.4 548.0h0M339.9 593.5h0M390.8 571.9h0M430.8 527.8h0M361.5 586.8h0M332.1 575.4h0M327.2 568.1h0M407.1 593.9h0M425.8 549.5h0M340.4 514.3h0M384.2 550.1h0M323.7 589.3h0M381.4 569.2h0M343.4 523.7h0M315.9 533.6h0M349.6 541.5h0M364.1 582.4h0M432.2 516.8h0M366.7 515.9h0M402.0 596.4h0M341.0 575.7h0M354.0 500.7h0M415.3 533.4h0M336.8 542.7h0M344.9 540.2h0M373.3 541.0h0M392.1 528.1h0M326.9 507.9h0M328.4 551.2h0M361.9 579.8h0M381.1 569.9h0M443.9 505.7h0M316.5 513.4h0M365.4 556.5h0M412.6 534.4h0M441.9 499.7h0M424.8 520.3h0M430.0 502.7h0M441.9 575.0h0M445.2 557.1h0M337.8 595.9h0M372.7 507.7h0M394.3 548.9h0M376.9 514.8h0M330.4 557.2h0M374.1 512.0h0M372.4 571.6h0M408.9 546.3h0M366.4 535.3h0M344.1 519.1h0M373.3 510.2h0M410.2 569.9h0M395.1 501.7h0M362.4 542.4h0M326.6 595.7h0M414.2 549.4h0M407.5 519.4h0M344.6 551.7h0M412.7 563.8h0M315.2 560.4h0M434.5 573.4h0M436.9 597.1h0M343.9 528.9h0M386.7 596.6h0M363.1 593.1h0M426.7 550.8h0M396.9 594.6h0M417.8 528.8h0M426.1 518.9h0M363.2 594.8h0M426.3 530.4h0M352.7 560.4h0M425.7 567.5h0M438.0 571.8h0M422.8 559.6h0M362.2 541.9h0M379.1 552.0h0M425.1 526.2h0M323.4 572.3h0M350.1 541.2h0M329.8 581.9h0M350.5 528.4h0M420.6 549.6h0M351.0 587.8h0M368.7 535.4h0M441.9 578.0h0M413.1 524.3h0M421.8 558.8h0M424.0 536.0h0M417.5 578.3h0M365.6 564.5h0M417.4 598.2h0M436.0 577.6h0M332.4 560.1h0M404.9 508.1h0M375.5 585.8h0M434.0 591.5h0M326.6 559.8h0M428.7 564.3h0M356.6 503.3h0M435.9 584.9h0M400.7 535.8h0M423.8 580.5h0M410.1 559.1h0M356.5 528.9h0M361.6 531.9h0M383.1 510.7h0M409.7 534.0h0M335.4 524.8h0M365.8 542.3h0M417.7 509.3h0M343.7 528.6h0M337.7 574.0h0M328.7 504.5h0M387.8 572.6h0M423.4 555.1h0M357.5 587.1h0M411.6 547.0h0M388.7 592.5h0M446.2 592.1h0M331.8 531.9h0M368.2 516.2h0M415.0 505.5h0M431.6 557.7h0M395.4 540.7h0M438.1 556.9h0M432.8 591.2h0M405.8 597.2h0M379.0 535.9h0M425.9 551.9h0M355.1 567.1h0M377.2 512.1h0M425.1 549.1h0M442.7 552.5h0M438.2 528.2h0M343.1 551.8h0M415.7 581.5h0M399.9 511.8h0M366.4 502.9h0M363.4 593.4h0M360.2 568.9h0M396.5 513.7h0M405.3 507.3h0M338.7 557.1h0M331.1 595.4h0M370.6 562.1h0M441.9 510.2h0M446.4 503.3h0M393.8 564.7h0M444.6 535.0h0M439.5 564.1h0M377.3 516.3h0M345.5 535.7h0M360.1 536.4h0M421.1 536.7h0M397.4 503.2h0M332.9 570.0h0M432.0 530.6h0M318.6 522.5h0M362.0 535.9h0M388.5 529.4h0M399.8 577.6h0M417.8 573.2h0M391.5 525.3h0M425.5 528.2h0M428.0 543.9h0M397.5 549.1h0M400.7 533.3h0M390.8 572.7h0M362.1 559.1h0M374.6 546.2h0M365.0 553.8h0M408.1 516.7h0M333.6 581.3h0M326.0 578.3h0M414.7 521.1h0M398.4 524.6h0M430.9 519.0h0M329.6 503.0h0M409.3 520.5h0M355.9 596.6h0M411.6 572.8h0M390.4 563.1h0M315.8 580.2h0M357.8 584.4h0M369.1 590.1h0M314.4 596.9h0M327.0 550.2h0M378.0 597.5h0M409.1 597.1h0M434.0 541.7h0M333.8 513.9h0M408.1 594.0h0M402.2 533.8h0M393.3 564.8h0M347.7 568.5h0M340.6 502.2h0M322.8 548.0h0M406.3 521.8h0M366.8 568.4h0M349.1 551.4h0M394.0 539.8h0M341.9 568.3h0M407.0 518.2h0M421.0 564.6h0M428.8 577.0h0M379.7 570.6h0M355.9 564.4h0M325.2 533.8h0M381.2 587.5h0M404.7 589.8h0M429.2 596.0h0" stroke="#6e0e13" stroke-width="0.9" stroke-linecap="round" fill="none" opacity="1"/>
<path d="M395.9 560.8h0M376.3 521.4h0M419.6 560.1h0M335.7 523.3h0M343.5 571.3h0M393.3 519.4h0M405.2 555.5h0M349.5 543.6h0M445.5 513.4h0M345.6 558.5h0M425.3 591.1h0M367.1 575.9h0M330.0 537.8h0M427.6 565.6h0M373.3 559.0h0M378.7 553.9h0M431.2 596.5h0M340.8 574.5h0M439.2 559.8h0M380.5 536.5h0M378.3 557.2h0M395.1 510.7h0M446.3 526.9h0M386.7 519.1h0M397.8 506.8h0M358.6 537.7h0M355.7 547.9h0M335.2 548.2h0M419.5 562.0h0M442.6 593.9h0M377.4 546.0h0M415.1 586.9h0M385.8 565.8h0M405.6 550.5h0M381.5 539.3h0M373.6 546.6h0M420.4 515.3h0M329.9 591.3h0M381.8 568.7h0M435.4 572.7h0M389.2 594.1h0M396.8 543.8h0M338.5 515.2h0M419.1 588.6h0M361.5 552.0h0M404.0 559.8h0M350.7 590.1h0M387.3 570.5h0M405.3 543.0h0M407.0 518.3h0M386.7 564.2h0M397.5 528.5h0M338.3 509.5h0M330.7 517.7h0M378.5 556.0h0M407.6 543.0h0M415.8 502.3h0M360.3 511.3h0M382.6 556.4h0M391.4 543.5h0M363.0 532.1h0M328.3 518.6h0M378.6 555.9h0M327.6 583.5h0M318.0 511.9h0M373.5 532.5h0M383.1 568.0h0M392.9 577.5h0M376.4 566.7h0M369.6 512.0h0M324.1 517.5h0M373.0 526.9h0M388.4 565.8h0M435.8 514.3h0M440.9 499.5h0M431.9 597.4h0M362.6 578.9h0M381.1 555.3h0M427.6 593.1h0M354.0 521.3h0M435.4 558.3h0M433.5 521.4h0M426.6 515.3h0M333.7 528.1h0M436.9 537.9h0M372.5 528.2h0M324.2 543.4h0M380.0 532.7h0M410.9 530.2h0M443.8 589.9h0M390.8 509.5h0M388.3 561.2h0M400.2 541.7h0M410.1 598.6h0M407.1 503.5h0M397.3 561.4h0M386.4 592.8h0M321.2 501.1h0M409.8 509.4h0M332.5 580.7h0M362.1 587.3h0M420.2 565.3h0M361.7 507.6h0M443.3 586.0h0M435.6 550.0h0M351.4 561.9h0M369.7 518.5h0M329.2 540.0h0M333.9 526.1h0M443.5 592.3h0M431.4 550.4h0M415.1 515.7h0M396.4 596.4h0M418.8 597.5h0M397.3 529.6h0M317.0 526.3h0M423.9 551.9h0M396.7 579.3h0M353.4 513.4h0M431.6 559.2h0M317.9 568.7h0M409.6 575.2h0M331.6 526.6h0M409.9 566.0h0M360.1 595.8h0M354.3 588.1h0M332.2 544.9h0M445.5 568.5h0M414.4 587.3h0M397.2 553.7h0M423.4 552.3h0M440.9 575.1h0M314.5 528.0h0M431.3 511.1h0M316.3 557.3h0M406.0 597.0h0M441.6 561.7h0M406.8 552.2h0M426.6 568.3h0M331.3 561.7h0M320.9 532.7h0M358.4 591.0h0M343.5 536.8h0M388.9 519.8h0M374.2 528.9h0M409.7 578.4h0M391.3 585.7h0M379.2 573.7h0M326.8 537.9h0M357.0 587.6h0M380.1 536.9h0M402.5 594.3h0M424.0 579.4h0M402.4 579.4h0M388.6 538.1h0M356.2 525.6h0M358.8 549.2h0M428.2 522.9h0M366.1 525.4h0M378.0 505.5h0M396.6 584.8h0M434.8 535.1h0M336.6 572.1h0M414.2 518.3h0M322.3 566.1h0M364.5 551.4h0M388.9 587.4h0M330.9 525.2h0M318.8 567.9h0M324.8 584.3h0M394.9 550.4h0M349.7 585.9h0M329.4 557.2h0M424.0 564.8h0M320.8 510.5h0M352.1 572.1h0M332.4 594.5h0M431.4 556.3h0M430.2 562.6h0M335.5 539.6h0M317.5 543.0h0M445.1 539.6h0M402.1 535.2h0M403.5 532.7h0M435.1 540.2h0M349.9 542.1h0M324.2 532.2h0M412.0 539.6h0M373.4 522.8h0M423.3 587.4h0M368.4 499.6h0M370.8 586.4h0M400.4 522.1h0M328.2 587.6h0M324.8 560.7h0M393.0 517.5h0M372.7 585.2h0M446.2 506.8h0M318.4 525.2h0M320.9 591.8h0" stroke="#186a18" stroke-width="0.8" stroke-linecap="round" fill="none" opacity="1"/>
<path d="M324.9 535.9h0M427.6 545.6h0M345.2 505.6h0M344.3 530.2h0M426.3 542.6h0M387.3 525.5h0M368.2 591.7h0M329.4 569.2h0M355.7 541.0h0M409.5 534.1h0M378.9 547.9h0M378.4 506.8h0M366.2 537.2h0M369.8 527.9h0M373.6 573.1h0M324.0 506.9h0M385.0 556.9h0M419.9 502.6h0M315.6 559.9h0M342.8 548.5h0M353.2 508.1h0M388.4 530.8h0M378.7 585.9h0M373.8 583.2h0M353.0 517.5h0M367.5 529.0h0M410.4 511.4h0M409.9 521.2h0M368.3 520.9h0M333.4 513.2h0M444.7 509.3h0M436.5 545.2h0M430.9 517.2h0M391.5 567.3h0M354.8 560.4h0M433.7 540.8h0M318.1 560.1h0M417.6 544.6h0M425.3 534.8h0M374.0 542.4h0M326.8 506.5h0M398.6 587.9h0M338.6 589.4h0M357.4 541.0h0M319.9 500.1h0M390.4 587.4h0M398.4 512.3h0M401.8 512.3h0M376.4 574.0h0M365.5 531.0h0M356.6 528.3h0M316.4 571.7h0M366.1 518.0h0M355.4 503.5h0M376.5 557.5h0M396.4 543.7h0M445.1 514.4h0M340.3 555.3h0M368.8 529.6h0M410.2 550.6h0M389.1 568.2h0M370.0 550.3h0M444.9 515.5h0M375.8 560.3h0M415.2 508.2h0M329.5 526.0h0M402.5 520.3h0M318.9 541.1h0M334.7 567.8h0M439.8 574.4h0M389.5 539.9h0M317.8 542.7h0M383.2 529.3h0M368.2 593.2h0M363.5 525.5h0M372.6 592.4h0M319.8 545.8h0M445.1 552.0h0M356.3 532.5h0M405.8 512.5h0M440.0 568.3h0M434.7 515.5h0M316.6 531.3h0M376.1 552.0h0M396.6 502.9h0M438.1 514.5h0M338.9 512.0h0M364.7 515.4h0M408.7 534.5h0M330.9 535.9h0M423.0 554.0h0M323.3 557.8h0M379.4 551.0h0M413.4 513.8h0M406.6 576.2h0M435.4 537.8h0M343.8 570.0h0M446.1 596.0h0M392.9 531.3h0M436.2 514.5h0M399.4 584.6h0M388.5 573.2h0M371.0 569.4h0M342.7 567.2h0M332.6 516.7h0M330.2 531.5h0M315.1 569.3h0M435.1 582.8h0M319.8 548.5h0M331.8 556.4h0M316.0 594.2h0M374.4 516.8h0M369.1 530.4h0M378.3 540.5h0M442.2 530.7h0M323.0 554.4h0M377.3 534.9h0M441.6 583.4h0M368.5 513.2h0M430.8 579.4h0M436.7 539.3h0M345.2 551.5h0M384.0 572.4h0M332.8 595.4h0M385.4 528.2h0M393.9 506.0h0M423.8 553.0h0M341.1 504.4h0M384.8 578.8h0M345.9 594.6h0M394.8 550.4h0M442.3 534.7h0M407.1 536.9h0M360.5 551.7h0M440.0 509.0h0M367.1 504.8h0M368.9 506.0h0M420.5 566.9h0M441.3 572.4h0M360.2 561.0h0M335.5 542.6h0M328.3 595.7h0M402.4 524.7h0M385.4 538.3h0M431.7 566.6h0M407.5 561.6h0M334.3 556.1h0M426.5 536.3h0M314.9 530.2h0M316.8 555.9h0M377.4 510.3h0M428.6 524.4h0M372.8 514.1h0M383.6 556.2h0M407.7 500.7h0M334.8 514.4h0M354.8 579.8h0M426.8 572.9h0M388.3 501.9h0M352.3 550.1h0M411.6 537.3h0M374.0 530.7h0M383.9 542.5h0M362.6 591.2h0M394.7 565.4h0M427.5 573.1h0M348.5 574.1h0M395.8 551.6h0M407.1 582.3h0M352.9 528.3h0M384.9 509.0h0M418.3 519.5h0M355.3 577.3h0M431.8 525.2h0M330.6 566.3h0M395.2 539.4h0M337.5 596.0h0M327.4 585.2h0M345.4 524.1h0M369.2 512.8h0M414.7 518.3h0M350.5 533.3h0M420.8 503.1h0M411.8 527.3h0M400.7 595.7h0M338.6 502.4h0M353.8 570.0h0M344.8 531.6h0M444.1 585.3h0M441.2 520.7h0M406.0 530.3h0M407.2 581.4h0M401.5 549.3h0M400.5 567.8h0M335.9 570.2h0M331.0 584.3h0M359.6 508.3h0M316.7 559.7h0M323.6 539.8h0M320.0 567.9h0M428.4 501.9h0M395.4 563.9h0M387.9 595.7h0M355.5 588.5h0M385.6 521.7h0M351.0 509.5h0M415.3 521.5h0M392.0 576.4h0M348.2 564.3h0M404.1 542.1h0M417.8 542.0h0M333.5 508.5h0M333.6 571.6h0M381.1 513.5h0M439.3 500.6h0M392.6 547.0h0M431.8 559.1h0M425.8 521.6h0M384.5 577.1h0M363.5 572.1h0M369.2 533.6h0M350.4 567.3h0M444.7 503.4h0M342.6 505.9h0M336.9 549.7h0M388.5 568.4h0M331.1 583.9h0M340.3 577.1h0M366.6 550.7h0M425.1 590.3h0M385.7 505.4h0M355.5 570.3h0M422.5 587.9h0M387.7 509.7h0M351.2 541.7h0M332.1 534.1h0M355.3 571.6h0M375.5 556.6h0M353.4 571.3h0M387.1 507.7h0M436.4 510.2h0M347.1 508.0h0M419.8 584.9h0M374.9 575.4h0M420.0 584.8h0M439.2 564.1h0M393.7 502.8h0M343.3 598.2h0M384.2 592.9h0M343.6 580.7h0M419.3 572.3h0M355.3 598.4h0M358.4 598.4h0M438.6 508.2h0M324.2 540.0h0M349.2 538.8h0M338.1 574.2h0M326.9 559.0h0M357.6 532.8h0M394.3 501.1h0M413.5 545.8h0M412.1 581.1h0M435.7 500.5h0M349.0 533.7h0M386.3 528.9h0M371.8 549.4h0M415.8 507.8h0M363.8 522.9h0M370.6 534.9h0M346.2 592.5h0M314.5 502.9h0M410.9 520.7h0M435.8 562.7h0M424.1 594.5h0M413.5 595.4h0M337.6 519.6h0M317.5 499.5h0M420.1 569.8h0M353.9 513.8h0M327.4 550.4h0M445.1 499.5h0M388.6 568.9h0M347.4 515.0h0M435.8 577.0h0M358.4 594.5h0M374.0 583.1h0M407.2 545.4h0M362.8 508.9h0M363.4 571.8h0M357.4 530.3h0M357.7 507.4h0M429.2 563.8h0M396.3 583.3h0M394.1 540.4h0M427.3 522.0h0M413.0 596.6h0M330.8 523.0h0M362.8 572.1h0M383.1 539.2h0M433.7 541.0h0" stroke="#cb1f29" stroke-width="1.15" stroke-linecap="round" fill="none" opacity="1"/>
<path d="M343.8 502.6l-0.5 0.2M442.7 598.4l0.5 1.2M442.8 558.3l0.5 1.3M385.8 593.8l-1.0 0.2M386.4 534.3l-0.3 0.4M401.5 523.5l0.6 0.8M381.7 518.3l1.1 0.0M344.8 537.2l-0.0 0.6M406.2 580.7l-0.4 0.8M323.1 549.0l0.6 0.1M425.8 509.0l0.8 0.5M345.5 563.1l-0.0 0.8M353.7 589.2l-0.4 0.2M318.7 566.6l-0.8 0.5M391.5 526.1l0.6 0.4M410.2 528.6l1.1 1.0M324.6 549.8l-0.2 0.7M322.8 556.9l0.9 1.1M341.8 548.3l0.9 1.0M441.7 567.4l0.2 0.4M388.4 578.0l1.4 0.0M369.9 556.5l-1.3 0.3M438.4 596.6l-0.1 0.4M315.2 562.0l-0.1 0.7M413.9 583.8l0.2 1.3M382.9 510.9l1.0 0.6M369.9 526.0l0.4 0.2M381.1 511.7l0.8 0.3M329.8 593.6l1.1 0.4M376.4 578.0l0.2 0.9M395.1 538.9l0.8 0.7M394.4 589.1l0.5 0.0M333.9 567.4l0.6 0.4M441.6 597.0l-0.6 0.4M389.3 504.5l0.7 0.6M405.9 547.3l0.8 0.0M443.1 523.4l-0.4 1.0M330.6 509.0l-0.8 0.4M388.8 563.4l-0.1 0.5M378.4 586.1l-0.2 1.4M445.2 513.4l-0.1 0.4M384.3 543.5l0.3 1.2M325.6 518.8l1.4 0.1M387.4 542.3l-0.8 0.7M351.9 505.8l-0.7 0.6M407.6 588.1l-0.4 0.8M334.8 585.8l-0.4 0.5M367.3 591.9l0.4 0.6M439.7 595.2l-0.3 1.3M317.6 573.4l0.1 1.0M319.8 503.6l-0.5 0.2M390.8 526.9l0.7 0.8M441.3 550.7l-0.8 0.6M350.9 550.5l0.9 0.9M378.6 501.0l-0.0 0.4M430.4 559.0l1.2 0.5M409.0 582.8l0.3 0.4M417.2 500.9l0.8 1.0M405.3 562.1l0.8 0.3M401.2 557.1l-0.7 0.4" stroke="#d8222c" stroke-width="1.45" stroke-linecap="round" fill="none"/>
<path d="M371.5 509.5l0.9 0.9M371.7 509.5l0.4 0.5M337.3 526.0l-1.1 0.5M334.9 527.1l-0.8 0.1M337.0 524.5l-1.3 0.4M350.4 525.3l-0.3 0.7M349.0 524.3l0.3 0.2M331.2 525.8l1.3 0.1M330.9 524.2l-0.5 0.7M329.3 526.2l0.9 0.3M394.4 592.9l0.0 1.3M396.0 592.0l0.1 0.5M396.1 593.6l-0.2 0.7M393.6 593.1l0.6 1.1M360.9 551.5l-1.1 0.1M363.7 550.0l-1.0 0.1M362.8 550.6l0.3 0.7M363.4 548.9l0.2 0.9M338.9 538.4l0.5 0.5M337.3 537.3l-0.4 0.8M337.8 538.8l-0.1 0.5M344.6 535.9l0.2 0.3M344.6 533.9l-0.7 0.5M343.4 535.7l0.6 1.0" stroke="#d8222c" stroke-width="1.6" stroke-linecap="round" fill="none"/>
<path d="M375.9 588.8h0M410.2 580.9h0M384.8 549.3h0M344.4 529.6h0M344.3 552.8h0M358.1 563.5h0M443.8 535.2h0M424.3 531.4h0M440.9 572.6h0M367.5 579.5h0M388.3 533.6h0M364.2 507.2h0M430.1 566.2h0M377.2 552.8h0M338.3 596.5h0M385.3 501.5h0M398.8 586.4h0M445.5 578.5h0M350.0 572.2h0M399.9 533.6h0M323.6 548.3h0M445.7 562.7h0M348.9 535.4h0M440.8 577.2h0M345.6 549.2h0M406.8 532.2h0M444.3 518.8h0M402.3 526.3h0M381.3 501.1h0M428.9 558.9h0M426.2 577.2h0M433.2 505.4h0M401.9 518.7h0M352.3 593.1h0M380.7 510.2h0M439.3 569.4h0M431.1 557.6h0M386.1 517.6h0M346.6 535.9h0M393.3 584.2h0M362.8 579.1h0M429.5 535.1h0M397.4 589.9h0M317.7 553.4h0M324.1 515.0h0M399.6 571.3h0M444.3 544.2h0M343.3 546.2h0M353.4 512.2h0M326.1 575.9h0M400.4 559.9h0M371.5 594.2h0M386.9 552.1h0M438.9 597.1h0M360.0 592.4h0M329.7 544.6h0M377.5 578.2h0M426.5 588.8h0M419.5 565.6h0M343.3 563.0h0M417.3 561.9h0M414.4 513.6h0M422.6 532.8h0M324.5 540.1h0M350.7 522.9h0M398.7 517.8h0M426.0 554.3h0M374.9 529.7h0M349.7 562.5h0M366.8 548.3h0M443.5 534.2h0M318.5 514.5h0M427.8 513.4h0M388.8 540.1h0M370.7 594.3h0M359.8 560.6h0M344.6 584.7h0M421.2 569.5h0M366.4 517.9h0M333.0 499.8h0M419.2 515.8h0M380.3 513.3h0M367.2 566.8h0M415.6 575.6h0M357.3 508.9h0M382.3 508.2h0M352.6 563.9h0M429.7 513.8h0M371.7 522.6h0M416.1 558.2h0M437.6 551.3h0M371.6 518.5h0M366.9 569.0h0M333.3 524.6h0M366.4 590.3h0M446.0 511.1h0M363.9 576.1h0M337.7 527.7h0M411.9 529.9h0M422.1 584.9h0M345.2 514.2h0M381.5 550.5h0M430.4 507.8h0M434.2 574.5h0M345.3 549.3h0M314.5 510.9h0M323.6 523.4h0M384.3 572.6h0M339.8 566.0h0M349.3 573.9h0M329.8 526.5h0M348.8 533.9h0M441.6 582.9h0M368.7 556.6h0M423.5 558.9h0M405.3 534.5h0M440.7 562.1h0M425.0 566.6h0M419.9 528.6h0M332.8 565.9h0M425.0 535.0h0M330.8 555.9h0M440.8 537.5h0M424.7 597.8h0M337.4 536.2h0M364.0 513.8h0M396.6 528.4h0M323.6 521.8h0M438.2 518.4h0M376.2 581.5h0M314.9 571.0h0M338.0 501.0h0M316.3 539.8h0M423.0 551.8h0M343.5 514.5h0M396.9 548.4h0M369.5 525.3h0M437.7 508.0h0M408.2 512.4h0M342.1 558.9h0M347.2 507.2h0M387.6 596.5h0M408.3 530.4h0M398.8 540.8h0M436.6 551.1h0M361.7 553.4h0M341.6 523.4h0M402.7 573.2h0M385.7 595.4h0M357.7 507.5h0M424.2 523.4h0M360.5 534.0h0M347.5 539.1h0M392.9 596.3h0M394.1 500.6h0M412.0 519.8h0M440.6 526.4h0M387.9 598.4h0M386.9 564.2h0M354.7 583.6h0M394.3 517.8h0M403.0 536.1h0M393.5 554.9h0M354.9 592.3h0M374.5 547.8h0M321.7 515.5h0M431.1 507.8h0M428.6 518.0h0M324.7 581.3h0M317.0 554.9h0M441.6 538.8h0M441.4 573.5h0M411.5 573.2h0M400.4 584.2h0M362.2 544.0h0M332.5 526.7h0M414.5 552.6h0M335.3 589.6h0M406.6 560.2h0M399.3 583.4h0M386.8 529.6h0M334.4 515.5h0M422.1 593.8h0M347.3 584.5h0M374.6 550.2h0M409.7 594.6h0M365.2 529.1h0M384.7 500.2h0M322.0 552.0h0M341.8 515.8h0M343.6 531.8h0M393.2 573.7h0M428.0 518.3h0M359.4 579.2h0M416.7 525.6h0M345.4 570.0h0M359.1 577.2h0M445.9 528.4h0M316.5 506.5h0M411.8 519.1h0" stroke="#2fc32f" stroke-width="1.15" stroke-linecap="round" fill="none" opacity="1"/>
<path d="M428.5 594.1l1.2 0.4M378.9 525.2l-0.4 0.8M412.9 581.1l-0.3 0.6M344.3 521.0l-0.4 0.8M386.4 571.8l-0.8 0.9M332.6 560.3l-0.4 0.0M376.4 551.5l-0.1 1.1M363.9 517.3l-0.3 0.4M440.9 509.0l-0.3 1.1M374.8 536.0l0.8 1.0M435.8 527.5l0.4 1.0M358.2 590.9l-0.2 0.9M406.9 571.1l0.7 0.7M322.2 590.3l0.6 0.6M394.9 551.1l0.4 0.0M394.5 556.7l-0.4 0.1M379.4 591.6l-0.2 0.4M437.4 527.1l-0.2 1.0M392.6 558.3l0.4 1.0M373.2 518.4l-0.5 0.8M315.2 516.6l-0.3 0.9M371.8 533.2l-0.7 0.4M420.3 582.2l-0.3 0.3M438.5 591.0l-0.4 0.4M328.5 517.3l0.8 0.1M418.2 562.5l-0.2 0.7M366.3 533.8l0.3 0.1M347.6 561.2l-0.9 0.4M425.7 522.3l-1.0 0.3M396.4 543.2l0.5 1.1M334.2 562.9l1.0 0.4M415.4 588.2l-1.1 0.4M414.1 534.9l-1.1 0.2M328.8 565.2l-0.2 0.4M431.3 518.3l0.1 0.3M365.6 515.7l-0.6 0.7M337.3 565.4l0.1 0.3M375.7 579.2l-0.5 0.1M416.8 504.0l-0.3 0.2M422.8 573.2l-0.0 1.0M370.5 536.9l0.1 1.3M357.8 560.7l0.5 0.9M425.7 515.4l1.0 0.0M424.6 521.8l0.1 0.3M344.5 534.2l-0.8 0.1M389.9 511.7l0.8 0.9M319.1 543.8l-0.4 0.3M444.8 534.2l0.8 0.7M380.5 502.0l-0.5 0.7M349.0 563.5l-0.4 0.6M434.0 595.1l0.8 0.2M328.6 502.3l0.9 0.3M424.3 587.9l-1.0 0.2M434.8 582.3l0.5 0.2M388.6 566.8l0.7 0.2M352.8 527.5l0.8 0.5M429.1 518.1l-0.5 0.6M315.2 531.1l0.3 0.0M439.4 499.5l-0.9 0.2M399.3 505.4l-0.2 0.3M408.3 556.0l-0.2 0.7M416.8 526.9l1.0 0.7M326.4 532.3l0.5 0.2M350.9 503.5l-1.1 0.5M438.7 577.6l-0.0 0.9M370.6 577.5l-0.5 0.2M336.5 521.5l1.1 0.5M382.9 588.9l-0.1 0.3M414.3 538.1l0.5 0.3M324.5 523.5l0.7 0.7M360.0 535.4l-1.2 0.3M337.6 529.0l0.4 0.2M442.7 519.9l-0.4 0.9M444.9 511.0l0.4 0.9M317.2 582.0l0.9 0.8M323.9 518.5l-0.6 0.6M443.3 564.5l-0.4 0.0M348.0 559.4l-1.0 0.3M354.8 578.7l-0.4 1.0M373.8 529.9l0.3 0.7M354.3 505.2l0.3 0.8M338.0 569.2l0.5 0.2M389.1 554.3l-0.8 0.6M410.1 562.5l-0.9 0.1M442.1 508.4l-0.5 0.7M416.3 517.4l0.9 0.2M386.8 557.6l-0.9 0.1M422.4 554.9l-0.2 1.0M315.1 559.2l-1.0 0.7M426.6 503.0l-0.8 0.3" stroke="#3ed23a" stroke-width="1.35" stroke-linecap="round" fill="none"/>
</g>
<rect x="315.8" y="594.9" width="19.9" height="3.1" fill="#fff" />
<text x="549.2" y="498.6" font-size="6.6" text-anchor="middle" textLength="83.0" lengthAdjust="spacingAndGlyphs">Corticostriatal synapses</text>
<text x="524.9" y="511.7" font-size="6.6" textLength="35.7" lengthAdjust="spacingAndGlyphs">* <tspan font-style="italic">P</tspan> = 0.031</text>
<text transform="translate(467.2 548.0) rotate(-90)" font-size="6.6" text-anchor="middle" textLength="82.4" lengthAdjust="spacingAndGlyphs">Corticostriatal synapses</text>
<text transform="translate(475.4 548.2) rotate(-90)" font-size="6.6" text-anchor="middle" textLength="93.7" lengthAdjust="spacingAndGlyphs">% relative to zQ175 CR3 WT</text>
<line x1="497.4" y1="510.3" x2="497.4" y2="585.0" stroke="#555" stroke-width="0.55" />
<line x1="497.1" y1="584.7" x2="605.0" y2="584.7" stroke="#555" stroke-width="0.55" />
<line x1="528.2" y1="585.0" x2="528.2" y2="587.0" stroke="#555" stroke-width="0.5" />
<line x1="574.6" y1="585.0" x2="574.6" y2="587.0" stroke="#555" stroke-width="0.5" />
<line x1="495.0" y1="510.5" x2="497.4" y2="510.5" stroke="#555" stroke-width="0.5" />
<text x="491.4" y="512.5" font-size="6.0" text-anchor="end" textLength="11.2" lengthAdjust="spacingAndGlyphs">250</text>
<line x1="495.0" y1="525.4" x2="497.4" y2="525.4" stroke="#555" stroke-width="0.5" />
<text x="491.4" y="527.4" font-size="6.0" text-anchor="end" textLength="11.2" lengthAdjust="spacingAndGlyphs">200</text>
<line x1="495.0" y1="540.3" x2="497.4" y2="540.3" stroke="#555" stroke-width="0.5" />
<text x="491.4" y="542.3" font-size="6.0" text-anchor="end" textLength="11.2" lengthAdjust="spacingAndGlyphs">150</text>
<line x1="495.0" y1="555.1" x2="497.4" y2="555.1" stroke="#555" stroke-width="0.5" />
<text x="491.4" y="557.1" font-size="6.0" text-anchor="end" textLength="11.2" lengthAdjust="spacingAndGlyphs">100</text>
<line x1="495.0" y1="570.0" x2="497.4" y2="570.0" stroke="#555" stroke-width="0.5" />
<text x="491.4" y="572.0" font-size="6.0" text-anchor="end" textLength="7.5" lengthAdjust="spacingAndGlyphs">50</text>
<line x1="495.0" y1="584.7" x2="497.4" y2="584.7" stroke="#555" stroke-width="0.5" />
<text x="491.4" y="586.7" font-size="6.0" text-anchor="end">0</text>
<rect x="513.3" y="555.9" width="29.7" height="29.1" fill="#8f8f8f" />
<rect x="559.5" y="536.6" width="29.8" height="48.1" fill="#fff" stroke="#8a8a8a" stroke-width="0.8" />
<line x1="527.9" y1="553.6" x2="527.9" y2="557.9" stroke="#111" stroke-width="0.7" />
<line x1="520.1" y1="553.6" x2="535.7" y2="553.6" stroke="#111" stroke-width="0.7" />
<line x1="520.1" y1="557.9" x2="535.7" y2="557.9" stroke="#111" stroke-width="0.7" />
<line x1="574.4" y1="529.5" x2="574.4" y2="544.3" stroke="#111" stroke-width="0.7" />
<line x1="566.6" y1="529.5" x2="582.2" y2="529.5" stroke="#111" stroke-width="0.7" />
<line x1="566.6" y1="544.3" x2="582.2" y2="544.3" stroke="#111" stroke-width="0.7" />
<circle cx="526.1" cy="549.6" r="1.3" fill="#000"/>
<circle cx="523.4" cy="555.9" r="1.3" fill="#000"/>
<circle cx="529.9" cy="554.9" r="1.3" fill="#000"/>
<circle cx="527.4" cy="557.9" r="1.3" fill="#000"/>
<circle cx="532.4" cy="557.4" r="1.3" fill="#000"/>
<rect x="572.9" y="516.2" width="2.9" height="2.9" fill="#000"/>
<rect x="572.9" y="533.8" width="2.9" height="2.9" fill="#000"/>
<rect x="572.9" y="539.3" width="2.9" height="2.9" fill="#000"/>
<rect x="572.9" y="552.1" width="2.9" height="2.9" fill="#000"/>
<text x="523.0" y="596.7" font-size="6.8" text-anchor="middle" textLength="49.0" lengthAdjust="spacingAndGlyphs">zQ175 CR3 WT</text>
<text x="580.6" y="596.7" font-size="6.8" text-anchor="middle" textLength="49.3" lengthAdjust="spacingAndGlyphs">zQ175 CR3 KO</text>
<defs>
<filter id="bl" x="-5%" y="-5%" width="110%" height="110%"><feGaussianBlur stdDeviation="0.5"/></filter>
<filter id="bl2" x="-20%" y="-20%" width="140%" height="140%"><feGaussianBlur stdDeviation="0.8"/></filter>
<linearGradient id="gbg" x1="0" y1="0" x2="1" y2="1"><stop offset="0" stop-color="#23221b"/><stop offset="0.5" stop-color="#0d0d0a"/><stop offset="1" stop-color="#1a1913"/></linearGradient>
<linearGradient id="gs1" x1="0" y1="0" x2="0" y2="1"><stop offset="0" stop-color="#565b51"/><stop offset="0.5" stop-color="#7d8277"/><stop offset="0.8" stop-color="#a9ad9f"/><stop offset="1" stop-color="#c2c5b7"/></linearGradient>
<linearGradient id="gs2" x1="0" y1="0" x2="0" y2="1"><stop offset="0" stop-color="#666b61"/><stop offset="0.6" stop-color="#858a7f"/><stop offset="1" stop-color="#a6a99c"/></linearGradient>
<linearGradient id="gfl" x1="0" y1="0" x2="1" y2="0.3"><stop offset="0" stop-color="#b0a793"/><stop offset="0.45" stop-color="#c6bda9"/><stop offset="1" stop-color="#5a5446"/></linearGradient>
<linearGradient id="grim" x1="0" y1="0" x2="1" y2="0"><stop offset="0" stop-color="#9a927c"/><stop offset="0.5" stop-color="#8a826d"/><stop offset="1" stop-color="#4a4638"/></linearGradient>
<clipPath id="cph"><rect x="60.9" y="642.1" width="84.0" height="57.8"/></clipPath>
<linearGradient id="ggl" x1="1" y1="0" x2="0" y2="1"><stop offset="0" stop-color="#1c1b14"/><stop offset="0.6" stop-color="#4a4637"/><stop offset="1" stop-color="#6e6853"/></linearGradient>
<g id="photo">
<g clip-path="url(#cph)">
<rect x="60.9" y="642" width="84.2" height="58" fill="url(#gbg)"/>
<g filter="url(#bl)">
<path d="M60 650 L71.5 646 L77.5 671 L60 679Z" fill="url(#ggl)" filter="url(#bl2)"/>
<path d="M60 673.5 L77 669.8 L105.6 676.1 L108.2 677.5 L138.4 685.3 L145.5 687 L145.5 692 L60 675.4Z" fill="#2f2d23"/>
<path d="M60 675.0 L145.5 691.2 L145.5 701 L60 701Z" fill="url(#gfl)"/>
<path d="M60 675.0 L145.5 691.2 L145.5 694.6 L60 678.4Z" fill="url(#grim)"/>
<path d="M60 678.2 L120 689.7 L120 690.9 L60 679.4Z" fill="#d2cab6" opacity="0.8"/>
<path d="M103 688.4 L145.5 696.4 L145.5 701 L108 701Z" fill="#565042"/>
<path d="M108.6 692.8 L121 695 L121 698.2 L109.5 696.4Z" fill="#ece6d4"/>
<path d="M90.8 686.6 L95.4 687.5 L95.4 690 L90.8 689.2Z M104 689.2 L108.6 690.1 L108.6 692.6 L104 691.8Z M115.8 691.8 L121 692.8 L121 695.4 L115.8 694.5Z" fill="#d6cfbc"/>
<path d="M121 696 L145.5 700.5 L145.5 701 L121 701Z" fill="#2a281f"/>
<path d="M62.6 682.6h0M66.6 683.4h0M70.6 684.1h0M74.6 684.9h0M78.6 685.6h0M82.6 686.4h0M86.6 687.1h0M90.6 687.9h0M94.6 688.6h0M98.6 689.4h0M102.6 690.1h0M64.3 686.1h0M68.3 686.9h0M72.3 687.6h0M76.3 688.4h0M80.3 689.1h0M84.3 689.9h0M88.3 690.6h0M92.3 691.4h0M96.3 692.1h0M100.3 692.9h0M62.0 689.6h0M66.0 690.4h0M70.0 691.1h0M74.0 691.9h0M78.0 692.6h0M82.0 693.4h0M86.0 694.1h0M90.0 694.9h0M94.0 695.6h0M98.0 696.4h0M63.7 693.1h0M67.7 693.9h0M71.7 694.6h0M75.7 695.4h0M79.7 696.1h0M83.7 696.9h0M87.7 697.6h0M91.7 698.4h0M95.7 699.1h0M61.4 696.6h0M65.4 697.4h0M69.4 698.1h0M73.4 698.9h0M77.4 699.6h0M81.4 700.4h0M63.1 700.1h0" stroke="#2d2a20" stroke-width="1.95" stroke-linecap="round" fill="none"/>
<path d="M71.2 645.5 L105.2 652.3 L105.8 676.9 L77.7 671.6Z" fill="url(#gs1)"/>
<path d="M107.8 652.8 L143.3 661.1 L138.4 685.0 L108.2 678.0Z" fill="url(#gs2)"/>
<path d="M105.2 652.3 L107.8 652.8 L108.2 678.0 L105.8 676.9Z" fill="#34342a"/>
</g>
<path d="M81.4 650.6h0M85.1 651.3h0" stroke="#c9ccc2" stroke-width="1.9" stroke-linecap="round" fill="none" filter="url(#bl)"/>
<path d="M88.8 652.0h0M92.6 652.8h0M96.3 653.5h0M100.0 654.2h0M81.8 654.0h0M85.5 654.7h0M89.3 655.4h0M93.0 656.1h0M96.7 656.8h0M100.4 657.6h0M82.2 657.3h0M86.0 658.0h0M89.7 658.7h0M93.4 659.5h0M97.1 660.2h0M100.8 660.9h0M82.7 660.6h0M86.4 661.4h0M90.1 662.1h0M93.8 662.8h0M97.5 663.5h0M101.3 664.2h0M83.1 664.0h0M86.8 664.7h0M90.5 665.4h0M94.2 666.2h0M98.0 666.9h0M101.7 667.6h0" stroke="#fdfdf6" stroke-width="2.5" stroke-linecap="round" fill="none" filter="url(#bl)"/>
<path d="M88 655 L102 658 L102.5 668 L90 665.5Z" fill="#fff" opacity="0.42" filter="url(#bl2)"/>
<path d="M80 650 L101 654.5 L102 668 L83 664Z" fill="#fff" opacity="0.2" filter="url(#bl2)"/>
<path d="M124.8 664.2L124.1 657.0M124.8 664.2L132.9 660.2M124.8 664.2L135.9 667.7M124.8 664.2L129.4 672.2M124.8 664.2L120.8 671.5M124.8 664.2L114.8 664.4M124.8 664.2L116.1 658.0" stroke="#fdfdf8" stroke-width="3.7" stroke-linecap="butt" fill="none" filter="url(#bl)"/>
<circle cx="124.8" cy="664.2" r="3.6" fill="#fff" filter="url(#bl)"/>
<ellipse cx="124.8" cy="664.4" rx="12.5" ry="9.5" fill="#fff" opacity="0.2" filter="url(#bl2)"/>
</g>
</g>
<g id="wmouse">
<path d="M28.6 683.6 C24 681.2 17.5 680.3 14.8 682.2 C13 683.8 15.5 685.6 18.6 687.6" fill="none" stroke="#dc9f9a" stroke-width="1.5" stroke-linecap="round"/>
<path d="M36.8 694 L36.2 699.6 M35 699.8 L38.4 699.6 M47.6 692 L49 695.6 M48 696 L51.2 695.6 M27 688.6 L29.4 689.6" fill="none" stroke="#e2a8a4" stroke-width="1.6" stroke-linecap="round"/>
<path d="M28.2 684.5 C29.2 679.8 34 676.8 39.5 677.2 C42.5 675.6 46 674 49 673.6 C51.6 673.6 53.6 675.6 55 678 C56 679.8 55.8 681.6 54 682.8 C52.8 684.6 51.6 686.6 50.4 688.6 C48.6 692 44.4 694.4 40.8 695.6 C37.6 696.4 34.8 695.2 32.8 692.8 C30.2 690.6 28 688 28.2 684.5Z" fill="#e9e4e0" stroke="#ddd5cf" stroke-width="0.6"/>
<path d="M34.5 688.8 C36 692.5 39.5 694.8 43 694" fill="none" stroke="#d6cdc6" stroke-width="0.6"/>
<ellipse cx="39.2" cy="676.8" rx="3.3" ry="4.3" fill="#e2a8a6" transform="rotate(-12 39.2 676.8)"/>
<ellipse cx="39.5" cy="677" rx="2.1" ry="3" fill="#e9b9b6" transform="rotate(-12 39.5 677)"/>
<path d="M47 672.2 L48 670.8 C49.8 671.4 51.4 673 52 674.6 L49 675.4Z" fill="#e9c4c0"/>
<ellipse cx="46.8" cy="678.6" rx="1.05" ry="0.85" fill="#c23b4e" transform="rotate(-25 46.8 678.6)"/>
<circle cx="54.6" cy="678.8" r="0.8" fill="#e7a9aa"/>
</g>
</defs>
<text x="3.6" y="618.5" font-size="12.6" font-weight="bold" fill="#000" stroke="#000" stroke-width="0.45">i</text>
<text x="49.0" y="621.1" font-size="6.8" textLength="61.6" lengthAdjust="spacingAndGlyphs">Acquisition phase</text>
<line x1="49.0" y1="622.2" x2="110.6" y2="622.2" stroke="#222" stroke-width="0.45" />
<text x="65.8" y="638.9" font-size="7.3" textLength="30.9" lengthAdjust="spacingAndGlyphs">Incorrect</text>
<text x="111.3" y="638.9" font-size="7.3" textLength="26.1" lengthAdjust="spacingAndGlyphs">Correct</text>
<use href="#photo"/>
<use href="#wmouse"/>
<line x1="180.4" y1="660.0" x2="300.0" y2="660.0" stroke="#f39d94" stroke-width="0.8" stroke-dasharray="3.8 2.1"/>
<line x1="180.4" y1="629.4" x2="180.4" y2="710.9" stroke="#9c9c9c" stroke-width="0.75" />
<line x1="180.2" y1="710.6" x2="300.0" y2="710.6" stroke="#9c9c9c" stroke-width="0.75" />
<line x1="178.2" y1="629.6" x2="180.4" y2="629.6" stroke="#9c9c9c" stroke-width="0.5" />
<text x="175.3" y="631.7" font-size="6.2" text-anchor="end" fill="#222">100</text>
<line x1="178.2" y1="649.9" x2="180.4" y2="649.9" stroke="#9c9c9c" stroke-width="0.5" />
<text x="175.3" y="652.0" font-size="6.2" text-anchor="end" fill="#222">80</text>
<line x1="178.2" y1="670.1" x2="180.4" y2="670.1" stroke="#9c9c9c" stroke-width="0.5" />
<text x="175.3" y="672.2" font-size="6.2" text-anchor="end" fill="#222">60</text>
<line x1="178.2" y1="690.4" x2="180.4" y2="690.4" stroke="#9c9c9c" stroke-width="0.5" />
<text x="175.3" y="692.5" font-size="6.2" text-anchor="end" fill="#222">40</text>
<line x1="178.2" y1="710.6" x2="180.4" y2="710.6" stroke="#9c9c9c" stroke-width="0.5" />
<text x="175.3" y="712.7" font-size="6.2" text-anchor="end" fill="#222">20</text>
<line x1="186.9" y1="710.6" x2="186.9" y2="712.4" stroke="#9c9c9c" stroke-width="0.5" />
<line x1="197.5" y1="710.6" x2="197.5" y2="712.4" stroke="#9c9c9c" stroke-width="0.5" />
<line x1="208.1" y1="710.6" x2="208.1" y2="712.4" stroke="#9c9c9c" stroke-width="0.5" />
<line x1="218.6" y1="710.6" x2="218.6" y2="712.4" stroke="#9c9c9c" stroke-width="0.5" />
<line x1="229.2" y1="710.6" x2="229.2" y2="712.4" stroke="#9c9c9c" stroke-width="0.5" />
<line x1="239.8" y1="710.6" x2="239.8" y2="712.4" stroke="#9c9c9c" stroke-width="0.5" />
<line x1="250.4" y1="710.6" x2="250.4" y2="712.4" stroke="#9c9c9c" stroke-width="0.5" />
<line x1="261.0" y1="710.6" x2="261.0" y2="712.4" stroke="#9c9c9c" stroke-width="0.5" />
<line x1="271.5" y1="710.6" x2="271.5" y2="712.4" stroke="#9c9c9c" stroke-width="0.5" />
<line x1="282.1" y1="710.6" x2="282.1" y2="712.4" stroke="#9c9c9c" stroke-width="0.5" />
<line x1="292.7" y1="710.6" x2="292.7" y2="712.4" stroke="#9c9c9c" stroke-width="0.5" />
<path d="M186.9 686.9V689.9M185.5 686.9h2.8M185.5 689.9h2.8M197.5 685.4V689.4M196.1 685.4h2.8M196.1 689.4h2.8M208.1 683.0V688.0M206.7 683.0h2.8M206.7 688.0h2.8M218.6 674.9V679.9M217.2 674.9h2.8M217.2 679.9h2.8M229.2 667.3V673.3M227.8 667.3h2.8M227.8 673.3h2.8M239.8 657.2V662.3M238.4 657.2h2.8M238.4 662.3h2.8M250.4 655.2V660.3M249.0 655.2h2.8M249.0 660.3h2.8M261.0 650.3V655.3M259.6 650.3h2.8M259.6 655.3h2.8M271.5 648.2V652.3M270.1 648.2h2.8M270.1 652.3h2.8M282.1 644.2V648.2M280.7 644.2h2.8M280.7 648.2h2.8M292.7 640.1V642.2M291.3 640.1h2.8M291.3 642.2h2.8" fill="none" stroke="#f28c28" stroke-width="0.75"/>
<path d="M186.9,688.4 197.5,687.4 208.1,685.5 218.6,677.4 229.2,670.3 239.8,659.8 250.4,657.7 261.0,652.8 271.5,650.3 282.1,646.2 292.7,641.1" fill="none" stroke="#f28c28" stroke-width="1.1" stroke-linejoin="round"/>
<circle cx="186.9" cy="688.4" r="1.55" fill="#f28c28"/>
<circle cx="197.5" cy="687.4" r="1.55" fill="#f28c28"/>
<circle cx="208.1" cy="685.5" r="1.55" fill="#f28c28"/>
<circle cx="218.6" cy="677.4" r="1.55" fill="#f28c28"/>
<circle cx="229.2" cy="670.3" r="1.55" fill="#f28c28"/>
<circle cx="239.8" cy="659.8" r="1.55" fill="#f28c28"/>
<circle cx="250.4" cy="657.7" r="1.55" fill="#f28c28"/>
<circle cx="261.0" cy="652.8" r="1.55" fill="#f28c28"/>
<circle cx="271.5" cy="650.3" r="1.55" fill="#f28c28"/>
<circle cx="282.1" cy="646.2" r="1.55" fill="#f28c28"/>
<circle cx="292.7" cy="641.1" r="1.55" fill="#f28c28"/>
<path d="M186.9 688.9V693.0M185.5 688.9h2.8M185.5 693.0h2.8M197.5 686.7V691.8M196.1 686.7h2.8M196.1 691.8h2.8M208.1 683.2V689.2M206.7 683.2h2.8M206.7 689.2h2.8M218.6 681.6V686.7M217.2 681.6h2.8M217.2 686.7h2.8M229.2 674.4V681.4M227.8 674.4h2.8M227.8 681.4h2.8M239.8 671.8V676.9M238.4 671.8h2.8M238.4 676.9h2.8M250.4 664.3V670.4M249.0 664.3h2.8M249.0 670.4h2.8M261.0 656.7V662.8M259.6 656.7h2.8M259.6 662.8h2.8M271.5 656.0V663.1M270.1 656.0h2.8M270.1 663.1h2.8M282.1 649.7V655.8M280.7 649.7h2.8M280.7 655.8h2.8M292.7 646.9V652.0M291.3 646.9h2.8M291.3 652.0h2.8" fill="none" stroke="#4a9fd9" stroke-width="0.75"/>
<path d="M186.9,691.0 197.5,689.2 208.1,686.2 218.6,684.2 229.2,677.9 239.8,674.4 250.4,667.4 261.0,659.8 271.5,659.6 282.1,652.8 292.7,649.4" fill="none" stroke="#4a9fd9" stroke-width="1.1" stroke-linejoin="round"/>
<rect x="185.5" y="689.5" width="2.9" height="2.9" fill="#4a9fd9"/>
<rect x="196.0" y="687.8" width="2.9" height="2.9" fill="#4a9fd9"/>
<rect x="206.6" y="684.7" width="2.9" height="2.9" fill="#4a9fd9"/>
<rect x="217.2" y="682.7" width="2.9" height="2.9" fill="#4a9fd9"/>
<rect x="227.8" y="676.4" width="2.9" height="2.9" fill="#4a9fd9"/>
<rect x="238.4" y="672.9" width="2.9" height="2.9" fill="#4a9fd9"/>
<rect x="248.9" y="665.9" width="2.9" height="2.9" fill="#4a9fd9"/>
<rect x="259.5" y="658.3" width="2.9" height="2.9" fill="#4a9fd9"/>
<rect x="270.1" y="658.1" width="2.9" height="2.9" fill="#4a9fd9"/>
<rect x="280.7" y="651.3" width="2.9" height="2.9" fill="#4a9fd9"/>
<rect x="291.2" y="648.0" width="2.9" height="2.9" fill="#4a9fd9"/>
<text transform="translate(189.8 716.2) rotate(-47)" font-size="6.4" text-anchor="end" fill="#222" textLength="17.4" lengthAdjust="spacingAndGlyphs">Trial 1</text>
<text transform="translate(200.4 716.2) rotate(-47)" font-size="6.4" text-anchor="end" fill="#222" textLength="17.4" lengthAdjust="spacingAndGlyphs">Trial 2</text>
<text transform="translate(211.0 716.2) rotate(-47)" font-size="6.4" text-anchor="end" fill="#222" textLength="17.4" lengthAdjust="spacingAndGlyphs">Trial 3</text>
<text transform="translate(221.5 716.2) rotate(-47)" font-size="6.4" text-anchor="end" fill="#222" textLength="17.4" lengthAdjust="spacingAndGlyphs">Trial 4</text>
<text transform="translate(232.1 716.2) rotate(-47)" font-size="6.4" text-anchor="end" fill="#222" textLength="17.4" lengthAdjust="spacingAndGlyphs">Trial 5</text>
<text transform="translate(242.7 716.2) rotate(-47)" font-size="6.4" text-anchor="end" fill="#222" textLength="17.4" lengthAdjust="spacingAndGlyphs">Trial 6</text>
<text transform="translate(253.3 716.2) rotate(-47)" font-size="6.4" text-anchor="end" fill="#222" textLength="17.4" lengthAdjust="spacingAndGlyphs">Trial 7</text>
<text transform="translate(263.9 716.2) rotate(-47)" font-size="6.4" text-anchor="end" fill="#222" textLength="17.4" lengthAdjust="spacingAndGlyphs">Trial 8</text>
<text transform="translate(274.4 716.2) rotate(-47)" font-size="6.4" text-anchor="end" fill="#222" textLength="17.4" lengthAdjust="spacingAndGlyphs">Trial 9</text>
<text transform="translate(285.0 716.2) rotate(-47)" font-size="6.4" text-anchor="end" fill="#222" textLength="20.6" lengthAdjust="spacingAndGlyphs">Trial 10</text>
<text transform="translate(295.6 716.2) rotate(-47)" font-size="6.4" text-anchor="end" fill="#222" textLength="20.6" lengthAdjust="spacingAndGlyphs">Trial 11</text>
<text x="240.2" y="625.5" font-size="7.2" text-anchor="middle" textLength="43.2" lengthAdjust="spacingAndGlyphs">WT vs zQ175</text>
<text transform="translate(161.8 669.6) rotate(-90)" font-size="7.3" text-anchor="middle" textLength="64.0" lengthAdjust="spacingAndGlyphs">Correct choice (%)</text>
<text x="240.0" y="738.8" font-size="7.2" text-anchor="middle" textLength="42.7" lengthAdjust="spacingAndGlyphs">Trial session</text>
<text x="155.5" y="618.7" font-size="7" textLength="6.3" lengthAdjust="spacingAndGlyphs">(i)</text>
<text x="257.5" y="688.3" font-size="4.8" text-anchor="end" textLength="7.5" lengthAdjust="spacingAndGlyphs">WT</text>
<line x1="260.6" y1="686.7" x2="269.3" y2="686.7" stroke="#f28c28" stroke-width="0.9" />
<circle cx="265.0" cy="686.7" r="1.3175" fill="#f28c28"/>
<text x="257.5" y="696.6" font-size="4.8" text-anchor="end" textLength="11.3" lengthAdjust="spacingAndGlyphs">Q175</text>
<line x1="260.6" y1="695.0" x2="269.3" y2="695.0" stroke="#4a9fd9" stroke-width="0.9" />
<rect x="263.7" y="693.8" width="2.465" height="2.465" fill="#4a9fd9"/>
<path d="M270.9 686.7H272.6V695.0H270.9" fill="none" stroke="#333" stroke-width="0.45"/>
<line x1="272.6" y1="690.9" x2="273.8" y2="690.9" stroke="#333" stroke-width="0.45" />
<text x="276.4" y="692.3" font-size="4.9" textLength="25.6" lengthAdjust="spacingAndGlyphs">*<tspan font-style="italic">P</tspan> = 0.038</text>
<line x1="339.0" y1="657.5" x2="460.0" y2="657.5" stroke="#f39d94" stroke-width="0.8" stroke-dasharray="3.8 2.1"/>
<line x1="339.0" y1="626.2" x2="339.0" y2="709.5" stroke="#b4b4b4" stroke-width="0.9" />
<line x1="338.8" y1="709.3" x2="460.0" y2="709.3" stroke="#b4b4b4" stroke-width="0.9" />
<line x1="336.8" y1="626.4" x2="339.0" y2="626.4" stroke="#b4b4b4" stroke-width="0.5" />
<text x="334.2" y="628.5" font-size="6.2" text-anchor="end" fill="#222">100</text>
<line x1="336.8" y1="647.1" x2="339.0" y2="647.1" stroke="#b4b4b4" stroke-width="0.5" />
<text x="334.2" y="649.2" font-size="6.2" text-anchor="end" fill="#222">80</text>
<line x1="336.8" y1="667.8" x2="339.0" y2="667.8" stroke="#b4b4b4" stroke-width="0.5" />
<text x="334.2" y="670.0" font-size="6.2" text-anchor="end" fill="#222">60</text>
<line x1="336.8" y1="688.6" x2="339.0" y2="688.6" stroke="#b4b4b4" stroke-width="0.5" />
<text x="334.2" y="690.7" font-size="6.2" text-anchor="end" fill="#222">40</text>
<line x1="336.8" y1="709.3" x2="339.0" y2="709.3" stroke="#b4b4b4" stroke-width="0.5" />
<text x="334.2" y="711.4" font-size="6.2" text-anchor="end" fill="#222">20</text>
<line x1="346.0" y1="709.3" x2="346.0" y2="711.1" stroke="#b4b4b4" stroke-width="0.5" />
<line x1="356.7" y1="709.3" x2="356.7" y2="711.1" stroke="#b4b4b4" stroke-width="0.5" />
<line x1="367.4" y1="709.3" x2="367.4" y2="711.1" stroke="#b4b4b4" stroke-width="0.5" />
<line x1="378.0" y1="709.3" x2="378.0" y2="711.1" stroke="#b4b4b4" stroke-width="0.5" />
<line x1="388.7" y1="709.3" x2="388.7" y2="711.1" stroke="#b4b4b4" stroke-width="0.5" />
<line x1="399.4" y1="709.3" x2="399.4" y2="711.1" stroke="#b4b4b4" stroke-width="0.5" />
<line x1="410.1" y1="709.3" x2="410.1" y2="711.1" stroke="#b4b4b4" stroke-width="0.5" />
<line x1="420.8" y1="709.3" x2="420.8" y2="711.1" stroke="#b4b4b4" stroke-width="0.5" />
<line x1="431.4" y1="709.3" x2="431.4" y2="711.1" stroke="#b4b4b4" stroke-width="0.5" />
<line x1="442.1" y1="709.3" x2="442.1" y2="711.1" stroke="#b4b4b4" stroke-width="0.5" />
<line x1="452.8" y1="709.3" x2="452.8" y2="711.1" stroke="#b4b4b4" stroke-width="0.5" />
<path d="M346.0 691.2V696.3M344.6 691.2h2.8M344.6 696.3h2.8M356.7 684.6V688.8M355.3 684.6h2.8M355.3 688.8h2.8M367.4 682.4V688.6M366.0 682.4h2.8M366.0 688.6h2.8M378.0 674.1V680.3M376.6 674.1h2.8M376.6 680.3h2.8M388.7 667.2V673.4M387.3 667.2h2.8M387.3 673.4h2.8M399.4 658.7V667.0M398.0 658.7h2.8M398.0 667.0h2.8M410.1 653.7V661.9M408.7 653.7h2.8M408.7 661.9h2.8M420.8 651.2V658.4M419.4 651.2h2.8M419.4 658.4h2.8M431.4 648.4V654.6M430.0 648.4h2.8M430.0 654.6h2.8M442.1 650.2V656.5M440.7 650.2h2.8M440.7 656.5h2.8M452.8 648.5V653.7M451.4 648.5h2.8M451.4 653.7h2.8" fill="none" stroke="#8e44a5" stroke-width="0.75"/>
<path d="M346.0,693.8 356.7,686.7 367.4,685.5 378.0,677.2 388.7,670.3 399.4,662.9 410.1,657.8 420.8,654.8 431.4,651.5 442.1,653.3 452.8,651.1" fill="none" stroke="#8e44a5" stroke-width="1.1" stroke-linejoin="round"/>
<rect x="344.6" y="692.3" width="2.9" height="2.9" fill="#8e44a5"/>
<rect x="355.2" y="685.3" width="2.9" height="2.9" fill="#8e44a5"/>
<rect x="365.9" y="684.0" width="2.9" height="2.9" fill="#8e44a5"/>
<rect x="376.6" y="675.7" width="2.9" height="2.9" fill="#8e44a5"/>
<rect x="387.3" y="668.9" width="2.9" height="2.9" fill="#8e44a5"/>
<rect x="397.9" y="661.4" width="2.9" height="2.9" fill="#8e44a5"/>
<rect x="408.6" y="656.3" width="2.9" height="2.9" fill="#8e44a5"/>
<rect x="419.3" y="653.3" width="2.9" height="2.9" fill="#8e44a5"/>
<rect x="430.0" y="650.0" width="2.9" height="2.9" fill="#8e44a5"/>
<rect x="440.7" y="651.9" width="2.9" height="2.9" fill="#8e44a5"/>
<rect x="451.4" y="649.6" width="2.9" height="2.9" fill="#8e44a5"/>
<path d="M346.0 687.1V691.3M344.6 687.1h2.8M344.6 691.3h2.8M356.7 684.8V690.0M355.3 684.8h2.8M355.3 690.0h2.8M367.4 681.2V687.4M366.0 681.2h2.8M366.0 687.4h2.8M378.0 679.7V684.8M376.6 679.7h2.8M376.6 684.8h2.8M388.7 672.2V679.5M387.3 672.2h2.8M387.3 679.5h2.8M399.4 669.6V674.8M398.0 669.6h2.8M398.0 674.8h2.8M410.1 661.9V668.2M408.7 661.9h2.8M408.7 668.2h2.8M420.8 654.2V660.4M419.4 654.2h2.8M419.4 660.4h2.8M431.4 653.4V660.7M430.0 653.4h2.8M430.0 660.7h2.8M442.1 647.0V653.2M440.7 647.0h2.8M440.7 653.2h2.8M452.8 644.1V649.3M451.4 644.1h2.8M451.4 649.3h2.8" fill="none" stroke="#4a9fd9" stroke-width="0.75"/>
<path d="M346.0,689.2 356.7,687.4 367.4,684.3 378.0,682.3 388.7,675.8 399.4,672.2 410.1,665.1 420.8,657.3 431.4,657.1 442.1,650.1 452.8,646.7" fill="none" stroke="#4a9fd9" stroke-width="1.1" stroke-linejoin="round"/>
<rect x="344.6" y="687.7" width="2.9" height="2.9" fill="#4a9fd9"/>
<rect x="355.2" y="686.0" width="2.9" height="2.9" fill="#4a9fd9"/>
<rect x="365.9" y="682.9" width="2.9" height="2.9" fill="#4a9fd9"/>
<rect x="376.6" y="680.8" width="2.9" height="2.9" fill="#4a9fd9"/>
<rect x="387.3" y="674.4" width="2.9" height="2.9" fill="#4a9fd9"/>
<rect x="397.9" y="670.8" width="2.9" height="2.9" fill="#4a9fd9"/>
<rect x="408.6" y="663.6" width="2.9" height="2.9" fill="#4a9fd9"/>
<rect x="419.3" y="655.8" width="2.9" height="2.9" fill="#4a9fd9"/>
<rect x="430.0" y="655.6" width="2.9" height="2.9" fill="#4a9fd9"/>
<rect x="440.7" y="648.7" width="2.9" height="2.9" fill="#4a9fd9"/>
<rect x="451.4" y="645.3" width="2.9" height="2.9" fill="#4a9fd9"/>
<text transform="translate(348.9 714.9) rotate(-47)" font-size="6.4" text-anchor="end" fill="#222" textLength="17.4" lengthAdjust="spacingAndGlyphs">Trial 1</text>
<text transform="translate(359.6 714.9) rotate(-47)" font-size="6.4" text-anchor="end" fill="#222" textLength="17.4" lengthAdjust="spacingAndGlyphs">Trial 2</text>
<text transform="translate(370.3 714.9) rotate(-47)" font-size="6.4" text-anchor="end" fill="#222" textLength="17.4" lengthAdjust="spacingAndGlyphs">Trial 3</text>
<text transform="translate(380.9 714.9) rotate(-47)" font-size="6.4" text-anchor="end" fill="#222" textLength="17.4" lengthAdjust="spacingAndGlyphs">Trial 4</text>
<text transform="translate(391.6 714.9) rotate(-47)" font-size="6.4" text-anchor="end" fill="#222" textLength="17.4" lengthAdjust="spacingAndGlyphs">Trial 5</text>
<text transform="translate(402.3 714.9) rotate(-47)" font-size="6.4" text-anchor="end" fill="#222" textLength="17.4" lengthAdjust="spacingAndGlyphs">Trial 6</text>
<text transform="translate(413.0 714.9) rotate(-47)" font-size="6.4" text-anchor="end" fill="#222" textLength="17.4" lengthAdjust="spacingAndGlyphs">Trial 7</text>
<text transform="translate(423.7 714.9) rotate(-47)" font-size="6.4" text-anchor="end" fill="#222" textLength="17.4" lengthAdjust="spacingAndGlyphs">Trial 8</text>
<text transform="translate(434.3 714.9) rotate(-47)" font-size="6.4" text-anchor="end" fill="#222" textLength="17.4" lengthAdjust="spacingAndGlyphs">Trial 9</text>
<text transform="translate(445.0 714.9) rotate(-47)" font-size="6.4" text-anchor="end" fill="#222" textLength="20.6" lengthAdjust="spacingAndGlyphs">Trial 10</text>
<text transform="translate(455.7 714.9) rotate(-47)" font-size="6.4" text-anchor="end" fill="#222" textLength="20.6" lengthAdjust="spacingAndGlyphs">Trial 11</text>
<text x="399.4" y="625.4" font-size="7.2" text-anchor="middle" textLength="81.7" lengthAdjust="spacingAndGlyphs">zQ175 vs zQ175 CR3 KO</text>
<text transform="translate(320.3 667.8) rotate(-90)" font-size="7.3" text-anchor="middle" textLength="64.0" lengthAdjust="spacingAndGlyphs">Correct choice (%)</text>
<text x="399.7" y="738.8" font-size="7.2" text-anchor="middle" textLength="42.7" lengthAdjust="spacingAndGlyphs">Trial session</text>
<text x="313.8" y="618.0" font-size="7" textLength="8.8" lengthAdjust="spacingAndGlyphs">(ii)</text>
<text x="422.4" y="689.6" font-size="4.8" text-anchor="end" textLength="32.4" lengthAdjust="spacingAndGlyphs">Q175 CR3KO</text>
<line x1="423.9" y1="688.0" x2="434.0" y2="688.0" stroke="#8e44a5" stroke-width="0.9" />
<rect x="427.7" y="686.8" width="2.465" height="2.465" fill="#8e44a5"/>
<text x="422.4" y="697.6" font-size="4.8" text-anchor="end" textLength="11.8" lengthAdjust="spacingAndGlyphs">Q175</text>
<line x1="423.9" y1="696.0" x2="434.0" y2="696.0" stroke="#4a9fd9" stroke-width="0.9" />
<rect x="427.7" y="694.8" width="2.465" height="2.465" fill="#4a9fd9"/>
<path d="M435.5 688.0H437.2V696.0H435.5" fill="none" stroke="#333" stroke-width="0.45"/>
<line x1="437.2" y1="692.0" x2="438.4" y2="692.0" stroke="#333" stroke-width="0.45" />
<text x="440.4" y="694.2" font-size="4.9" textLength="23.6" lengthAdjust="spacingAndGlyphs"><tspan font-style="italic">P</tspan> = 0.069</text>
<line x1="498.8" y1="657.6" x2="619.3" y2="657.6" stroke="#f39d94" stroke-width="0.8" stroke-dasharray="3.8 2.1"/>
<line x1="498.8" y1="626.5" x2="498.8" y2="709.2" stroke="#6e6e6e" stroke-width="0.5" />
<line x1="498.6" y1="709.0" x2="619.3" y2="709.0" stroke="#6e6e6e" stroke-width="0.5" />
<line x1="496.6" y1="626.7" x2="498.8" y2="626.7" stroke="#6e6e6e" stroke-width="0.5" />
<text x="494.0" y="628.8" font-size="6.2" text-anchor="end" fill="#222">100</text>
<line x1="496.6" y1="647.3" x2="498.8" y2="647.3" stroke="#6e6e6e" stroke-width="0.5" />
<text x="494.0" y="649.4" font-size="6.2" text-anchor="end" fill="#222">80</text>
<line x1="496.6" y1="667.9" x2="498.8" y2="667.9" stroke="#6e6e6e" stroke-width="0.5" />
<text x="494.0" y="670.0" font-size="6.2" text-anchor="end" fill="#222">60</text>
<line x1="496.6" y1="688.4" x2="498.8" y2="688.4" stroke="#6e6e6e" stroke-width="0.5" />
<text x="494.0" y="690.5" font-size="6.2" text-anchor="end" fill="#222">40</text>
<line x1="496.6" y1="709.0" x2="498.8" y2="709.0" stroke="#6e6e6e" stroke-width="0.5" />
<text x="494.0" y="711.1" font-size="6.2" text-anchor="end" fill="#222">20</text>
<line x1="506.0" y1="709.0" x2="506.0" y2="710.8" stroke="#6e6e6e" stroke-width="0.5" />
<line x1="516.6" y1="709.0" x2="516.6" y2="710.8" stroke="#6e6e6e" stroke-width="0.5" />
<line x1="527.2" y1="709.0" x2="527.2" y2="710.8" stroke="#6e6e6e" stroke-width="0.5" />
<line x1="537.8" y1="709.0" x2="537.8" y2="710.8" stroke="#6e6e6e" stroke-width="0.5" />
<line x1="548.4" y1="709.0" x2="548.4" y2="710.8" stroke="#6e6e6e" stroke-width="0.5" />
<line x1="559.0" y1="709.0" x2="559.0" y2="710.8" stroke="#6e6e6e" stroke-width="0.5" />
<line x1="569.7" y1="709.0" x2="569.7" y2="710.8" stroke="#6e6e6e" stroke-width="0.5" />
<line x1="580.3" y1="709.0" x2="580.3" y2="710.8" stroke="#6e6e6e" stroke-width="0.5" />
<line x1="590.9" y1="709.0" x2="590.9" y2="710.8" stroke="#6e6e6e" stroke-width="0.5" />
<line x1="601.5" y1="709.0" x2="601.5" y2="710.8" stroke="#6e6e6e" stroke-width="0.5" />
<line x1="612.1" y1="709.0" x2="612.1" y2="710.8" stroke="#6e6e6e" stroke-width="0.5" />
<path d="M506.0 684.9V688.0M504.6 684.9h2.8M504.6 688.0h2.8M516.6 683.4V687.5M515.2 683.4h2.8M515.2 687.5h2.8M527.2 680.9V686.1M525.8 680.9h2.8M525.8 686.1h2.8M537.8 672.7V677.8M536.4 672.7h2.8M536.4 677.8h2.8M548.4 665.0V671.1M547.0 665.0h2.8M547.0 671.1h2.8M559.0 654.8V659.9M557.6 654.8h2.8M557.6 659.9h2.8M569.7 652.7V657.9M568.3 652.7h2.8M568.3 657.9h2.8M580.3 647.7V652.8M578.9 647.7h2.8M578.9 652.8h2.8M590.9 645.6V649.7M589.5 645.6h2.8M589.5 649.7h2.8M601.5 641.5V645.6M600.1 641.5h2.8M600.1 645.6h2.8M612.1 637.4V639.5M610.7 637.4h2.8M610.7 639.5h2.8" fill="none" stroke="#f28c28" stroke-width="0.75"/>
<path d="M506.0,686.5 516.6,685.4 527.2,683.5 537.8,675.3 548.4,668.1 559.0,657.4 569.7,655.3 580.3,650.3 590.9,647.7 601.5,643.6 612.1,638.4" fill="none" stroke="#f28c28" stroke-width="1.1" stroke-linejoin="round"/>
<circle cx="506.0" cy="686.5" r="1.55" fill="#f28c28"/>
<circle cx="516.6" cy="685.4" r="1.55" fill="#f28c28"/>
<circle cx="527.2" cy="683.5" r="1.55" fill="#f28c28"/>
<circle cx="537.8" cy="675.3" r="1.55" fill="#f28c28"/>
<circle cx="548.4" cy="668.1" r="1.55" fill="#f28c28"/>
<circle cx="559.0" cy="657.4" r="1.55" fill="#f28c28"/>
<circle cx="569.7" cy="655.3" r="1.55" fill="#f28c28"/>
<circle cx="580.3" cy="650.3" r="1.55" fill="#f28c28"/>
<circle cx="590.9" cy="647.7" r="1.55" fill="#f28c28"/>
<circle cx="601.5" cy="643.6" r="1.55" fill="#f28c28"/>
<circle cx="612.1" cy="638.4" r="1.55" fill="#f28c28"/>
<path d="M506.0 686.4V690.5M504.6 686.4h2.8M504.6 690.5h2.8M516.6 685.3V689.5M515.2 685.3h2.8M515.2 689.5h2.8M527.2 683.3V688.4M525.8 683.3h2.8M525.8 688.4h2.8M537.8 680.7V685.9M536.4 680.7h2.8M536.4 685.9h2.8M548.4 667.9V674.0M547.0 667.9h2.8M547.0 674.0h2.8M559.0 658.1V664.2M557.6 658.1h2.8M557.6 664.2h2.8M569.7 652.9V659.1M568.3 652.9h2.8M568.3 659.1h2.8M580.3 647.8V652.9M578.9 647.8h2.8M578.9 652.9h2.8M590.9 645.2V650.4M589.5 645.2h2.8M589.5 650.4h2.8M601.5 643.7V648.8M600.1 643.7h2.8M600.1 648.8h2.8M612.1 642.6V647.8M610.7 642.6h2.8M610.7 647.8h2.8" fill="none" stroke="#56b947" stroke-width="0.75"/>
<path d="M506.0,688.4 516.6,687.4 527.2,685.9 537.8,683.3 548.4,670.9 559.0,661.2 569.7,656.0 580.3,650.4 590.9,647.8 601.5,646.2 612.1,645.2" fill="none" stroke="#56b947" stroke-width="1.1" stroke-linejoin="round"/>
<path d="M506.0 686.4 L507.9 690.0 L504.1 690.0Z" fill="#56b947"/>
<path d="M516.6 685.3 L518.6 688.9 L514.7 688.9Z" fill="#56b947"/>
<path d="M527.2 683.8 L529.2 687.4 L525.3 687.4Z" fill="#56b947"/>
<path d="M537.8 681.2 L539.8 684.8 L535.9 684.8Z" fill="#56b947"/>
<path d="M548.4 668.9 L550.4 672.5 L546.5 672.5Z" fill="#56b947"/>
<path d="M559.0 659.1 L561.0 662.7 L557.1 662.7Z" fill="#56b947"/>
<path d="M569.7 654.0 L571.6 657.6 L567.7 657.6Z" fill="#56b947"/>
<path d="M580.3 648.3 L582.2 651.9 L578.3 651.9Z" fill="#56b947"/>
<path d="M590.9 645.7 L592.8 649.3 L588.9 649.3Z" fill="#56b947"/>
<path d="M601.5 644.2 L603.4 647.8 L599.5 647.8Z" fill="#56b947"/>
<path d="M612.1 643.2 L614.0 646.8 L610.2 646.8Z" fill="#56b947"/>
<path d="M506.0 691.0V696.1M504.6 691.0h2.8M504.6 696.1h2.8M516.6 684.5V688.6M515.2 684.5h2.8M515.2 688.6h2.8M527.2 682.3V688.4M525.8 682.3h2.8M525.8 688.4h2.8M537.8 674.0V680.2M536.4 674.0h2.8M536.4 680.2h2.8M548.4 667.2V673.4M547.0 667.2h2.8M547.0 673.4h2.8M559.0 658.8V667.0M557.6 658.8h2.8M557.6 667.0h2.8M569.7 653.8V662.0M568.3 653.8h2.8M568.3 662.0h2.8M580.3 651.3V658.5M578.9 651.3h2.8M578.9 658.5h2.8M590.9 648.5V654.7M589.5 648.5h2.8M589.5 654.7h2.8M601.5 650.4V656.5M600.1 650.4h2.8M600.1 656.5h2.8M612.1 648.6V653.8M610.7 648.6h2.8M610.7 653.8h2.8" fill="none" stroke="#8e44a5" stroke-width="0.75"/>
<path d="M506.0,693.6 516.6,686.6 527.2,685.3 537.8,677.1 548.4,670.3 559.0,662.9 569.7,657.9 580.3,654.9 590.9,651.6 601.5,653.4 612.1,651.2" fill="none" stroke="#8e44a5" stroke-width="1.1" stroke-linejoin="round"/>
<rect x="504.6" y="692.1" width="2.9" height="2.9" fill="#8e44a5"/>
<rect x="515.2" y="685.1" width="2.9" height="2.9" fill="#8e44a5"/>
<rect x="525.8" y="683.9" width="2.9" height="2.9" fill="#8e44a5"/>
<rect x="536.4" y="675.7" width="2.9" height="2.9" fill="#8e44a5"/>
<rect x="547.0" y="668.9" width="2.9" height="2.9" fill="#8e44a5"/>
<rect x="557.6" y="661.5" width="2.9" height="2.9" fill="#8e44a5"/>
<rect x="568.2" y="656.4" width="2.9" height="2.9" fill="#8e44a5"/>
<rect x="578.8" y="653.4" width="2.9" height="2.9" fill="#8e44a5"/>
<rect x="589.4" y="650.1" width="2.9" height="2.9" fill="#8e44a5"/>
<rect x="600.0" y="652.0" width="2.9" height="2.9" fill="#8e44a5"/>
<rect x="610.6" y="649.7" width="2.9" height="2.9" fill="#8e44a5"/>
<path d="M506.0 687.0V691.1M504.6 687.0h2.8M504.6 691.1h2.8M516.6 684.7V689.9M515.2 684.7h2.8M515.2 689.9h2.8M527.2 681.1V687.3M525.8 681.1h2.8M525.8 687.3h2.8M537.8 679.6V684.7M536.4 679.6h2.8M536.4 684.7h2.8M548.4 672.2V679.4M547.0 672.2h2.8M547.0 679.4h2.8M559.0 669.6V674.7M557.6 669.6h2.8M557.6 674.7h2.8M569.7 662.0V668.2M568.3 662.0h2.8M568.3 668.2h2.8M580.3 654.3V660.4M578.9 654.3h2.8M578.9 660.4h2.8M590.9 653.6V660.8M589.5 653.6h2.8M589.5 660.8h2.8M601.5 647.2V653.3M600.1 647.2h2.8M600.1 653.3h2.8M612.1 644.3V649.4M610.7 644.3h2.8M610.7 649.4h2.8" fill="none" stroke="#4a9fd9" stroke-width="0.75"/>
<path d="M506.0,689.0 516.6,687.3 527.2,684.2 537.8,682.1 548.4,675.8 559.0,672.2 569.7,665.1 580.3,657.4 590.9,657.2 601.5,650.3 612.1,646.9" fill="none" stroke="#4a9fd9" stroke-width="1.1" stroke-linejoin="round"/>
<rect x="504.6" y="687.6" width="2.9" height="2.9" fill="#4a9fd9"/>
<rect x="515.2" y="685.8" width="2.9" height="2.9" fill="#4a9fd9"/>
<rect x="525.8" y="682.8" width="2.9" height="2.9" fill="#4a9fd9"/>
<rect x="536.4" y="680.7" width="2.9" height="2.9" fill="#4a9fd9"/>
<rect x="547.0" y="674.3" width="2.9" height="2.9" fill="#4a9fd9"/>
<rect x="557.6" y="670.7" width="2.9" height="2.9" fill="#4a9fd9"/>
<rect x="568.2" y="663.6" width="2.9" height="2.9" fill="#4a9fd9"/>
<rect x="578.8" y="655.9" width="2.9" height="2.9" fill="#4a9fd9"/>
<rect x="589.4" y="655.7" width="2.9" height="2.9" fill="#4a9fd9"/>
<rect x="600.0" y="648.8" width="2.9" height="2.9" fill="#4a9fd9"/>
<rect x="610.6" y="645.4" width="2.9" height="2.9" fill="#4a9fd9"/>
<text transform="translate(508.9 714.6) rotate(-47)" font-size="6.4" text-anchor="end" fill="#222" textLength="17.4" lengthAdjust="spacingAndGlyphs">Trial 1</text>
<text transform="translate(519.5 714.6) rotate(-47)" font-size="6.4" text-anchor="end" fill="#222" textLength="17.4" lengthAdjust="spacingAndGlyphs">Trial 2</text>
<text transform="translate(530.1 714.6) rotate(-47)" font-size="6.4" text-anchor="end" fill="#222" textLength="17.4" lengthAdjust="spacingAndGlyphs">Trial 3</text>
<text transform="translate(540.7 714.6) rotate(-47)" font-size="6.4" text-anchor="end" fill="#222" textLength="17.4" lengthAdjust="spacingAndGlyphs">Trial 4</text>
<text transform="translate(551.3 714.6) rotate(-47)" font-size="6.4" text-anchor="end" fill="#222" textLength="17.4" lengthAdjust="spacingAndGlyphs">Trial 5</text>
<text transform="translate(561.9 714.6) rotate(-47)" font-size="6.4" text-anchor="end" fill="#222" textLength="17.4" lengthAdjust="spacingAndGlyphs">Trial 6</text>
<text transform="translate(572.6 714.6) rotate(-47)" font-size="6.4" text-anchor="end" fill="#222" textLength="17.4" lengthAdjust="spacingAndGlyphs">Trial 7</text>
<text transform="translate(583.2 714.6) rotate(-47)" font-size="6.4" text-anchor="end" fill="#222" textLength="17.4" lengthAdjust="spacingAndGlyphs">Trial 8</text>
<text transform="translate(593.8 714.6) rotate(-47)" font-size="6.4" text-anchor="end" fill="#222" textLength="17.4" lengthAdjust="spacingAndGlyphs">Trial 9</text>
<text transform="translate(604.4 714.6) rotate(-47)" font-size="6.4" text-anchor="end" fill="#222" textLength="20.6" lengthAdjust="spacingAndGlyphs">Trial 10</text>
<text transform="translate(615.0 714.6) rotate(-47)" font-size="6.4" text-anchor="end" fill="#222" textLength="20.6" lengthAdjust="spacingAndGlyphs">Trial 11</text>
<text x="558.9" y="625.4" font-size="7.2" text-anchor="middle" textLength="35.5" lengthAdjust="spacingAndGlyphs">All groups</text>
<text transform="translate(480.3 667.3) rotate(-90)" font-size="7.3" text-anchor="middle" textLength="64.0" lengthAdjust="spacingAndGlyphs">Correct choice (%)</text>
<text x="558.6" y="738.1" font-size="7.2" text-anchor="middle" textLength="42.7" lengthAdjust="spacingAndGlyphs">Trial session</text>
<text x="471.5" y="618.8" font-size="7" textLength="9.9" lengthAdjust="spacingAndGlyphs">(iii)</text>
<text x="577.4" y="680.5" font-size="4.8" text-anchor="end" textLength="7.4" lengthAdjust="spacingAndGlyphs">WT</text>
<line x1="579.7" y1="678.9" x2="588.2" y2="678.9" stroke="#f28c28" stroke-width="0.9" />
<circle cx="584.0" cy="678.9" r="1.3175" fill="#f28c28"/>
<text x="577.4" y="687.2" font-size="4.8" text-anchor="end" textLength="17.5" lengthAdjust="spacingAndGlyphs">CR3KO</text>
<line x1="579.7" y1="685.6" x2="588.2" y2="685.6" stroke="#56b947" stroke-width="0.9" />
<path d="M584.0 683.9 L585.6 686.9 L582.3 686.9Z" fill="#56b947"/>
<text x="577.4" y="694.8" font-size="4.8" text-anchor="end" textLength="32.0" lengthAdjust="spacingAndGlyphs">Q175 CR3KO</text>
<line x1="579.7" y1="693.2" x2="588.2" y2="693.2" stroke="#8e44a5" stroke-width="0.9" />
<rect x="582.7" y="692.0" width="2.465" height="2.465" fill="#8e44a5"/>
<text x="577.4" y="702.6" font-size="4.8" text-anchor="end" textLength="11.4" lengthAdjust="spacingAndGlyphs">Q175</text>
<line x1="579.7" y1="701.0" x2="588.2" y2="701.0" stroke="#4a9fd9" stroke-width="0.9" />
<rect x="582.7" y="699.8" width="2.465" height="2.465" fill="#4a9fd9"/>
<path d="M590.0 677.8H591.2V686.0H590.0" fill="none" stroke="#333" stroke-width="0.45"/>
<line x1="591.2" y1="681.9" x2="592.4" y2="681.9" stroke="#333" stroke-width="0.45" />
<text x="593.0" y="683.0" font-size="4.9" textLength="22.2" lengthAdjust="spacingAndGlyphs"><tspan font-style="italic">P</tspan> = 0.319</text>
<path d="M590.6 693.2H591.8V701.0H590.6" fill="none" stroke="#333" stroke-width="0.45"/>
<line x1="591.8" y1="697.1" x2="593.0" y2="697.1" stroke="#333" stroke-width="0.45" />
<text x="593.9" y="699.2" font-size="4.9" textLength="23.3" lengthAdjust="spacingAndGlyphs"><tspan font-style="italic">P</tspan> = 0.069</text>
<path d="M616.6 677.8H618.3V699.7H616.6" fill="none" stroke="#333" stroke-width="0.45"/>
<line x1="618.3" y1="688.8" x2="619.5" y2="688.8" stroke="#333" stroke-width="0.45" />
<text x="620.4" y="687.8" font-size="4.9" textLength="22.5" lengthAdjust="spacingAndGlyphs"><tspan font-style="italic">P</tspan> = 0.352</text>
<path d="M643.6 676.1H645.3V700.3H643.6" fill="none" stroke="#333" stroke-width="0.45"/>
<line x1="645.3" y1="688.2" x2="646.5" y2="688.2" stroke="#333" stroke-width="0.45" />
<text x="647.4" y="689.5" font-size="4.9" textLength="26.2" lengthAdjust="spacingAndGlyphs">*<tspan font-style="italic">P</tspan> = 0.038</text>
<text x="11.9" y="755.3" font-size="12.6" font-weight="bold" fill="#000" stroke="#000" stroke-width="0.45">j</text>
<text x="53.5" y="757.4" font-size="6.8" textLength="52.5" lengthAdjust="spacingAndGlyphs">Reversal phase</text>
<line x1="53.5" y1="758.5" x2="106.0" y2="758.5" stroke="#222" stroke-width="0.45" />
<text x="68.6" y="775.9" font-size="7.3" textLength="26.4" lengthAdjust="spacingAndGlyphs">Correct</text>
<text x="106.8" y="775.9" font-size="7.3" textLength="30.9" lengthAdjust="spacingAndGlyphs">Incorrect</text>
<use href="#photo" transform="translate(0.5 136.8)"/>
<use href="#wmouse" transform="translate(0 137.20000000000002)"/>
<line x1="185.0" y1="791.4" x2="303.3" y2="791.4" stroke="#f39d94" stroke-width="0.8" stroke-dasharray="3.8 2.1"/>
<line x1="185.0" y1="759.4" x2="185.0" y2="844.6" stroke="#a4a4a4" stroke-width="0.8" />
<line x1="184.8" y1="844.4" x2="303.3" y2="844.4" stroke="#a4a4a4" stroke-width="0.8" />
<line x1="182.8" y1="759.6" x2="185.0" y2="759.6" stroke="#a4a4a4" stroke-width="0.5" />
<text x="180.6" y="761.7" font-size="6.2" text-anchor="end" fill="#222">100</text>
<line x1="182.8" y1="780.8" x2="185.0" y2="780.8" stroke="#a4a4a4" stroke-width="0.5" />
<text x="180.6" y="782.9" font-size="6.2" text-anchor="end" fill="#222">80</text>
<line x1="182.8" y1="802.0" x2="185.0" y2="802.0" stroke="#a4a4a4" stroke-width="0.5" />
<text x="180.6" y="804.1" font-size="6.2" text-anchor="end" fill="#222">60</text>
<line x1="182.8" y1="823.2" x2="185.0" y2="823.2" stroke="#a4a4a4" stroke-width="0.5" />
<text x="180.6" y="825.3" font-size="6.2" text-anchor="end" fill="#222">40</text>
<line x1="182.8" y1="844.4" x2="185.0" y2="844.4" stroke="#a4a4a4" stroke-width="0.5" />
<text x="180.6" y="846.5" font-size="6.2" text-anchor="end" fill="#222">20</text>
<line x1="190.2" y1="844.4" x2="190.2" y2="846.2" stroke="#a4a4a4" stroke-width="0.5" />
<line x1="197.9" y1="844.4" x2="197.9" y2="846.2" stroke="#a4a4a4" stroke-width="0.5" />
<line x1="205.6" y1="844.4" x2="205.6" y2="846.2" stroke="#a4a4a4" stroke-width="0.5" />
<line x1="213.3" y1="844.4" x2="213.3" y2="846.2" stroke="#a4a4a4" stroke-width="0.5" />
<line x1="221.1" y1="844.4" x2="221.1" y2="846.2" stroke="#a4a4a4" stroke-width="0.5" />
<line x1="228.8" y1="844.4" x2="228.8" y2="846.2" stroke="#a4a4a4" stroke-width="0.5" />
<line x1="236.5" y1="844.4" x2="236.5" y2="846.2" stroke="#a4a4a4" stroke-width="0.5" />
<line x1="244.2" y1="844.4" x2="244.2" y2="846.2" stroke="#a4a4a4" stroke-width="0.5" />
<line x1="251.9" y1="844.4" x2="251.9" y2="846.2" stroke="#a4a4a4" stroke-width="0.5" />
<line x1="259.6" y1="844.4" x2="259.6" y2="846.2" stroke="#a4a4a4" stroke-width="0.5" />
<line x1="267.3" y1="844.4" x2="267.3" y2="846.2" stroke="#a4a4a4" stroke-width="0.5" />
<line x1="275.1" y1="844.4" x2="275.1" y2="846.2" stroke="#a4a4a4" stroke-width="0.5" />
<line x1="282.8" y1="844.4" x2="282.8" y2="846.2" stroke="#a4a4a4" stroke-width="0.5" />
<line x1="290.5" y1="844.4" x2="290.5" y2="846.2" stroke="#a4a4a4" stroke-width="0.5" />
<line x1="298.2" y1="844.4" x2="298.2" y2="846.2" stroke="#a4a4a4" stroke-width="0.5" />
<path d="M190.2 841.0V845.2M188.8 841.0h2.8M188.8 845.2h2.8M197.9 836.2V842.6M196.5 836.2h2.8M196.5 842.6h2.8M205.6 829.2V834.5M204.2 829.2h2.8M204.2 834.5h2.8M213.3 822.9V828.2M211.9 822.9h2.8M211.9 828.2h2.8M221.1 821.0V825.2M219.7 821.0h2.8M219.7 825.2h2.8M228.8 811.9V818.2M227.4 811.9h2.8M227.4 818.2h2.8M236.5 807.8V813.1M235.1 807.8h2.8M235.1 813.1h2.8M244.2 797.8V804.1M242.8 797.8h2.8M242.8 804.1h2.8M251.9 791.5V797.9M250.5 791.5h2.8M250.5 797.9h2.8M259.6 784.7V791.1M258.2 784.7h2.8M258.2 791.1h2.8M267.3 779.0V785.4M265.9 779.0h2.8M265.9 785.4h2.8M275.1 777.0V782.3M273.7 777.0h2.8M273.7 782.3h2.8M282.8 772.7V777.0M281.4 772.7h2.8M281.4 777.0h2.8M290.5 771.5V776.8M289.1 771.5h2.8M289.1 776.8h2.8M298.2 771.5V776.8M296.8 771.5h2.8M296.8 776.8h2.8" fill="none" stroke="#f28c28" stroke-width="0.75"/>
<path d="M190.2,843.1 197.9,839.4 205.6,831.9 213.3,825.5 221.1,823.1 228.8,815.0 236.5,810.5 244.2,800.9 251.9,794.7 259.6,787.9 267.3,782.2 275.1,779.6 282.8,774.9 290.5,774.1 298.2,774.1" fill="none" stroke="#f28c28" stroke-width="1.1" stroke-linejoin="round"/>
<circle cx="190.2" cy="843.1" r="1.55" fill="#f28c28"/>
<circle cx="197.9" cy="839.4" r="1.55" fill="#f28c28"/>
<circle cx="205.6" cy="831.9" r="1.55" fill="#f28c28"/>
<circle cx="213.3" cy="825.5" r="1.55" fill="#f28c28"/>
<circle cx="221.1" cy="823.1" r="1.55" fill="#f28c28"/>
<circle cx="228.8" cy="815.0" r="1.55" fill="#f28c28"/>
<circle cx="236.5" cy="810.5" r="1.55" fill="#f28c28"/>
<circle cx="244.2" cy="800.9" r="1.55" fill="#f28c28"/>
<circle cx="251.9" cy="794.7" r="1.55" fill="#f28c28"/>
<circle cx="259.6" cy="787.9" r="1.55" fill="#f28c28"/>
<circle cx="267.3" cy="782.2" r="1.55" fill="#f28c28"/>
<circle cx="275.1" cy="779.6" r="1.55" fill="#f28c28"/>
<circle cx="282.8" cy="774.9" r="1.55" fill="#f28c28"/>
<circle cx="290.5" cy="774.1" r="1.55" fill="#f28c28"/>
<circle cx="298.2" cy="774.1" r="1.55" fill="#f28c28"/>
<path d="M190.2 842.3V845.5M188.8 842.3h2.8M188.8 845.5h2.8M197.9 833.7V840.1M196.5 833.7h2.8M196.5 840.1h2.8M205.6 821.8V829.2M204.2 821.8h2.8M204.2 829.2h2.8M213.3 819.9V826.3M211.9 819.9h2.8M211.9 826.3h2.8M221.1 821.7V827.0M219.7 821.7h2.8M219.7 827.0h2.8M228.8 814.6V819.9M227.4 814.6h2.8M227.4 819.9h2.8M236.5 812.4V819.8M235.1 812.4h2.8M235.1 819.8h2.8M244.2 802.8V808.1M242.8 802.8h2.8M242.8 808.1h2.8M251.9 799.3V806.8M250.5 799.3h2.8M250.5 806.8h2.8M259.6 795.5V804.0M258.2 795.5h2.8M258.2 804.0h2.8M267.3 791.9V801.5M265.9 791.9h2.8M265.9 801.5h2.8M275.1 789.0V798.5M273.7 789.0h2.8M273.7 798.5h2.8M282.8 780.5V789.0M281.4 780.5h2.8M281.4 789.0h2.8M290.5 779.7V787.2M289.1 779.7h2.8M289.1 787.2h2.8M298.2 777.4V785.9M296.8 777.4h2.8M296.8 785.9h2.8" fill="none" stroke="#4a9fd9" stroke-width="0.75"/>
<path d="M190.2,843.9 197.9,836.9 205.6,825.5 213.3,823.1 221.1,824.4 228.8,817.3 236.5,816.1 244.2,805.5 251.9,803.1 259.6,799.8 267.3,796.7 275.1,793.7 282.8,784.7 290.5,783.5 298.2,781.6" fill="none" stroke="#4a9fd9" stroke-width="1.1" stroke-linejoin="round"/>
<path d="M190.2 841.8 L192.1 845.4 L188.3 845.4Z" fill="#4a9fd9"/>
<path d="M197.9 834.8 L199.9 838.4 L196.0 838.4Z" fill="#4a9fd9"/>
<path d="M205.6 823.5 L207.6 827.1 L203.7 827.1Z" fill="#4a9fd9"/>
<path d="M213.3 821.0 L215.3 824.6 L211.4 824.6Z" fill="#4a9fd9"/>
<path d="M221.1 822.3 L223.0 825.9 L219.1 825.9Z" fill="#4a9fd9"/>
<path d="M228.8 815.2 L230.7 818.8 L226.8 818.8Z" fill="#4a9fd9"/>
<path d="M236.5 814.0 L238.4 817.6 L234.5 817.6Z" fill="#4a9fd9"/>
<path d="M244.2 803.4 L246.1 807.0 L242.3 807.0Z" fill="#4a9fd9"/>
<path d="M251.9 801.0 L253.9 804.6 L250.0 804.6Z" fill="#4a9fd9"/>
<path d="M259.6 797.7 L261.6 801.3 L257.7 801.3Z" fill="#4a9fd9"/>
<path d="M267.3 794.7 L269.3 798.2 L265.4 798.2Z" fill="#4a9fd9"/>
<path d="M275.1 791.7 L277.0 795.3 L273.1 795.3Z" fill="#4a9fd9"/>
<path d="M282.8 782.7 L284.7 786.3 L280.8 786.3Z" fill="#4a9fd9"/>
<path d="M290.5 781.4 L292.4 785.0 L288.5 785.0Z" fill="#4a9fd9"/>
<path d="M298.2 779.6 L300.1 783.2 L296.3 783.2Z" fill="#4a9fd9"/>
<text transform="translate(193.1 850.0) rotate(-47)" font-size="6.4" text-anchor="end" fill="#222" textLength="17.4" lengthAdjust="spacingAndGlyphs">Trial 1</text>
<text transform="translate(200.8 850.0) rotate(-47)" font-size="6.4" text-anchor="end" fill="#222" textLength="17.4" lengthAdjust="spacingAndGlyphs">Trial 2</text>
<text transform="translate(208.5 850.0) rotate(-47)" font-size="6.4" text-anchor="end" fill="#222" textLength="17.4" lengthAdjust="spacingAndGlyphs">Trial 3</text>
<text transform="translate(216.2 850.0) rotate(-47)" font-size="6.4" text-anchor="end" fill="#222" textLength="17.4" lengthAdjust="spacingAndGlyphs">Trial 4</text>
<text transform="translate(224.0 850.0) rotate(-47)" font-size="6.4" text-anchor="end" fill="#222" textLength="17.4" lengthAdjust="spacingAndGlyphs">Trial 5</text>
<text transform="translate(231.7 850.0) rotate(-47)" font-size="6.4" text-anchor="end" fill="#222" textLength="17.4" lengthAdjust="spacingAndGlyphs">Trial 6</text>
<text transform="translate(239.4 850.0) rotate(-47)" font-size="6.4" text-anchor="end" fill="#222" textLength="17.4" lengthAdjust="spacingAndGlyphs">Trial 7</text>
<text transform="translate(247.1 850.0) rotate(-47)" font-size="6.4" text-anchor="end" fill="#222" textLength="17.4" lengthAdjust="spacingAndGlyphs">Trial 8</text>
<text transform="translate(254.8 850.0) rotate(-47)" font-size="6.4" text-anchor="end" fill="#222" textLength="17.4" lengthAdjust="spacingAndGlyphs">Trial 9</text>
<text transform="translate(262.5 850.0) rotate(-47)" font-size="6.4" text-anchor="end" fill="#222" textLength="20.6" lengthAdjust="spacingAndGlyphs">Trial 10</text>
<text transform="translate(270.2 850.0) rotate(-47)" font-size="6.4" text-anchor="end" fill="#222" textLength="20.6" lengthAdjust="spacingAndGlyphs">Trial 11</text>
<text transform="translate(278.0 850.0) rotate(-47)" font-size="6.4" text-anchor="end" fill="#222" textLength="20.6" lengthAdjust="spacingAndGlyphs">Trial 12</text>
<text transform="translate(285.7 850.0) rotate(-47)" font-size="6.4" text-anchor="end" fill="#222" textLength="20.6" lengthAdjust="spacingAndGlyphs">Trial 13</text>
<text transform="translate(293.4 850.0) rotate(-47)" font-size="6.4" text-anchor="end" fill="#222" textLength="20.6" lengthAdjust="spacingAndGlyphs">Trial 14</text>
<text transform="translate(301.1 850.0) rotate(-47)" font-size="6.4" text-anchor="end" fill="#222" textLength="20.6" lengthAdjust="spacingAndGlyphs">Trial 15</text>
<text x="243.0" y="759.0" font-size="7.2" text-anchor="middle" textLength="42.7" lengthAdjust="spacingAndGlyphs">WT vs zQ175</text>
<text transform="translate(164.8 803.6) rotate(-90)" font-size="7.3" text-anchor="middle" textLength="64.0" lengthAdjust="spacingAndGlyphs">Correct choice (%)</text>
<text x="243.7" y="875.1" font-size="7.2" text-anchor="middle" textLength="42.7" lengthAdjust="spacingAndGlyphs">Trial session</text>
<text x="156.0" y="757.8" font-size="7" textLength="6.2" lengthAdjust="spacingAndGlyphs">(i)</text>
<text x="251.3" y="830.3" font-size="4.8" text-anchor="end" textLength="7.8" lengthAdjust="spacingAndGlyphs">WT</text>
<line x1="253.0" y1="828.7" x2="262.3" y2="828.7" stroke="#f28c28" stroke-width="0.9" />
<circle cx="257.6" cy="828.7" r="1.3175" fill="#f28c28"/>
<text x="251.3" y="839.1" font-size="4.8" text-anchor="end" textLength="12.1" lengthAdjust="spacingAndGlyphs">Q175</text>
<line x1="253.0" y1="837.5" x2="262.3" y2="837.5" stroke="#4a9fd9" stroke-width="0.9" />
<path d="M257.6 835.8 L259.3 838.8 L256.0 838.8Z" fill="#4a9fd9"/>
<path d="M263.9 828.7H265.6V837.5H263.9" fill="none" stroke="#333" stroke-width="0.45"/>
<line x1="265.6" y1="833.1" x2="266.8" y2="833.1" stroke="#333" stroke-width="0.45" />
<text x="267.6" y="835.0" font-size="4.9" textLength="34.4" lengthAdjust="spacingAndGlyphs">***<tspan font-style="italic">P</tspan> = 0.0002</text>
<line x1="340.9" y1="792.2" x2="458.8" y2="792.2" stroke="#f39d94" stroke-width="0.8" stroke-dasharray="3.8 2.1"/>
<line x1="340.9" y1="760.4" x2="340.9" y2="845.0" stroke="#bcbcbc" stroke-width="1.0" />
<line x1="340.6" y1="844.8" x2="458.8" y2="844.8" stroke="#bcbcbc" stroke-width="1.0" />
<line x1="338.7" y1="760.6" x2="340.9" y2="760.6" stroke="#bcbcbc" stroke-width="0.5" />
<text x="336.4" y="762.7" font-size="6.2" text-anchor="end" fill="#222">100</text>
<line x1="338.7" y1="781.6" x2="340.9" y2="781.6" stroke="#bcbcbc" stroke-width="0.5" />
<text x="336.4" y="783.8" font-size="6.2" text-anchor="end" fill="#222">80</text>
<line x1="338.7" y1="802.7" x2="340.9" y2="802.7" stroke="#bcbcbc" stroke-width="0.5" />
<text x="336.4" y="804.8" font-size="6.2" text-anchor="end" fill="#222">60</text>
<line x1="338.7" y1="823.8" x2="340.9" y2="823.8" stroke="#bcbcbc" stroke-width="0.5" />
<text x="336.4" y="825.9" font-size="6.2" text-anchor="end" fill="#222">40</text>
<line x1="338.7" y1="844.8" x2="340.9" y2="844.8" stroke="#bcbcbc" stroke-width="0.5" />
<text x="336.4" y="846.9" font-size="6.2" text-anchor="end" fill="#222">20</text>
<line x1="346.0" y1="844.8" x2="346.0" y2="846.6" stroke="#bcbcbc" stroke-width="0.5" />
<line x1="353.7" y1="844.8" x2="353.7" y2="846.6" stroke="#bcbcbc" stroke-width="0.5" />
<line x1="361.4" y1="844.8" x2="361.4" y2="846.6" stroke="#bcbcbc" stroke-width="0.5" />
<line x1="369.1" y1="844.8" x2="369.1" y2="846.6" stroke="#bcbcbc" stroke-width="0.5" />
<line x1="376.8" y1="844.8" x2="376.8" y2="846.6" stroke="#bcbcbc" stroke-width="0.5" />
<line x1="384.5" y1="844.8" x2="384.5" y2="846.6" stroke="#bcbcbc" stroke-width="0.5" />
<line x1="392.2" y1="844.8" x2="392.2" y2="846.6" stroke="#bcbcbc" stroke-width="0.5" />
<line x1="399.9" y1="844.8" x2="399.9" y2="846.6" stroke="#bcbcbc" stroke-width="0.5" />
<line x1="407.6" y1="844.8" x2="407.6" y2="846.6" stroke="#bcbcbc" stroke-width="0.5" />
<line x1="415.3" y1="844.8" x2="415.3" y2="846.6" stroke="#bcbcbc" stroke-width="0.5" />
<line x1="423.0" y1="844.8" x2="423.0" y2="846.6" stroke="#bcbcbc" stroke-width="0.5" />
<line x1="430.7" y1="844.8" x2="430.7" y2="846.6" stroke="#bcbcbc" stroke-width="0.5" />
<line x1="438.4" y1="844.8" x2="438.4" y2="846.6" stroke="#bcbcbc" stroke-width="0.5" />
<line x1="446.1" y1="844.8" x2="446.1" y2="846.6" stroke="#bcbcbc" stroke-width="0.5" />
<line x1="453.8" y1="844.8" x2="453.8" y2="846.6" stroke="#bcbcbc" stroke-width="0.5" />
<path d="M346.0 837.1V842.4M344.6 837.1h2.8M344.6 842.4h2.8M353.7 829.9V837.2M352.3 829.9h2.8M352.3 837.2h2.8M361.4 822.3V830.7M360.0 822.3h2.8M360.0 830.7h2.8M369.1 814.7V823.1M367.7 814.7h2.8M367.7 823.1h2.8M376.8 807.6V815.0M375.4 807.6h2.8M375.4 815.0h2.8M384.5 797.5V808.1M383.1 797.5h2.8M383.1 808.1h2.8M392.2 792.7V805.3M390.8 792.7h2.8M390.8 805.3h2.8M399.9 789.8V800.3M398.5 789.8h2.8M398.5 800.3h2.8M407.6 786.8V797.3M406.2 786.8h2.8M406.2 797.3h2.8M415.3 778.8V785.1M413.9 778.8h2.8M413.9 785.1h2.8M423.0 773.4V781.9M421.6 773.4h2.8M421.6 781.9h2.8M430.7 773.0V778.3M429.3 773.0h2.8M429.3 778.3h2.8M438.4 769.2V775.5M437.0 769.2h2.8M437.0 775.5h2.8M446.1 768.3V774.6M444.7 768.3h2.8M444.7 774.6h2.8M453.8 769.4V776.8M452.4 769.4h2.8M452.4 776.8h2.8" fill="none" stroke="#8e44a5" stroke-width="0.75"/>
<path d="M346.0,839.7 353.7,833.5 361.4,826.5 369.1,818.9 376.8,811.3 384.5,802.8 392.2,799.0 399.9,795.0 407.6,792.1 415.3,782.0 423.0,777.7 430.7,775.7 438.4,772.4 446.1,771.4 453.8,773.1" fill="none" stroke="#8e44a5" stroke-width="1.1" stroke-linejoin="round"/>
<rect x="344.6" y="838.3" width="2.9" height="2.9" fill="#8e44a5"/>
<rect x="352.2" y="832.1" width="2.9" height="2.9" fill="#8e44a5"/>
<rect x="359.9" y="825.0" width="2.9" height="2.9" fill="#8e44a5"/>
<rect x="367.7" y="817.5" width="2.9" height="2.9" fill="#8e44a5"/>
<rect x="375.4" y="809.9" width="2.9" height="2.9" fill="#8e44a5"/>
<rect x="383.1" y="801.4" width="2.9" height="2.9" fill="#8e44a5"/>
<rect x="390.8" y="797.6" width="2.9" height="2.9" fill="#8e44a5"/>
<rect x="398.5" y="793.6" width="2.9" height="2.9" fill="#8e44a5"/>
<rect x="406.2" y="790.6" width="2.9" height="2.9" fill="#8e44a5"/>
<rect x="413.9" y="780.5" width="2.9" height="2.9" fill="#8e44a5"/>
<rect x="421.6" y="776.2" width="2.9" height="2.9" fill="#8e44a5"/>
<rect x="429.3" y="774.2" width="2.9" height="2.9" fill="#8e44a5"/>
<rect x="436.9" y="770.9" width="2.9" height="2.9" fill="#8e44a5"/>
<rect x="444.7" y="770.0" width="2.9" height="2.9" fill="#8e44a5"/>
<rect x="452.4" y="771.7" width="2.9" height="2.9" fill="#8e44a5"/>
<path d="M346.0 842.7V845.9M344.6 842.7h2.8M344.6 845.9h2.8M353.7 834.2V840.5M352.3 834.2h2.8M352.3 840.5h2.8M361.4 822.4V829.7M360.0 822.4h2.8M360.0 829.7h2.8M369.1 820.5V826.8M367.7 820.5h2.8M367.7 826.8h2.8M376.8 822.3V827.5M375.4 822.3h2.8M375.4 827.5h2.8M384.5 815.2V820.5M383.1 815.2h2.8M383.1 820.5h2.8M392.2 813.0V820.4M390.8 813.0h2.8M390.8 820.4h2.8M399.9 803.5V808.8M398.5 803.5h2.8M398.5 808.8h2.8M407.6 800.1V807.4M406.2 800.1h2.8M406.2 807.4h2.8M415.3 796.3V804.7M413.9 796.3h2.8M413.9 804.7h2.8M423.0 792.7V802.2M421.6 792.7h2.8M421.6 802.2h2.8M430.7 789.8V799.2M429.3 789.8h2.8M429.3 799.2h2.8M438.4 781.3V789.8M437.0 781.3h2.8M437.0 789.8h2.8M446.1 780.6V788.0M444.7 780.6h2.8M444.7 788.0h2.8M453.8 778.3V786.7M452.4 778.3h2.8M452.4 786.7h2.8" fill="none" stroke="#4a9fd9" stroke-width="0.75"/>
<path d="M346.0,844.3 353.7,837.3 361.4,826.1 369.1,823.6 376.8,824.9 384.5,817.9 392.2,816.7 399.9,806.2 407.6,803.8 415.3,800.5 423.0,797.4 430.7,794.5 438.4,785.5 446.1,784.3 453.8,782.5" fill="none" stroke="#4a9fd9" stroke-width="1.1" stroke-linejoin="round"/>
<path d="M346.0 842.2 L347.9 845.8 L344.1 845.8Z" fill="#4a9fd9"/>
<path d="M353.7 835.3 L355.6 838.9 L351.8 838.9Z" fill="#4a9fd9"/>
<path d="M361.4 824.0 L363.3 827.6 L359.5 827.6Z" fill="#4a9fd9"/>
<path d="M369.1 821.6 L371.0 825.2 L367.2 825.2Z" fill="#4a9fd9"/>
<path d="M376.8 822.9 L378.7 826.4 L374.9 826.4Z" fill="#4a9fd9"/>
<path d="M384.5 815.8 L386.4 819.4 L382.6 819.4Z" fill="#4a9fd9"/>
<path d="M392.2 814.6 L394.1 818.2 L390.3 818.2Z" fill="#4a9fd9"/>
<path d="M399.9 804.1 L401.8 807.7 L398.0 807.7Z" fill="#4a9fd9"/>
<path d="M407.6 801.7 L409.5 805.3 L405.7 805.3Z" fill="#4a9fd9"/>
<path d="M415.3 798.4 L417.2 802.0 L413.4 802.0Z" fill="#4a9fd9"/>
<path d="M423.0 795.4 L424.9 799.0 L421.1 799.0Z" fill="#4a9fd9"/>
<path d="M430.7 792.4 L432.6 796.0 L428.8 796.0Z" fill="#4a9fd9"/>
<path d="M438.4 783.5 L440.3 787.1 L436.5 787.1Z" fill="#4a9fd9"/>
<path d="M446.1 782.2 L448.0 785.8 L444.2 785.8Z" fill="#4a9fd9"/>
<path d="M453.8 780.4 L455.7 784.0 L451.9 784.0Z" fill="#4a9fd9"/>
<text transform="translate(348.9 850.4) rotate(-47)" font-size="6.4" text-anchor="end" fill="#222" textLength="17.4" lengthAdjust="spacingAndGlyphs">Trial 1</text>
<text transform="translate(356.6 850.4) rotate(-47)" font-size="6.4" text-anchor="end" fill="#222" textLength="17.4" lengthAdjust="spacingAndGlyphs">Trial 2</text>
<text transform="translate(364.3 850.4) rotate(-47)" font-size="6.4" text-anchor="end" fill="#222" textLength="17.4" lengthAdjust="spacingAndGlyphs">Trial 3</text>
<text transform="translate(372.0 850.4) rotate(-47)" font-size="6.4" text-anchor="end" fill="#222" textLength="17.4" lengthAdjust="spacingAndGlyphs">Trial 4</text>
<text transform="translate(379.7 850.4) rotate(-47)" font-size="6.4" text-anchor="end" fill="#222" textLength="17.4" lengthAdjust="spacingAndGlyphs">Trial 5</text>
<text transform="translate(387.4 850.4) rotate(-47)" font-size="6.4" text-anchor="end" fill="#222" textLength="17.4" lengthAdjust="spacingAndGlyphs">Trial 6</text>
<text transform="translate(395.1 850.4) rotate(-47)" font-size="6.4" text-anchor="end" fill="#222" textLength="17.4" lengthAdjust="spacingAndGlyphs">Trial 7</text>
<text transform="translate(402.8 850.4) rotate(-47)" font-size="6.4" text-anchor="end" fill="#222" textLength="17.4" lengthAdjust="spacingAndGlyphs">Trial 8</text>
<text transform="translate(410.5 850.4) rotate(-47)" font-size="6.4" text-anchor="end" fill="#222" textLength="17.4" lengthAdjust="spacingAndGlyphs">Trial 9</text>
<text transform="translate(418.2 850.4) rotate(-47)" font-size="6.4" text-anchor="end" fill="#222" textLength="20.6" lengthAdjust="spacingAndGlyphs">Trial 10</text>
<text transform="translate(425.9 850.4) rotate(-47)" font-size="6.4" text-anchor="end" fill="#222" textLength="20.6" lengthAdjust="spacingAndGlyphs">Trial 11</text>
<text transform="translate(433.6 850.4) rotate(-47)" font-size="6.4" text-anchor="end" fill="#222" textLength="20.6" lengthAdjust="spacingAndGlyphs">Trial 12</text>
<text transform="translate(441.3 850.4) rotate(-47)" font-size="6.4" text-anchor="end" fill="#222" textLength="20.6" lengthAdjust="spacingAndGlyphs">Trial 13</text>
<text transform="translate(449.0 850.4) rotate(-47)" font-size="6.4" text-anchor="end" fill="#222" textLength="20.6" lengthAdjust="spacingAndGlyphs">Trial 14</text>
<text transform="translate(456.7 850.4) rotate(-47)" font-size="6.4" text-anchor="end" fill="#222" textLength="20.6" lengthAdjust="spacingAndGlyphs">Trial 15</text>
<text x="407.4" y="759.0" font-size="7.2" text-anchor="middle" textLength="81.6" lengthAdjust="spacingAndGlyphs">zQ175 vs zQ175 CR3 KO</text>
<text transform="translate(321.8 804.3) rotate(-90)" font-size="7.3" text-anchor="middle" textLength="64.0" lengthAdjust="spacingAndGlyphs">Correct choice (%)</text>
<text x="400.0" y="875.1" font-size="7.2" text-anchor="middle" textLength="42.7" lengthAdjust="spacingAndGlyphs">Trial session</text>
<text x="313.8" y="757.8" font-size="7" textLength="8.8" lengthAdjust="spacingAndGlyphs">(ii)</text>
<text x="415.0" y="833.6" font-size="4.8" text-anchor="end" textLength="32.1" lengthAdjust="spacingAndGlyphs">Q175 CR3KO</text>
<line x1="417.3" y1="832.0" x2="427.6" y2="832.0" stroke="#8e44a5" stroke-width="0.9" />
<rect x="421.2" y="830.8" width="2.465" height="2.465" fill="#8e44a5"/>
<text x="415.0" y="839.2" font-size="4.8" text-anchor="end" textLength="11.5" lengthAdjust="spacingAndGlyphs">Q175</text>
<line x1="417.3" y1="837.6" x2="427.6" y2="837.6" stroke="#4a9fd9" stroke-width="0.9" />
<path d="M422.5 835.9 L424.1 838.9 L420.8 838.9Z" fill="#4a9fd9"/>
<path d="M428.6 832.0H429.8V837.6H428.6" fill="none" stroke="#333" stroke-width="0.45"/>
<line x1="429.8" y1="834.8" x2="431.0" y2="834.8" stroke="#333" stroke-width="0.45" />
<text x="431.2" y="837.9" font-size="4.9" textLength="30.8" lengthAdjust="spacingAndGlyphs">***<tspan font-style="italic">P</tspan> = 0.008</text>
<line x1="498.8" y1="791.5" x2="617.0" y2="791.5" stroke="#f39d94" stroke-width="0.8" stroke-dasharray="3.8 2.1"/>
<line x1="498.8" y1="759.8" x2="498.8" y2="844.2" stroke="#6a6a6a" stroke-width="0.5" />
<line x1="498.6" y1="844.0" x2="617.0" y2="844.0" stroke="#6a6a6a" stroke-width="0.5" />
<line x1="496.6" y1="760.0" x2="498.8" y2="760.0" stroke="#6a6a6a" stroke-width="0.5" />
<text x="494.0" y="762.1" font-size="6.2" text-anchor="end" fill="#222">100</text>
<line x1="496.6" y1="781.0" x2="498.8" y2="781.0" stroke="#6a6a6a" stroke-width="0.5" />
<text x="494.0" y="783.1" font-size="6.2" text-anchor="end" fill="#222">80</text>
<line x1="496.6" y1="802.0" x2="498.8" y2="802.0" stroke="#6a6a6a" stroke-width="0.5" />
<text x="494.0" y="804.1" font-size="6.2" text-anchor="end" fill="#222">60</text>
<line x1="496.6" y1="823.0" x2="498.8" y2="823.0" stroke="#6a6a6a" stroke-width="0.5" />
<text x="494.0" y="825.1" font-size="6.2" text-anchor="end" fill="#222">40</text>
<line x1="496.6" y1="844.0" x2="498.8" y2="844.0" stroke="#6a6a6a" stroke-width="0.5" />
<text x="494.0" y="846.1" font-size="6.2" text-anchor="end" fill="#222">20</text>
<line x1="503.7" y1="844.0" x2="503.7" y2="845.8" stroke="#6a6a6a" stroke-width="0.5" />
<line x1="511.4" y1="844.0" x2="511.4" y2="845.8" stroke="#6a6a6a" stroke-width="0.5" />
<line x1="519.0" y1="844.0" x2="519.0" y2="845.8" stroke="#6a6a6a" stroke-width="0.5" />
<line x1="526.7" y1="844.0" x2="526.7" y2="845.8" stroke="#6a6a6a" stroke-width="0.5" />
<line x1="534.4" y1="844.0" x2="534.4" y2="845.8" stroke="#6a6a6a" stroke-width="0.5" />
<line x1="542.1" y1="844.0" x2="542.1" y2="845.8" stroke="#6a6a6a" stroke-width="0.5" />
<line x1="549.7" y1="844.0" x2="549.7" y2="845.8" stroke="#6a6a6a" stroke-width="0.5" />
<line x1="557.4" y1="844.0" x2="557.4" y2="845.8" stroke="#6a6a6a" stroke-width="0.5" />
<line x1="565.1" y1="844.0" x2="565.1" y2="845.8" stroke="#6a6a6a" stroke-width="0.5" />
<line x1="572.7" y1="844.0" x2="572.7" y2="845.8" stroke="#6a6a6a" stroke-width="0.5" />
<line x1="580.4" y1="844.0" x2="580.4" y2="845.8" stroke="#6a6a6a" stroke-width="0.5" />
<line x1="588.1" y1="844.0" x2="588.1" y2="845.8" stroke="#6a6a6a" stroke-width="0.5" />
<line x1="595.8" y1="844.0" x2="595.8" y2="845.8" stroke="#6a6a6a" stroke-width="0.5" />
<line x1="603.4" y1="844.0" x2="603.4" y2="845.8" stroke="#6a6a6a" stroke-width="0.5" />
<line x1="611.1" y1="844.0" x2="611.1" y2="845.8" stroke="#6a6a6a" stroke-width="0.5" />
<path d="M503.7 840.6V844.8M502.3 840.6h2.8M502.3 844.8h2.8M511.4 835.9V842.2M510.0 835.9h2.8M510.0 842.2h2.8M519.0 829.0V834.2M517.6 829.0h2.8M517.6 834.2h2.8M526.7 822.7V827.9M525.3 822.7h2.8M525.3 827.9h2.8M534.4 820.8V825.0M533.0 820.8h2.8M533.0 825.0h2.8M542.1 811.8V818.1M540.7 811.8h2.8M540.7 818.1h2.8M549.7 807.8V813.0M548.3 807.8h2.8M548.3 813.0h2.8M557.4 797.8V804.1M556.0 797.8h2.8M556.0 804.1h2.8M565.1 791.6V797.9M563.7 791.6h2.8M563.7 797.9h2.8M572.7 784.9V791.2M571.3 784.9h2.8M571.3 791.2h2.8M580.4 779.2V785.5M579.0 779.2h2.8M579.0 785.5h2.8M588.1 777.2V782.5M586.7 777.2h2.8M586.7 782.5h2.8M595.8 773.0V777.2M594.4 773.0h2.8M594.4 777.2h2.8M603.4 771.8V777.0M602.0 771.8h2.8M602.0 777.0h2.8M611.1 771.8V777.0M609.7 771.8h2.8M609.7 777.0h2.8" fill="none" stroke="#f28c28" stroke-width="0.75"/>
<path d="M503.7,842.7 511.4,839.1 519.0,831.6 526.7,825.3 534.4,822.9 542.1,814.9 549.7,810.4 557.4,801.0 565.1,794.8 572.7,788.0 580.4,782.4 588.1,779.8 595.8,775.1 603.4,774.4 611.1,774.4" fill="none" stroke="#f28c28" stroke-width="1.1" stroke-linejoin="round"/>
<circle cx="503.7" cy="842.7" r="1.55" fill="#f28c28"/>
<circle cx="511.4" cy="839.1" r="1.55" fill="#f28c28"/>
<circle cx="519.0" cy="831.6" r="1.55" fill="#f28c28"/>
<circle cx="526.7" cy="825.3" r="1.55" fill="#f28c28"/>
<circle cx="534.4" cy="822.9" r="1.55" fill="#f28c28"/>
<circle cx="542.1" cy="814.9" r="1.55" fill="#f28c28"/>
<circle cx="549.7" cy="810.4" r="1.55" fill="#f28c28"/>
<circle cx="557.4" cy="801.0" r="1.55" fill="#f28c28"/>
<circle cx="565.1" cy="794.8" r="1.55" fill="#f28c28"/>
<circle cx="572.7" cy="788.0" r="1.55" fill="#f28c28"/>
<circle cx="580.4" cy="782.4" r="1.55" fill="#f28c28"/>
<circle cx="588.1" cy="779.8" r="1.55" fill="#f28c28"/>
<circle cx="595.8" cy="775.1" r="1.55" fill="#f28c28"/>
<circle cx="603.4" cy="774.4" r="1.55" fill="#f28c28"/>
<circle cx="611.1" cy="774.4" r="1.55" fill="#f28c28"/>
<path d="M503.7 836.3V841.6M502.3 836.3h2.8M502.3 841.6h2.8M511.4 829.1V836.4M510.0 829.1h2.8M510.0 836.4h2.8M519.0 821.5V829.9M517.6 821.5h2.8M517.6 829.9h2.8M526.7 814.0V822.4M525.3 814.0h2.8M525.3 822.4h2.8M534.4 806.9V814.3M533.0 806.9h2.8M533.0 814.3h2.8M542.1 796.9V807.4M540.7 796.9h2.8M540.7 807.4h2.8M549.7 792.0V804.6M548.3 792.0h2.8M548.3 804.6h2.8M557.4 789.1V799.6M556.0 789.1h2.8M556.0 799.6h2.8M565.1 786.1V796.6M563.7 786.1h2.8M563.7 796.6h2.8M572.7 778.2V784.5M571.3 778.2h2.8M571.3 784.5h2.8M580.4 772.8V781.2M579.0 772.8h2.8M579.0 781.2h2.8M588.1 772.4V777.6M586.7 772.4h2.8M586.7 777.6h2.8M595.8 768.6V774.9M594.4 768.6h2.8M594.4 774.9h2.8M603.4 767.7V774.0M602.0 767.7h2.8M602.0 774.0h2.8M611.1 768.8V776.2M609.7 768.8h2.8M609.7 776.2h2.8" fill="none" stroke="#8e44a5" stroke-width="0.75"/>
<path d="M503.7,839.0 511.4,832.8 519.0,825.7 526.7,818.2 534.4,810.6 542.1,802.1 549.7,798.3 557.4,794.3 565.1,791.4 572.7,781.3 580.4,777.0 588.1,775.0 595.8,771.8 603.4,770.8 611.1,772.5" fill="none" stroke="#8e44a5" stroke-width="1.1" stroke-linejoin="round"/>
<rect x="502.2" y="837.5" width="2.9" height="2.9" fill="#8e44a5"/>
<rect x="509.9" y="831.3" width="2.9" height="2.9" fill="#8e44a5"/>
<rect x="517.6" y="824.3" width="2.9" height="2.9" fill="#8e44a5"/>
<rect x="525.3" y="816.7" width="2.9" height="2.9" fill="#8e44a5"/>
<rect x="532.9" y="809.2" width="2.9" height="2.9" fill="#8e44a5"/>
<rect x="540.6" y="800.7" width="2.9" height="2.9" fill="#8e44a5"/>
<rect x="548.3" y="796.9" width="2.9" height="2.9" fill="#8e44a5"/>
<rect x="555.9" y="792.9" width="2.9" height="2.9" fill="#8e44a5"/>
<rect x="563.6" y="789.9" width="2.9" height="2.9" fill="#8e44a5"/>
<rect x="571.3" y="779.9" width="2.9" height="2.9" fill="#8e44a5"/>
<rect x="579.0" y="775.6" width="2.9" height="2.9" fill="#8e44a5"/>
<rect x="586.6" y="773.6" width="2.9" height="2.9" fill="#8e44a5"/>
<rect x="594.3" y="770.3" width="2.9" height="2.9" fill="#8e44a5"/>
<rect x="602.0" y="769.4" width="2.9" height="2.9" fill="#8e44a5"/>
<rect x="609.6" y="771.0" width="2.9" height="2.9" fill="#8e44a5"/>
<path d="M503.7 839.8V844.0M502.3 839.8h2.8M502.3 844.0h2.8M511.4 831.4V837.7M510.0 831.4h2.8M510.0 837.7h2.8M519.0 821.4V828.8M517.6 821.4h2.8M517.6 828.8h2.8M526.7 814.6V820.9M525.3 814.6h2.8M525.3 820.9h2.8M534.4 812.0V819.3M533.0 812.0h2.8M533.0 819.3h2.8M542.1 808.3V816.7M540.7 808.3h2.8M540.7 816.7h2.8M549.7 796.2V805.7M548.3 796.2h2.8M548.3 805.7h2.8M557.4 792.5V801.0M556.0 792.5h2.8M556.0 801.0h2.8M565.1 787.8V795.2M563.7 787.8h2.8M563.7 795.2h2.8M572.7 782.6V789.9M571.3 782.6h2.8M571.3 789.9h2.8M580.4 778.4V785.7M579.0 778.4h2.8M579.0 785.7h2.8M588.1 776.8V783.1M586.7 776.8h2.8M586.7 783.1h2.8M595.8 773.6V779.9M594.4 773.6h2.8M594.4 779.9h2.8M603.4 772.6V778.9M602.0 772.6h2.8M602.0 778.9h2.8M611.1 773.1V780.5M609.7 773.1h2.8M609.7 780.5h2.8" fill="none" stroke="#56b947" stroke-width="0.75"/>
<path d="M503.7,841.9 511.4,834.5 519.0,825.1 526.7,817.8 534.4,815.6 542.1,812.5 549.7,801.0 557.4,796.8 565.1,791.5 572.7,786.2 580.4,782.0 588.1,780.0 595.8,776.8 603.4,775.8 611.1,776.8" fill="none" stroke="#56b947" stroke-width="1.1" stroke-linejoin="round"/>
<rect x="502.2" y="840.4" width="2.9" height="2.9" fill="#56b947"/>
<rect x="509.9" y="833.1" width="2.9" height="2.9" fill="#56b947"/>
<rect x="517.6" y="823.6" width="2.9" height="2.9" fill="#56b947"/>
<rect x="525.3" y="816.3" width="2.9" height="2.9" fill="#56b947"/>
<rect x="532.9" y="814.2" width="2.9" height="2.9" fill="#56b947"/>
<rect x="540.6" y="811.0" width="2.9" height="2.9" fill="#56b947"/>
<rect x="548.3" y="799.5" width="2.9" height="2.9" fill="#56b947"/>
<rect x="555.9" y="795.3" width="2.9" height="2.9" fill="#56b947"/>
<rect x="563.6" y="790.0" width="2.9" height="2.9" fill="#56b947"/>
<rect x="571.3" y="784.8" width="2.9" height="2.9" fill="#56b947"/>
<rect x="579.0" y="780.6" width="2.9" height="2.9" fill="#56b947"/>
<rect x="586.6" y="778.5" width="2.9" height="2.9" fill="#56b947"/>
<rect x="594.3" y="775.3" width="2.9" height="2.9" fill="#56b947"/>
<rect x="602.0" y="774.3" width="2.9" height="2.9" fill="#56b947"/>
<rect x="609.6" y="775.3" width="2.9" height="2.9" fill="#56b947"/>
<path d="M503.7 841.9V845.1M502.3 841.9h2.8M502.3 845.1h2.8M511.4 833.4V839.7M510.0 833.4h2.8M510.0 839.7h2.8M519.0 821.6V829.0M517.6 821.6h2.8M517.6 829.0h2.8M526.7 819.7V826.0M525.3 819.7h2.8M525.3 826.0h2.8M534.4 821.5V826.8M533.0 821.5h2.8M533.0 826.8h2.8M542.1 814.5V819.7M540.7 814.5h2.8M540.7 819.7h2.8M549.7 812.3V819.6M548.3 812.3h2.8M548.3 819.6h2.8M557.4 802.8V808.1M556.0 802.8h2.8M556.0 808.1h2.8M565.1 799.4V806.7M563.7 799.4h2.8M563.7 806.7h2.8M572.7 795.6V804.0M571.3 795.6h2.8M571.3 804.0h2.8M580.4 792.0V801.5M579.0 792.0h2.8M579.0 801.5h2.8M588.1 789.1V798.5M586.7 789.1h2.8M586.7 798.5h2.8M595.8 780.7V789.1M594.4 780.7h2.8M594.4 789.1h2.8M603.4 780.0V787.3M602.0 780.0h2.8M602.0 787.3h2.8M611.1 777.6V786.0M609.7 777.6h2.8M609.7 786.0h2.8" fill="none" stroke="#4a9fd9" stroke-width="0.75"/>
<path d="M503.7,843.5 511.4,836.5 519.0,825.3 526.7,822.9 534.4,824.2 542.1,817.1 549.7,816.0 557.4,805.5 565.1,803.0 572.7,799.8 580.4,796.8 588.1,793.8 595.8,784.9 603.4,783.6 611.1,781.8" fill="none" stroke="#4a9fd9" stroke-width="1.1" stroke-linejoin="round"/>
<path d="M503.7 841.4 L505.6 845.0 L501.8 845.0Z" fill="#4a9fd9"/>
<path d="M511.4 834.5 L513.3 838.1 L509.4 838.1Z" fill="#4a9fd9"/>
<path d="M519.0 823.3 L521.0 826.8 L517.1 826.8Z" fill="#4a9fd9"/>
<path d="M526.7 820.8 L528.7 824.4 L524.8 824.4Z" fill="#4a9fd9"/>
<path d="M534.4 822.1 L536.3 825.7 L532.4 825.7Z" fill="#4a9fd9"/>
<path d="M542.1 815.1 L544.0 818.7 L540.1 818.7Z" fill="#4a9fd9"/>
<path d="M549.7 813.9 L551.7 817.5 L547.8 817.5Z" fill="#4a9fd9"/>
<path d="M557.4 803.4 L559.3 807.0 L555.5 807.0Z" fill="#4a9fd9"/>
<path d="M565.1 801.0 L567.0 804.6 L563.1 804.6Z" fill="#4a9fd9"/>
<path d="M572.7 797.7 L574.7 801.3 L570.8 801.3Z" fill="#4a9fd9"/>
<path d="M580.4 794.7 L582.4 798.3 L578.5 798.3Z" fill="#4a9fd9"/>
<path d="M588.1 791.8 L590.0 795.3 L586.1 795.3Z" fill="#4a9fd9"/>
<path d="M595.8 782.8 L597.7 786.4 L593.8 786.4Z" fill="#4a9fd9"/>
<path d="M603.4 781.6 L605.4 785.2 L601.5 785.2Z" fill="#4a9fd9"/>
<path d="M611.1 779.8 L613.0 783.4 L609.2 783.4Z" fill="#4a9fd9"/>
<text transform="translate(506.6 849.6) rotate(-47)" font-size="6.4" text-anchor="end" fill="#222" textLength="17.4" lengthAdjust="spacingAndGlyphs">Trial 1</text>
<text transform="translate(514.3 849.6) rotate(-47)" font-size="6.4" text-anchor="end" fill="#222" textLength="17.4" lengthAdjust="spacingAndGlyphs">Trial 2</text>
<text transform="translate(521.9 849.6) rotate(-47)" font-size="6.4" text-anchor="end" fill="#222" textLength="17.4" lengthAdjust="spacingAndGlyphs">Trial 3</text>
<text transform="translate(529.6 849.6) rotate(-47)" font-size="6.4" text-anchor="end" fill="#222" textLength="17.4" lengthAdjust="spacingAndGlyphs">Trial 4</text>
<text transform="translate(537.3 849.6) rotate(-47)" font-size="6.4" text-anchor="end" fill="#222" textLength="17.4" lengthAdjust="spacingAndGlyphs">Trial 5</text>
<text transform="translate(545.0 849.6) rotate(-47)" font-size="6.4" text-anchor="end" fill="#222" textLength="17.4" lengthAdjust="spacingAndGlyphs">Trial 6</text>
<text transform="translate(552.6 849.6) rotate(-47)" font-size="6.4" text-anchor="end" fill="#222" textLength="17.4" lengthAdjust="spacingAndGlyphs">Trial 7</text>
<text transform="translate(560.3 849.6) rotate(-47)" font-size="6.4" text-anchor="end" fill="#222" textLength="17.4" lengthAdjust="spacingAndGlyphs">Trial 8</text>
<text transform="translate(568.0 849.6) rotate(-47)" font-size="6.4" text-anchor="end" fill="#222" textLength="17.4" lengthAdjust="spacingAndGlyphs">Trial 9</text>
<text transform="translate(575.6 849.6) rotate(-47)" font-size="6.4" text-anchor="end" fill="#222" textLength="20.6" lengthAdjust="spacingAndGlyphs">Trial 10</text>
<text transform="translate(583.3 849.6) rotate(-47)" font-size="6.4" text-anchor="end" fill="#222" textLength="20.6" lengthAdjust="spacingAndGlyphs">Trial 11</text>
<text transform="translate(591.0 849.6) rotate(-47)" font-size="6.4" text-anchor="end" fill="#222" textLength="20.6" lengthAdjust="spacingAndGlyphs">Trial 12</text>
<text transform="translate(598.7 849.6) rotate(-47)" font-size="6.4" text-anchor="end" fill="#222" textLength="20.6" lengthAdjust="spacingAndGlyphs">Trial 13</text>
<text transform="translate(606.3 849.6) rotate(-47)" font-size="6.4" text-anchor="end" fill="#222" textLength="20.6" lengthAdjust="spacingAndGlyphs">Trial 14</text>
<text transform="translate(614.0 849.6) rotate(-47)" font-size="6.4" text-anchor="end" fill="#222" textLength="20.6" lengthAdjust="spacingAndGlyphs">Trial 15</text>
<text x="562.4" y="757.4" font-size="7.2" text-anchor="middle" textLength="35.2" lengthAdjust="spacingAndGlyphs">All groups</text>
<text transform="translate(479.3 801.7) rotate(-90)" font-size="7.3" text-anchor="middle" textLength="64.0" lengthAdjust="spacingAndGlyphs">Correct choice (%)</text>
<text x="557.6" y="874.7" font-size="7.2" text-anchor="middle" textLength="42.7" lengthAdjust="spacingAndGlyphs">Trial session</text>
<text x="471.5" y="756.4" font-size="7" textLength="9.9" lengthAdjust="spacingAndGlyphs">(iii)</text>
<text x="577.3" y="820.1" font-size="4.8" text-anchor="end" textLength="7.4" lengthAdjust="spacingAndGlyphs">WT</text>
<line x1="579.3" y1="818.5" x2="589.1" y2="818.5" stroke="#f28c28" stroke-width="0.9" />
<circle cx="584.2" cy="818.5" r="1.3175" fill="#f28c28"/>
<text x="577.3" y="826.4" font-size="4.8" text-anchor="end" textLength="17.5" lengthAdjust="spacingAndGlyphs">CR3KO</text>
<line x1="579.3" y1="824.8" x2="589.1" y2="824.8" stroke="#56b947" stroke-width="0.9" />
<rect x="583.0" y="823.6" width="2.465" height="2.465" fill="#56b947"/>
<text x="577.3" y="832.9" font-size="4.8" text-anchor="end" textLength="31.3" lengthAdjust="spacingAndGlyphs">Q175 CR3KO</text>
<line x1="579.3" y1="831.3" x2="589.1" y2="831.3" stroke="#8e44a5" stroke-width="0.9" />
<rect x="583.0" y="830.1" width="2.465" height="2.465" fill="#8e44a5"/>
<text x="577.3" y="839.5" font-size="4.8" text-anchor="end" textLength="11.4" lengthAdjust="spacingAndGlyphs">Q175</text>
<line x1="579.3" y1="837.9" x2="589.1" y2="837.9" stroke="#4a9fd9" stroke-width="0.9" />
<path d="M584.2 836.2 L585.9 839.2 L582.5 839.2Z" fill="#4a9fd9"/>
<path d="M591.0 817.4H592.2V825.6H591.0" fill="none" stroke="#333" stroke-width="0.45"/>
<line x1="592.2" y1="821.5" x2="593.4" y2="821.5" stroke="#333" stroke-width="0.45" />
<text x="595.3" y="823.2" font-size="4.9" textLength="23.4" lengthAdjust="spacingAndGlyphs"><tspan font-style="italic">P</tspan> = 0.092</text>
<path d="M591.0 830.6H592.2V838.6H591.0" fill="none" stroke="#333" stroke-width="0.45"/>
<line x1="592.2" y1="834.6" x2="593.4" y2="834.6" stroke="#333" stroke-width="0.45" />
<text x="593.0" y="836.4" font-size="4.9" textLength="25.7" lengthAdjust="spacingAndGlyphs">**<tspan font-style="italic">P</tspan> = 0.008</text>
<path d="M620.1 817.4H621.8V838.0H620.1" fill="none" stroke="#333" stroke-width="0.45"/>
<line x1="621.8" y1="827.7" x2="623.0" y2="827.7" stroke="#333" stroke-width="0.45" />
<text x="623.6" y="826.8" font-size="4.9" textLength="22.0" lengthAdjust="spacingAndGlyphs"><tspan font-style="italic">P</tspan> = 0.577</text>
<path d="M646.7 815.6H648.4V839.0H646.7" fill="none" stroke="#333" stroke-width="0.45"/>
<line x1="648.4" y1="827.3" x2="649.6" y2="827.3" stroke="#333" stroke-width="0.45" />
<text x="650.5" y="829.1" font-size="4.9" textLength="34.4" lengthAdjust="spacingAndGlyphs">***<tspan font-style="italic">P</tspan> = 0.0002</text>
</svg>
</body></html>
